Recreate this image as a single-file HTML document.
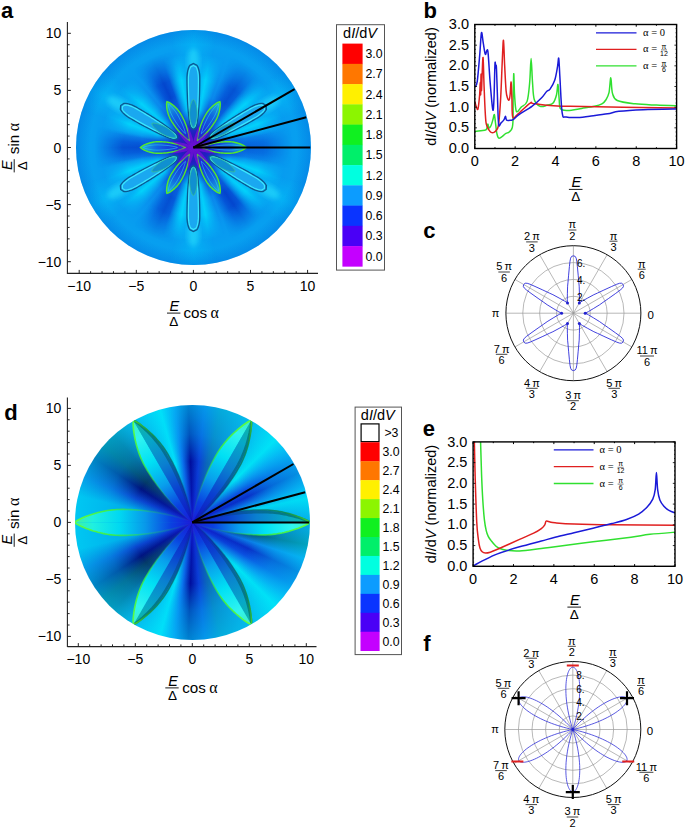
<!DOCTYPE html><html><head><meta charset="utf-8"><style>
html,body{margin:0;padding:0;background:#fff;width:685px;height:828px;overflow:hidden}
.dk{position:absolute;border-radius:50%;overflow:hidden}
svg{position:absolute;left:0;top:0}
</style></head><body>
<div class="dk" style="left:76.10px;top:30.20px;width:234.60px;height:234.60px;background:radial-gradient(circle closest-side, #3a10b0 0%, #2020c0 12%, #0c50d8 28%, #0a88ec 45%, #0898f0 70%, #06a4f0 100%);"></div>
<div class="dk" style="left:76.10px;top:30.20px;width:234.60px;height:234.60px;background:conic-gradient(rgba(0,32,200,0.000) 0deg,rgba(0,32,200,0.000) 22.00deg,rgba(0,24,192,0.400) 30.00deg,rgba(0,20,184,0.500) 35.00deg,rgba(0,24,192,0.400) 40.00deg,rgba(0,32,200,0.000) 48.00deg,rgba(0,32,200,0.000) 77.00deg,rgba(0,24,192,0.280) 85.00deg,rgba(0,20,184,0.350) 90.00deg,rgba(0,24,192,0.280) 95.00deg,rgba(0,32,200,0.000) 103.00deg,rgba(0,32,200,0.000) 132.00deg,rgba(0,24,192,0.480) 140.00deg,rgba(0,20,184,0.600) 145.00deg,rgba(0,24,192,0.480) 150.00deg,rgba(0,32,200,0.000) 158.00deg,rgba(0,32,200,0.000) 192.00deg,rgba(0,24,192,0.400) 200.00deg,rgba(0,20,184,0.500) 205.00deg,rgba(0,24,192,0.400) 210.00deg,rgba(0,32,200,0.000) 218.00deg,rgba(0,32,200,0.000) 257.00deg,rgba(0,24,192,0.400) 265.00deg,rgba(0,20,184,0.500) 270.00deg,rgba(0,24,192,0.400) 275.00deg,rgba(0,32,200,0.000) 283.00deg,rgba(0,32,200,0.000) 322.00deg,rgba(0,24,192,0.480) 330.00deg,rgba(0,20,184,0.600) 335.00deg,rgba(0,24,192,0.480) 340.00deg,rgba(0,32,200,0.000) 348.00deg,rgba(0,32,200,0.000) 360deg);-webkit-mask-image:radial-gradient(circle closest-side, transparent 30%, #000 46%, #000 60%, transparent 84%);mask-image:radial-gradient(circle closest-side, transparent 30%, #000 46%, #000 60%, transparent 84%)"></div>
<div class="dk" style="left:76.10px;top:30.20px;width:234.60px;height:234.60px;background:conic-gradient(rgba(0,224,255,0.350) 0deg,rgba(0,224,255,0.350) 4.00deg,rgba(0,232,255,0.750) 10.00deg,rgba(0,224,255,0.000) 20.00deg,rgba(0,224,255,0.000) 40.00deg,rgba(0,232,255,0.750) 50.00deg,rgba(0,224,255,0.350) 56.00deg,rgba(0,224,255,0.350) 64.00deg,rgba(0,232,255,0.750) 70.00deg,rgba(0,224,255,0.000) 80.00deg,rgba(0,224,255,0.000) 100.00deg,rgba(0,232,255,0.750) 110.00deg,rgba(0,224,255,0.350) 116.00deg,rgba(0,224,255,0.350) 124.00deg,rgba(0,232,255,0.750) 130.00deg,rgba(0,224,255,0.000) 140.00deg,rgba(0,224,255,0.000) 160.00deg,rgba(0,232,255,0.750) 170.00deg,rgba(0,224,255,0.350) 176.00deg,rgba(0,224,255,0.350) 184.00deg,rgba(0,232,255,0.750) 190.00deg,rgba(0,224,255,0.000) 200.00deg,rgba(0,224,255,0.000) 220.00deg,rgba(0,232,255,0.750) 230.00deg,rgba(0,224,255,0.350) 236.00deg,rgba(0,224,255,0.350) 244.00deg,rgba(0,232,255,0.750) 250.00deg,rgba(0,224,255,0.000) 260.00deg,rgba(0,224,255,0.000) 280.00deg,rgba(0,232,255,0.750) 290.00deg,rgba(0,224,255,0.350) 296.00deg,rgba(0,224,255,0.350) 304.00deg,rgba(0,232,255,0.750) 310.00deg,rgba(0,224,255,0.000) 320.00deg,rgba(0,224,255,0.000) 340.00deg,rgba(0,232,255,0.750) 350.00deg,rgba(0,224,255,0.350) 356.00deg,rgba(0,224,255,0.350) 360deg);-webkit-mask-image:radial-gradient(circle closest-side, transparent 18%, #000 32%, #000 58%, transparent 80%);mask-image:radial-gradient(circle closest-side, transparent 18%, #000 32%, #000 58%, transparent 80%)"></div>
<div class="dk" style="left:76.10px;top:30.20px;width:234.60px;height:234.60px;background:conic-gradient(rgba(0,216,255,0.300) 0deg,rgba(0,216,255,0.300) 0.00deg,rgba(0,216,255,0.000) 12.00deg,rgba(0,216,255,0.000) 48.00deg,rgba(0,216,255,0.300) 60.00deg,rgba(0,216,255,0.000) 72.00deg,rgba(0,216,255,0.000) 108.00deg,rgba(0,216,255,0.300) 120.00deg,rgba(0,216,255,0.000) 132.00deg,rgba(0,216,255,0.000) 168.00deg,rgba(0,216,255,0.300) 180.00deg,rgba(0,216,255,0.000) 192.00deg,rgba(0,216,255,0.000) 228.00deg,rgba(0,216,255,0.300) 240.00deg,rgba(0,216,255,0.000) 252.00deg,rgba(0,216,255,0.000) 288.00deg,rgba(0,216,255,0.300) 300.00deg,rgba(0,216,255,0.000) 312.00deg,rgba(0,216,255,0.000) 348.00deg,rgba(0,216,255,0.300) 360deg);-webkit-mask-image:radial-gradient(circle closest-side, transparent 60%, #000 80%, #000 100%);mask-image:radial-gradient(circle closest-side, transparent 60%, #000 80%, #000 100%)"></div>
<div class="dk" style="left:76.10px;top:30.20px;width:234.60px;height:234.60px;background:radial-gradient(circle closest-side, rgba(0,60,200,0) 88%, rgba(0,70,210,.28) 100%);"></div>
<div class="dk" style="left:75.00px;top:405.10px;width:234.60px;height:234.60px;background:radial-gradient(circle closest-side, rgba(48,16,216,.95) 0%, rgba(20,24,210,.7) 10%, rgba(10,30,200,.35) 28%, rgba(10,40,200,.1) 45%, rgba(0,200,250,0) 52%, rgba(0,215,250,.35) 75%, rgba(0,225,250,.55) 100%), conic-gradient(rgba(2,26,171,1.000) 0deg,rgba(10,64,216,1.000) 6.00deg,rgba(10,106,184,1.000) 14.00deg,rgba(10,144,224,1.000) 30.00deg,rgba(0,228,244,1.000) 45.00deg,rgba(10,144,238,1.000) 52.00deg,rgba(10,80,224,1.000) 58.00deg,rgba(8,48,200,1.000) 65.00deg,rgba(10,128,232,1.000) 72.00deg,rgba(0,216,240,1.000) 78.00deg,rgba(10,112,216,1.000) 90.00deg,rgba(4,88,120,1.000) 101.00deg,rgba(10,128,232,1.000) 108.00deg,rgba(8,48,200,1.000) 115.00deg,rgba(10,80,224,1.000) 122.00deg,rgba(10,144,238,1.000) 128.00deg,rgba(0,228,244,1.000) 135.00deg,rgba(10,144,224,1.000) 150.00deg,rgba(10,106,184,1.000) 166.00deg,rgba(10,64,216,1.000) 174.00deg,rgba(0,14,156,1.000) 182.00deg,rgba(10,112,236,1.000) 189.00deg,rgba(0,224,248,1.000) 196.00deg,rgba(10,144,224,1.000) 210.00deg,rgba(6,74,128,1.000) 222.00deg,rgba(4,60,104,1.000) 229.00deg,rgba(0,20,128,1.000) 237.00deg,rgba(10,72,208,1.000) 247.00deg,rgba(0,168,232,1.000) 257.00deg,rgba(0,168,232,1.000) 270.00deg,rgba(0,168,232,1.000) 283.00deg,rgba(10,72,208,1.000) 293.00deg,rgba(0,20,128,1.000) 303.00deg,rgba(4,60,104,1.000) 311.00deg,rgba(6,74,128,1.000) 318.00deg,rgba(10,144,224,1.000) 330.00deg,rgba(0,224,248,1.000) 344.00deg,rgba(10,112,236,1.000) 351.00deg,rgba(0,14,156,1.000) 358.00deg,rgba(2,26,171,1.000) 360deg);"></div>
<svg width="685" height="828" viewBox="0 0 685 828" font-family="Liberation Sans, sans-serif">
<defs>
<clipPath id="clipA"><circle cx="193.40" cy="147.50" r="117.30"/></clipPath>
<clipPath id="clipD"><circle cx="192.30" cy="522.40" r="117.30"/></clipPath>
<filter id="bl1" x="-20%" y="-20%" width="140%" height="140%"><feGaussianBlur stdDeviation="1.2"/></filter>
<filter id="bl2" x="-20%" y="-20%" width="140%" height="140%"><feGaussianBlur stdDeviation="2.5"/></filter>
<filter id="bl05"><feGaussianBlur stdDeviation="0.5"/></filter>
</defs>
<g clip-path="url(#clipD)">
<defs>
<linearGradient id="gd0c" gradientUnits="userSpaceOnUse" x1="192.30" y1="522.40" x2="309.60" y2="522.40">
<stop offset="0.000" stop-color="#1010c0" stop-opacity="1.000"/>
<stop offset="0.300" stop-color="#0a40d0" stop-opacity="1.000"/>
<stop offset="0.550" stop-color="#0a80d0" stop-opacity="1.000"/>
<stop offset="0.800" stop-color="#06a8c8" stop-opacity="1.000"/>
<stop offset="1.000" stop-color="#10b8a0" stop-opacity="1.000"/>
</linearGradient>
<linearGradient id="gd0w" gradientUnits="userSpaceOnUse" x1="192.30" y1="522.40" x2="309.60" y2="522.40">
<stop offset="0.000" stop-color="#1a18d8" stop-opacity="1.000"/>
<stop offset="0.180" stop-color="#0a40e0" stop-opacity="1.000"/>
<stop offset="0.400" stop-color="#08a0ec" stop-opacity="1.000"/>
<stop offset="0.620" stop-color="#00e0f4" stop-opacity="1.000"/>
<stop offset="0.850" stop-color="#30f4f0" stop-opacity="1.000"/>
<stop offset="1.000" stop-color="#40f0c0" stop-opacity="1.000"/>
</linearGradient>
<linearGradient id="gd0g" gradientUnits="userSpaceOnUse" x1="192.30" y1="522.40" x2="309.60" y2="522.40">
<stop offset="0.000" stop-color="#30e030" stop-opacity="0.000"/>
<stop offset="0.350" stop-color="#30e030" stop-opacity="0.250"/>
<stop offset="0.700" stop-color="#40f040" stop-opacity="0.900"/>
<stop offset="1.000" stop-color="#60ff40" stop-opacity="1.000"/>
</linearGradient>
<linearGradient id="gd0t" gradientUnits="userSpaceOnUse" x1="192.30" y1="522.40" x2="309.60" y2="522.40">
<stop offset="0.000" stop-color="#003050" stop-opacity="0.000"/>
<stop offset="0.350" stop-color="#003a50" stop-opacity="0.300"/>
<stop offset="0.750" stop-color="#005048" stop-opacity="0.500"/>
<stop offset="1.000" stop-color="#006040" stop-opacity="0.500"/>
</linearGradient>
<linearGradient id="gd0e" gradientUnits="userSpaceOnUse" x1="192.30" y1="522.40" x2="309.60" y2="522.40">
<stop offset="0.000" stop-color="#003050" stop-opacity="0.000"/>
<stop offset="0.400" stop-color="#004050" stop-opacity="0.500"/>
<stop offset="0.800" stop-color="#108840" stop-opacity="0.800"/>
<stop offset="1.000" stop-color="#40d030" stop-opacity="1.000"/>
</linearGradient>
</defs>
<path d="M192.30,522.40 L194.66,521.22 L197.01,520.35 L199.37,519.57 L201.72,518.84 L204.08,518.16 L206.44,517.51 L208.79,516.90 L211.15,516.31 L213.50,515.75 L215.86,515.22 L218.22,514.71 L220.57,514.23 L222.93,513.77 L225.28,513.34 L227.64,512.93 L230.00,512.54 L232.35,512.18 L234.71,511.85 L237.06,511.54 L239.42,511.26 L241.78,511.00 L244.13,510.77 L246.49,510.57 L248.84,510.39 L251.20,510.24 L253.56,510.12 L255.91,510.02 L258.27,509.95 L260.62,509.91 L262.98,509.90 L265.34,509.93 L267.69,510.02 L270.05,510.18 L272.40,510.39 L274.76,510.67 L277.12,511.00 L279.47,511.40 L281.83,511.85 L284.18,512.36 L286.54,512.93 L288.90,513.55 L291.25,514.23 L293.61,514.96 L295.96,515.75 L298.32,516.60 L300.68,517.51 L303.03,518.50 L305.39,519.57 L307.74,520.77 L310.10,522.40 Z" fill="url(#gd0c)"/>
<path d="M192.30,522.40 L194.66,523.58 L197.01,524.45 L199.37,525.23 L201.72,525.96 L204.08,526.64 L206.44,527.29 L208.79,527.90 L211.15,528.49 L213.50,529.05 L215.86,529.58 L218.22,530.09 L220.57,530.57 L222.93,531.03 L225.28,531.46 L227.64,531.87 L230.00,532.26 L232.35,532.62 L234.71,532.95 L237.06,533.26 L239.42,533.54 L241.78,533.80 L244.13,534.03 L246.49,534.23 L248.84,534.41 L251.20,534.56 L253.56,534.68 L255.91,534.78 L258.27,534.85 L260.62,534.89 L262.98,534.90 L265.34,534.87 L267.69,534.78 L270.05,534.62 L272.40,534.41 L274.76,534.13 L277.12,533.80 L279.47,533.40 L281.83,532.95 L284.18,532.44 L286.54,531.87 L288.90,531.25 L291.25,530.57 L293.61,529.84 L295.96,529.05 L298.32,528.20 L300.68,527.29 L303.03,526.30 L305.39,525.23 L307.74,524.03 L310.10,522.40 Z" fill="url(#gd0w)"/>
<path d="M192.30,522.40 L194.66,521.43 L197.01,520.71 L199.37,520.06 L201.72,519.47 L204.08,518.91 L206.44,518.37 L208.79,517.87 L211.15,517.38 L213.50,516.92 L215.86,516.48 L218.22,516.07 L220.57,515.67 L222.93,515.29 L225.28,514.93 L227.64,514.59 L230.00,514.28 L232.35,513.98 L234.71,513.71 L237.06,513.45 L239.42,513.22 L241.78,513.01 L244.13,512.82 L246.49,512.65 L248.84,512.51 L251.20,512.38 L253.56,512.28 L255.91,512.20 L258.27,512.15 L260.62,512.11 L262.98,512.10 L265.34,512.13 L267.69,512.20 L270.05,512.33 L272.40,512.51 L274.76,512.73 L277.12,513.01 L279.47,513.33 L281.83,513.71 L284.18,514.13 L286.54,514.59 L288.90,515.11 L291.25,515.67 L293.61,516.27 L295.96,516.92 L298.32,517.62 L300.68,518.37 L303.03,519.18 L305.39,520.06 L307.74,521.06 L310.10,522.40" fill="none" stroke="url(#gd0t)" stroke-width="2.6"/>
<path d="M192.30,522.40 L194.66,521.22 L197.01,520.35 L199.37,519.57 L201.72,518.84 L204.08,518.16 L206.44,517.51 L208.79,516.90 L211.15,516.31 L213.50,515.75 L215.86,515.22 L218.22,514.71 L220.57,514.23 L222.93,513.77 L225.28,513.34 L227.64,512.93 L230.00,512.54 L232.35,512.18 L234.71,511.85 L237.06,511.54 L239.42,511.26 L241.78,511.00 L244.13,510.77 L246.49,510.57 L248.84,510.39 L251.20,510.24 L253.56,510.12 L255.91,510.02 L258.27,509.95 L260.62,509.91 L262.98,509.90 L265.34,509.93 L267.69,510.02 L270.05,510.18 L272.40,510.39 L274.76,510.67 L277.12,511.00 L279.47,511.40 L281.83,511.85 L284.18,512.36 L286.54,512.93 L288.90,513.55 L291.25,514.23 L293.61,514.96 L295.96,515.75 L298.32,516.60 L300.68,517.51 L303.03,518.50 L305.39,519.57 L307.74,520.77 L310.10,522.40" fill="none" stroke="url(#gd0e)" stroke-width="1.5"/>
<path d="M192.30,522.40 L194.66,523.58 L197.01,524.45 L199.37,525.23 L201.72,525.96 L204.08,526.64 L206.44,527.29 L208.79,527.90 L211.15,528.49 L213.50,529.05 L215.86,529.58 L218.22,530.09 L220.57,530.57 L222.93,531.03 L225.28,531.46 L227.64,531.87 L230.00,532.26 L232.35,532.62 L234.71,532.95 L237.06,533.26 L239.42,533.54 L241.78,533.80 L244.13,534.03 L246.49,534.23 L248.84,534.41 L251.20,534.56 L253.56,534.68 L255.91,534.78 L258.27,534.85 L260.62,534.89 L262.98,534.90 L265.34,534.87 L267.69,534.78 L270.05,534.62 L272.40,534.41 L274.76,534.13 L277.12,533.80 L279.47,533.40 L281.83,532.95 L284.18,532.44 L286.54,531.87 L288.90,531.25 L291.25,530.57 L293.61,529.84 L295.96,529.05 L298.32,528.20 L300.68,527.29 L303.03,526.30 L305.39,525.23 L307.74,524.03 L310.10,522.40" fill="none" stroke="url(#gd0g)" stroke-width="1.6"/>
<defs>
<linearGradient id="gd1c" gradientUnits="userSpaceOnUse" x1="192.30" y1="522.40" x2="250.95" y2="420.82">
<stop offset="0.000" stop-color="#1a18d8" stop-opacity="1.000"/>
<stop offset="0.180" stop-color="#0a40e0" stop-opacity="1.000"/>
<stop offset="0.400" stop-color="#08a0ec" stop-opacity="1.000"/>
<stop offset="0.620" stop-color="#00e0f4" stop-opacity="1.000"/>
<stop offset="0.850" stop-color="#30f4f0" stop-opacity="1.000"/>
<stop offset="1.000" stop-color="#40f0c0" stop-opacity="1.000"/>
</linearGradient>
<linearGradient id="gd1w" gradientUnits="userSpaceOnUse" x1="192.30" y1="522.40" x2="250.95" y2="420.82">
<stop offset="0.000" stop-color="#1010c0" stop-opacity="1.000"/>
<stop offset="0.300" stop-color="#0a40d0" stop-opacity="1.000"/>
<stop offset="0.550" stop-color="#0a80d0" stop-opacity="1.000"/>
<stop offset="0.800" stop-color="#06a8c8" stop-opacity="1.000"/>
<stop offset="1.000" stop-color="#10b8a0" stop-opacity="1.000"/>
</linearGradient>
<linearGradient id="gd1g" gradientUnits="userSpaceOnUse" x1="192.30" y1="522.40" x2="250.95" y2="420.82">
<stop offset="0.000" stop-color="#30e030" stop-opacity="0.000"/>
<stop offset="0.350" stop-color="#30e030" stop-opacity="0.250"/>
<stop offset="0.700" stop-color="#40f040" stop-opacity="0.900"/>
<stop offset="1.000" stop-color="#60ff40" stop-opacity="1.000"/>
</linearGradient>
<linearGradient id="gd1t" gradientUnits="userSpaceOnUse" x1="192.30" y1="522.40" x2="250.95" y2="420.82">
<stop offset="0.000" stop-color="#003050" stop-opacity="0.000"/>
<stop offset="0.350" stop-color="#003a50" stop-opacity="0.300"/>
<stop offset="0.750" stop-color="#005048" stop-opacity="0.500"/>
<stop offset="1.000" stop-color="#006040" stop-opacity="0.500"/>
</linearGradient>
<linearGradient id="gd1e" gradientUnits="userSpaceOnUse" x1="192.30" y1="522.40" x2="250.95" y2="420.82">
<stop offset="0.000" stop-color="#003050" stop-opacity="0.000"/>
<stop offset="0.400" stop-color="#004050" stop-opacity="0.500"/>
<stop offset="0.800" stop-color="#108840" stop-opacity="0.800"/>
<stop offset="1.000" stop-color="#40d030" stop-opacity="1.000"/>
</linearGradient>
</defs>
<path d="M192.30,522.40 L192.42,519.75 L192.81,517.25 L193.28,514.81 L193.81,512.39 L194.37,509.99 L194.97,507.62 L195.59,505.26 L196.24,502.91 L196.92,500.58 L197.61,498.26 L198.33,495.96 L199.08,493.67 L199.84,491.39 L200.63,489.12 L201.44,486.87 L202.27,484.63 L203.12,482.40 L204.00,480.19 L204.90,477.99 L205.83,475.80 L206.77,473.63 L207.74,471.47 L208.74,469.32 L209.76,467.19 L210.80,465.07 L211.87,462.96 L212.96,460.87 L214.08,458.80 L215.22,456.74 L216.38,454.69 L217.59,452.67 L218.85,450.67 L220.17,448.71 L221.54,446.78 L222.96,444.89 L224.44,443.02 L225.98,441.19 L227.56,439.38 L229.20,437.61 L230.89,435.86 L232.63,434.14 L234.42,432.46 L236.26,430.80 L238.15,429.17 L240.09,427.57 L242.09,426.00 L244.15,424.47 L246.29,422.99 L248.55,421.57 L251.20,420.38 Z" fill="url(#gd1c)"/>
<path d="M192.30,522.40 L194.54,520.97 L196.50,519.39 L198.39,517.75 L200.22,516.09 L202.01,514.40 L203.77,512.70 L205.50,510.98 L207.21,509.24 L208.89,507.49 L210.55,505.73 L212.18,503.95 L213.80,502.16 L215.39,500.36 L216.96,498.55 L218.50,496.72 L220.03,494.88 L221.53,493.03 L223.01,491.16 L224.46,489.28 L225.89,487.39 L227.30,485.48 L228.69,483.56 L230.05,481.62 L231.39,479.68 L232.70,477.71 L233.99,475.74 L235.25,473.75 L236.49,471.74 L237.71,469.72 L238.90,467.69 L240.05,465.63 L241.14,463.54 L242.18,461.42 L243.17,459.27 L244.10,457.09 L244.97,454.87 L245.80,452.63 L246.57,450.35 L247.28,448.05 L247.95,445.71 L248.57,443.35 L249.14,440.95 L249.65,438.53 L250.12,436.08 L250.53,433.60 L250.89,431.08 L251.18,428.53 L251.40,425.94 L251.49,423.27 L251.20,420.38 Z" fill="url(#gd1w)"/>
<path d="M192.30,522.40 L194.36,520.87 L196.19,519.21 L197.95,517.50 L199.67,515.78 L201.36,514.03 L203.02,512.27 L204.66,510.49 L206.28,508.71 L207.87,506.91 L209.45,505.10 L211.01,503.28 L212.55,501.45 L214.07,499.60 L215.57,497.75 L217.06,495.89 L218.52,494.01 L219.97,492.13 L221.40,490.23 L222.81,488.32 L224.20,486.41 L225.57,484.48 L226.92,482.54 L228.25,480.58 L229.56,478.62 L230.85,476.64 L232.12,474.66 L233.37,472.66 L234.60,470.65 L235.80,468.62 L236.99,466.59 L238.15,464.54 L239.26,462.46 L240.32,460.35 L241.34,458.22 L242.31,456.06 L243.24,453.87 L244.12,451.66 L244.96,449.42 L245.75,447.16 L246.51,444.88 L247.22,442.57 L247.89,440.24 L248.52,437.88 L249.10,435.50 L249.65,433.09 L250.14,430.65 L250.59,428.19 L250.96,425.69 L251.24,423.13 L251.20,420.38" fill="none" stroke="url(#gd1t)" stroke-width="2.6"/>
<path d="M192.30,522.40 L192.42,519.75 L192.81,517.25 L193.28,514.81 L193.81,512.39 L194.37,509.99 L194.97,507.62 L195.59,505.26 L196.24,502.91 L196.92,500.58 L197.61,498.26 L198.33,495.96 L199.08,493.67 L199.84,491.39 L200.63,489.12 L201.44,486.87 L202.27,484.63 L203.12,482.40 L204.00,480.19 L204.90,477.99 L205.83,475.80 L206.77,473.63 L207.74,471.47 L208.74,469.32 L209.76,467.19 L210.80,465.07 L211.87,462.96 L212.96,460.87 L214.08,458.80 L215.22,456.74 L216.38,454.69 L217.59,452.67 L218.85,450.67 L220.17,448.71 L221.54,446.78 L222.96,444.89 L224.44,443.02 L225.98,441.19 L227.56,439.38 L229.20,437.61 L230.89,435.86 L232.63,434.14 L234.42,432.46 L236.26,430.80 L238.15,429.17 L240.09,427.57 L242.09,426.00 L244.15,424.47 L246.29,422.99 L248.55,421.57 L251.20,420.38" fill="none" stroke="url(#gd1g)" stroke-width="1.6"/>
<path d="M192.30,522.40 L194.54,520.97 L196.50,519.39 L198.39,517.75 L200.22,516.09 L202.01,514.40 L203.77,512.70 L205.50,510.98 L207.21,509.24 L208.89,507.49 L210.55,505.73 L212.18,503.95 L213.80,502.16 L215.39,500.36 L216.96,498.55 L218.50,496.72 L220.03,494.88 L221.53,493.03 L223.01,491.16 L224.46,489.28 L225.89,487.39 L227.30,485.48 L228.69,483.56 L230.05,481.62 L231.39,479.68 L232.70,477.71 L233.99,475.74 L235.25,473.75 L236.49,471.74 L237.71,469.72 L238.90,467.69 L240.05,465.63 L241.14,463.54 L242.18,461.42 L243.17,459.27 L244.10,457.09 L244.97,454.87 L245.80,452.63 L246.57,450.35 L247.28,448.05 L247.95,445.71 L248.57,443.35 L249.14,440.95 L249.65,438.53 L250.12,436.08 L250.53,433.60 L250.89,431.08 L251.18,428.53 L251.40,425.94 L251.49,423.27 L251.20,420.38" fill="none" stroke="url(#gd1e)" stroke-width="1.5"/>
<defs>
<linearGradient id="gd2c" gradientUnits="userSpaceOnUse" x1="192.30" y1="522.40" x2="133.65" y2="420.82">
<stop offset="0.000" stop-color="#1a18d8" stop-opacity="1.000"/>
<stop offset="0.180" stop-color="#0a40e0" stop-opacity="1.000"/>
<stop offset="0.400" stop-color="#08a0ec" stop-opacity="1.000"/>
<stop offset="0.620" stop-color="#00e0f4" stop-opacity="1.000"/>
<stop offset="0.850" stop-color="#30f4f0" stop-opacity="1.000"/>
<stop offset="1.000" stop-color="#40f0c0" stop-opacity="1.000"/>
</linearGradient>
<linearGradient id="gd2w" gradientUnits="userSpaceOnUse" x1="192.30" y1="522.40" x2="133.65" y2="420.82">
<stop offset="0.000" stop-color="#1010c0" stop-opacity="1.000"/>
<stop offset="0.300" stop-color="#0a40d0" stop-opacity="1.000"/>
<stop offset="0.550" stop-color="#0a80d0" stop-opacity="1.000"/>
<stop offset="0.800" stop-color="#06a8c8" stop-opacity="1.000"/>
<stop offset="1.000" stop-color="#10b8a0" stop-opacity="1.000"/>
</linearGradient>
<linearGradient id="gd2g" gradientUnits="userSpaceOnUse" x1="192.30" y1="522.40" x2="133.65" y2="420.82">
<stop offset="0.000" stop-color="#30e030" stop-opacity="0.000"/>
<stop offset="0.350" stop-color="#30e030" stop-opacity="0.250"/>
<stop offset="0.700" stop-color="#40f040" stop-opacity="0.900"/>
<stop offset="1.000" stop-color="#60ff40" stop-opacity="1.000"/>
</linearGradient>
<linearGradient id="gd2t" gradientUnits="userSpaceOnUse" x1="192.30" y1="522.40" x2="133.65" y2="420.82">
<stop offset="0.000" stop-color="#003050" stop-opacity="0.000"/>
<stop offset="0.350" stop-color="#003a50" stop-opacity="0.300"/>
<stop offset="0.750" stop-color="#005048" stop-opacity="0.500"/>
<stop offset="1.000" stop-color="#006040" stop-opacity="0.500"/>
</linearGradient>
<linearGradient id="gd2e" gradientUnits="userSpaceOnUse" x1="192.30" y1="522.40" x2="133.65" y2="420.82">
<stop offset="0.000" stop-color="#003050" stop-opacity="0.000"/>
<stop offset="0.400" stop-color="#004050" stop-opacity="0.500"/>
<stop offset="0.800" stop-color="#108840" stop-opacity="0.800"/>
<stop offset="1.000" stop-color="#40d030" stop-opacity="1.000"/>
</linearGradient>
</defs>
<path d="M192.30,522.40 L190.06,520.97 L188.10,519.39 L186.21,517.75 L184.38,516.09 L182.59,514.40 L180.83,512.70 L179.10,510.98 L177.39,509.24 L175.71,507.49 L174.05,505.73 L172.42,503.95 L170.80,502.16 L169.21,500.36 L167.64,498.55 L166.10,496.72 L164.57,494.88 L163.07,493.03 L161.59,491.16 L160.14,489.28 L158.71,487.39 L157.30,485.48 L155.91,483.56 L154.55,481.62 L153.21,479.68 L151.90,477.71 L150.61,475.74 L149.35,473.75 L148.11,471.74 L146.89,469.72 L145.70,467.69 L144.55,465.63 L143.46,463.54 L142.42,461.42 L141.43,459.27 L140.50,457.09 L139.63,454.87 L138.80,452.63 L138.03,450.35 L137.32,448.05 L136.65,445.71 L136.03,443.35 L135.46,440.95 L134.95,438.53 L134.48,436.08 L134.07,433.60 L133.71,431.08 L133.42,428.53 L133.20,425.94 L133.11,423.27 L133.40,420.38 Z" fill="url(#gd2c)"/>
<path d="M192.30,522.40 L192.18,519.75 L191.79,517.25 L191.32,514.81 L190.79,512.39 L190.23,509.99 L189.63,507.62 L189.01,505.26 L188.36,502.91 L187.68,500.58 L186.99,498.26 L186.27,495.96 L185.52,493.67 L184.76,491.39 L183.97,489.12 L183.16,486.87 L182.33,484.63 L181.48,482.40 L180.60,480.19 L179.70,477.99 L178.77,475.80 L177.83,473.63 L176.86,471.47 L175.86,469.32 L174.84,467.19 L173.80,465.07 L172.73,462.96 L171.64,460.87 L170.52,458.80 L169.38,456.74 L168.22,454.69 L167.01,452.67 L165.75,450.67 L164.43,448.71 L163.06,446.78 L161.64,444.89 L160.16,443.02 L158.62,441.19 L157.04,439.38 L155.40,437.61 L153.71,435.86 L151.97,434.14 L150.18,432.46 L148.34,430.80 L146.45,429.17 L144.51,427.57 L142.51,426.00 L140.45,424.47 L138.31,422.99 L136.05,421.57 L133.40,420.38 Z" fill="url(#gd2w)"/>
<path d="M192.30,522.40 L192.01,519.85 L191.48,517.43 L190.89,515.05 L190.25,512.70 L189.58,510.37 L188.89,508.05 L188.17,505.74 L187.43,503.45 L186.67,501.17 L185.89,498.89 L185.09,496.63 L184.28,494.39 L183.44,492.15 L182.59,489.92 L181.72,487.70 L180.83,485.50 L179.92,483.30 L178.99,481.12 L178.04,478.94 L177.08,476.78 L176.09,474.63 L175.08,472.49 L174.06,470.36 L173.01,468.24 L171.95,466.14 L170.86,464.05 L169.75,461.96 L168.63,459.89 L167.48,457.84 L166.31,455.79 L165.11,453.76 L163.86,451.76 L162.57,449.79 L161.23,447.84 L159.85,445.92 L158.42,444.02 L156.95,442.15 L155.43,440.31 L153.87,438.49 L152.27,436.69 L150.62,434.92 L148.94,433.18 L147.21,431.45 L145.44,429.75 L143.63,428.08 L141.77,426.43 L139.85,424.82 L137.88,423.24 L135.80,421.72 L133.40,420.38" fill="none" stroke="url(#gd2t)" stroke-width="2.6"/>
<path d="M192.30,522.40 L190.06,520.97 L188.10,519.39 L186.21,517.75 L184.38,516.09 L182.59,514.40 L180.83,512.70 L179.10,510.98 L177.39,509.24 L175.71,507.49 L174.05,505.73 L172.42,503.95 L170.80,502.16 L169.21,500.36 L167.64,498.55 L166.10,496.72 L164.57,494.88 L163.07,493.03 L161.59,491.16 L160.14,489.28 L158.71,487.39 L157.30,485.48 L155.91,483.56 L154.55,481.62 L153.21,479.68 L151.90,477.71 L150.61,475.74 L149.35,473.75 L148.11,471.74 L146.89,469.72 L145.70,467.69 L144.55,465.63 L143.46,463.54 L142.42,461.42 L141.43,459.27 L140.50,457.09 L139.63,454.87 L138.80,452.63 L138.03,450.35 L137.32,448.05 L136.65,445.71 L136.03,443.35 L135.46,440.95 L134.95,438.53 L134.48,436.08 L134.07,433.60 L133.71,431.08 L133.42,428.53 L133.20,425.94 L133.11,423.27 L133.40,420.38" fill="none" stroke="url(#gd2g)" stroke-width="1.6"/>
<path d="M192.30,522.40 L192.18,519.75 L191.79,517.25 L191.32,514.81 L190.79,512.39 L190.23,509.99 L189.63,507.62 L189.01,505.26 L188.36,502.91 L187.68,500.58 L186.99,498.26 L186.27,495.96 L185.52,493.67 L184.76,491.39 L183.97,489.12 L183.16,486.87 L182.33,484.63 L181.48,482.40 L180.60,480.19 L179.70,477.99 L178.77,475.80 L177.83,473.63 L176.86,471.47 L175.86,469.32 L174.84,467.19 L173.80,465.07 L172.73,462.96 L171.64,460.87 L170.52,458.80 L169.38,456.74 L168.22,454.69 L167.01,452.67 L165.75,450.67 L164.43,448.71 L163.06,446.78 L161.64,444.89 L160.16,443.02 L158.62,441.19 L157.04,439.38 L155.40,437.61 L153.71,435.86 L151.97,434.14 L150.18,432.46 L148.34,430.80 L146.45,429.17 L144.51,427.57 L142.51,426.00 L140.45,424.47 L138.31,422.99 L136.05,421.57 L133.40,420.38" fill="none" stroke="url(#gd2e)" stroke-width="1.5"/>
<defs>
<linearGradient id="gd3c" gradientUnits="userSpaceOnUse" x1="192.30" y1="522.40" x2="75.00" y2="522.40">
<stop offset="0.000" stop-color="#1a18d8" stop-opacity="1.000"/>
<stop offset="0.180" stop-color="#0a40e0" stop-opacity="1.000"/>
<stop offset="0.400" stop-color="#0898ea" stop-opacity="1.000"/>
<stop offset="0.620" stop-color="#00d8f2" stop-opacity="1.000"/>
<stop offset="0.850" stop-color="#20f0e0" stop-opacity="1.000"/>
<stop offset="1.000" stop-color="#40f0a0" stop-opacity="1.000"/>
</linearGradient>
<linearGradient id="gd3w" gradientUnits="userSpaceOnUse" x1="192.30" y1="522.40" x2="75.00" y2="522.40">
<stop offset="0.000" stop-color="#1a18d8" stop-opacity="1.000"/>
<stop offset="0.180" stop-color="#0a40e0" stop-opacity="1.000"/>
<stop offset="0.400" stop-color="#0898ea" stop-opacity="1.000"/>
<stop offset="0.620" stop-color="#00d8f2" stop-opacity="1.000"/>
<stop offset="0.850" stop-color="#20f0e0" stop-opacity="1.000"/>
<stop offset="1.000" stop-color="#40f0a0" stop-opacity="1.000"/>
</linearGradient>
<linearGradient id="gd3g" gradientUnits="userSpaceOnUse" x1="192.30" y1="522.40" x2="75.00" y2="522.40">
<stop offset="0.000" stop-color="#30e030" stop-opacity="0.000"/>
<stop offset="0.350" stop-color="#30e030" stop-opacity="0.250"/>
<stop offset="0.700" stop-color="#40f040" stop-opacity="0.900"/>
<stop offset="1.000" stop-color="#60ff40" stop-opacity="1.000"/>
</linearGradient>
<linearGradient id="gd3t" gradientUnits="userSpaceOnUse" x1="192.30" y1="522.40" x2="75.00" y2="522.40">
<stop offset="0.000" stop-color="#003050" stop-opacity="0.000"/>
<stop offset="0.350" stop-color="#003a50" stop-opacity="0.300"/>
<stop offset="0.750" stop-color="#005048" stop-opacity="0.500"/>
<stop offset="1.000" stop-color="#006040" stop-opacity="0.500"/>
</linearGradient>
<linearGradient id="gd3e" gradientUnits="userSpaceOnUse" x1="192.30" y1="522.40" x2="75.00" y2="522.40">
<stop offset="0.000" stop-color="#003050" stop-opacity="0.000"/>
<stop offset="0.400" stop-color="#004050" stop-opacity="0.500"/>
<stop offset="0.800" stop-color="#108840" stop-opacity="0.800"/>
<stop offset="1.000" stop-color="#40d030" stop-opacity="1.000"/>
</linearGradient>
</defs>
<path d="M192.30,522.40 L189.94,523.63 L187.59,524.53 L185.23,525.35 L182.88,526.10 L180.52,526.81 L178.16,527.48 L175.81,528.12 L173.45,528.73 L171.10,529.31 L168.74,529.87 L166.38,530.40 L164.03,530.90 L161.67,531.38 L159.32,531.83 L156.96,532.25 L154.60,532.65 L152.25,533.03 L149.89,533.37 L147.54,533.69 L145.18,533.99 L142.82,534.25 L140.47,534.49 L138.11,534.70 L135.76,534.89 L133.40,535.04 L131.04,535.17 L128.69,535.27 L126.33,535.34 L123.98,535.39 L121.62,535.40 L119.26,535.37 L116.91,535.27 L114.55,535.11 L112.20,534.89 L109.84,534.60 L107.48,534.25 L105.13,533.84 L102.77,533.37 L100.42,532.84 L98.06,532.25 L95.70,531.60 L93.35,530.90 L90.99,530.13 L88.64,529.31 L86.28,528.43 L83.92,527.48 L81.57,526.46 L79.21,525.35 L76.86,524.10 L74.50,522.40 Z" fill="url(#gd3c)"/>
<path d="M192.30,522.40 L189.94,521.17 L187.59,520.27 L185.23,519.45 L182.88,518.70 L180.52,517.99 L178.16,517.32 L175.81,516.68 L173.45,516.07 L171.10,515.49 L168.74,514.93 L166.38,514.40 L164.03,513.90 L161.67,513.42 L159.32,512.97 L156.96,512.55 L154.60,512.15 L152.25,511.77 L149.89,511.43 L147.54,511.11 L145.18,510.81 L142.82,510.55 L140.47,510.31 L138.11,510.10 L135.76,509.91 L133.40,509.76 L131.04,509.63 L128.69,509.53 L126.33,509.46 L123.98,509.41 L121.62,509.40 L119.26,509.43 L116.91,509.53 L114.55,509.69 L112.20,509.91 L109.84,510.20 L107.48,510.55 L105.13,510.96 L102.77,511.43 L100.42,511.96 L98.06,512.55 L95.70,513.20 L93.35,513.90 L90.99,514.67 L88.64,515.49 L86.28,516.37 L83.92,517.32 L81.57,518.34 L79.21,519.45 L76.86,520.70 L74.50,522.40 Z" fill="url(#gd3w)"/>
<path d="M192.30,522.40 L189.94,523.63 L187.59,524.53 L185.23,525.35 L182.88,526.10 L180.52,526.81 L178.16,527.48 L175.81,528.12 L173.45,528.73 L171.10,529.31 L168.74,529.87 L166.38,530.40 L164.03,530.90 L161.67,531.38 L159.32,531.83 L156.96,532.25 L154.60,532.65 L152.25,533.03 L149.89,533.37 L147.54,533.69 L145.18,533.99 L142.82,534.25 L140.47,534.49 L138.11,534.70 L135.76,534.89 L133.40,535.04 L131.04,535.17 L128.69,535.27 L126.33,535.34 L123.98,535.39 L121.62,535.40 L119.26,535.37 L116.91,535.27 L114.55,535.11 L112.20,534.89 L109.84,534.60 L107.48,534.25 L105.13,533.84 L102.77,533.37 L100.42,532.84 L98.06,532.25 L95.70,531.60 L93.35,530.90 L90.99,530.13 L88.64,529.31 L86.28,528.43 L83.92,527.48 L81.57,526.46 L79.21,525.35 L76.86,524.10 L74.50,522.40" fill="none" stroke="url(#gd3g)" stroke-width="1.6"/>
<path d="M192.30,522.40 L189.94,521.17 L187.59,520.27 L185.23,519.45 L182.88,518.70 L180.52,517.99 L178.16,517.32 L175.81,516.68 L173.45,516.07 L171.10,515.49 L168.74,514.93 L166.38,514.40 L164.03,513.90 L161.67,513.42 L159.32,512.97 L156.96,512.55 L154.60,512.15 L152.25,511.77 L149.89,511.43 L147.54,511.11 L145.18,510.81 L142.82,510.55 L140.47,510.31 L138.11,510.10 L135.76,509.91 L133.40,509.76 L131.04,509.63 L128.69,509.53 L126.33,509.46 L123.98,509.41 L121.62,509.40 L119.26,509.43 L116.91,509.53 L114.55,509.69 L112.20,509.91 L109.84,510.20 L107.48,510.55 L105.13,510.96 L102.77,511.43 L100.42,511.96 L98.06,512.55 L95.70,513.20 L93.35,513.90 L90.99,514.67 L88.64,515.49 L86.28,516.37 L83.92,517.32 L81.57,518.34 L79.21,519.45 L76.86,520.70 L74.50,522.40" fill="none" stroke="url(#gd3g)" stroke-width="1.6"/>
<defs>
<linearGradient id="gd4c" gradientUnits="userSpaceOnUse" x1="192.30" y1="522.40" x2="133.65" y2="623.98">
<stop offset="0.000" stop-color="#1010c0" stop-opacity="1.000"/>
<stop offset="0.300" stop-color="#0a40d0" stop-opacity="1.000"/>
<stop offset="0.550" stop-color="#0a80d0" stop-opacity="1.000"/>
<stop offset="0.800" stop-color="#06a8c8" stop-opacity="1.000"/>
<stop offset="1.000" stop-color="#10b8a0" stop-opacity="1.000"/>
</linearGradient>
<linearGradient id="gd4w" gradientUnits="userSpaceOnUse" x1="192.30" y1="522.40" x2="133.65" y2="623.98">
<stop offset="0.000" stop-color="#1a18d8" stop-opacity="1.000"/>
<stop offset="0.180" stop-color="#0a40e0" stop-opacity="1.000"/>
<stop offset="0.400" stop-color="#08a0ec" stop-opacity="1.000"/>
<stop offset="0.620" stop-color="#00e0f4" stop-opacity="1.000"/>
<stop offset="0.850" stop-color="#30f4f0" stop-opacity="1.000"/>
<stop offset="1.000" stop-color="#40f0c0" stop-opacity="1.000"/>
</linearGradient>
<linearGradient id="gd4g" gradientUnits="userSpaceOnUse" x1="192.30" y1="522.40" x2="133.65" y2="623.98">
<stop offset="0.000" stop-color="#30e030" stop-opacity="0.000"/>
<stop offset="0.350" stop-color="#30e030" stop-opacity="0.250"/>
<stop offset="0.700" stop-color="#40f040" stop-opacity="0.900"/>
<stop offset="1.000" stop-color="#60ff40" stop-opacity="1.000"/>
</linearGradient>
<linearGradient id="gd4t" gradientUnits="userSpaceOnUse" x1="192.30" y1="522.40" x2="133.65" y2="623.98">
<stop offset="0.000" stop-color="#003050" stop-opacity="0.000"/>
<stop offset="0.350" stop-color="#003a50" stop-opacity="0.300"/>
<stop offset="0.750" stop-color="#005048" stop-opacity="0.500"/>
<stop offset="1.000" stop-color="#006040" stop-opacity="0.500"/>
</linearGradient>
<linearGradient id="gd4e" gradientUnits="userSpaceOnUse" x1="192.30" y1="522.40" x2="133.65" y2="623.98">
<stop offset="0.000" stop-color="#003050" stop-opacity="0.000"/>
<stop offset="0.400" stop-color="#004050" stop-opacity="0.500"/>
<stop offset="0.800" stop-color="#108840" stop-opacity="0.800"/>
<stop offset="1.000" stop-color="#40d030" stop-opacity="1.000"/>
</linearGradient>
</defs>
<path d="M192.30,522.40 L192.18,525.05 L191.79,527.55 L191.32,529.99 L190.79,532.41 L190.23,534.81 L189.63,537.18 L189.01,539.54 L188.36,541.89 L187.68,544.22 L186.99,546.54 L186.27,548.84 L185.52,551.13 L184.76,553.41 L183.97,555.68 L183.16,557.93 L182.33,560.17 L181.48,562.40 L180.60,564.61 L179.70,566.81 L178.77,569.00 L177.83,571.17 L176.86,573.33 L175.86,575.48 L174.84,577.61 L173.80,579.73 L172.73,581.84 L171.64,583.93 L170.52,586.00 L169.38,588.06 L168.22,590.11 L167.01,592.13 L165.75,594.13 L164.43,596.09 L163.06,598.02 L161.64,599.91 L160.16,601.78 L158.62,603.61 L157.04,605.42 L155.40,607.19 L153.71,608.94 L151.97,610.66 L150.18,612.34 L148.34,614.00 L146.45,615.63 L144.51,617.23 L142.51,618.80 L140.45,620.33 L138.31,621.81 L136.05,623.23 L133.40,624.42 Z" fill="url(#gd4c)"/>
<path d="M192.30,522.40 L190.06,523.83 L188.10,525.41 L186.21,527.05 L184.38,528.71 L182.59,530.40 L180.83,532.10 L179.10,533.82 L177.39,535.56 L175.71,537.31 L174.05,539.07 L172.42,540.85 L170.80,542.64 L169.21,544.44 L167.64,546.25 L166.10,548.08 L164.57,549.92 L163.07,551.77 L161.59,553.64 L160.14,555.52 L158.71,557.41 L157.30,559.32 L155.91,561.24 L154.55,563.18 L153.21,565.12 L151.90,567.09 L150.61,569.06 L149.35,571.05 L148.11,573.06 L146.89,575.08 L145.70,577.11 L144.55,579.17 L143.46,581.26 L142.42,583.38 L141.43,585.53 L140.50,587.71 L139.63,589.93 L138.80,592.17 L138.03,594.45 L137.32,596.75 L136.65,599.09 L136.03,601.45 L135.46,603.85 L134.95,606.27 L134.48,608.72 L134.07,611.20 L133.71,613.72 L133.42,616.27 L133.20,618.86 L133.11,621.53 L133.40,624.42 Z" fill="url(#gd4w)"/>
<path d="M192.30,522.40 L192.01,524.95 L191.48,527.37 L190.89,529.75 L190.25,532.10 L189.58,534.43 L188.89,536.75 L188.17,539.06 L187.43,541.35 L186.67,543.63 L185.89,545.91 L185.09,548.17 L184.28,550.41 L183.44,552.65 L182.59,554.88 L181.72,557.10 L180.83,559.30 L179.92,561.50 L178.99,563.68 L178.04,565.86 L177.08,568.02 L176.09,570.17 L175.08,572.31 L174.06,574.44 L173.01,576.56 L171.95,578.66 L170.86,580.75 L169.75,582.84 L168.63,584.91 L167.48,586.96 L166.31,589.01 L165.11,591.04 L163.86,593.04 L162.57,595.01 L161.23,596.96 L159.85,598.88 L158.42,600.78 L156.95,602.65 L155.43,604.49 L153.87,606.31 L152.27,608.11 L150.62,609.88 L148.94,611.62 L147.21,613.35 L145.44,615.05 L143.63,616.72 L141.77,618.37 L139.85,619.98 L137.88,621.56 L135.80,623.08 L133.40,624.42" fill="none" stroke="url(#gd4t)" stroke-width="2.6"/>
<path d="M192.30,522.40 L192.18,525.05 L191.79,527.55 L191.32,529.99 L190.79,532.41 L190.23,534.81 L189.63,537.18 L189.01,539.54 L188.36,541.89 L187.68,544.22 L186.99,546.54 L186.27,548.84 L185.52,551.13 L184.76,553.41 L183.97,555.68 L183.16,557.93 L182.33,560.17 L181.48,562.40 L180.60,564.61 L179.70,566.81 L178.77,569.00 L177.83,571.17 L176.86,573.33 L175.86,575.48 L174.84,577.61 L173.80,579.73 L172.73,581.84 L171.64,583.93 L170.52,586.00 L169.38,588.06 L168.22,590.11 L167.01,592.13 L165.75,594.13 L164.43,596.09 L163.06,598.02 L161.64,599.91 L160.16,601.78 L158.62,603.61 L157.04,605.42 L155.40,607.19 L153.71,608.94 L151.97,610.66 L150.18,612.34 L148.34,614.00 L146.45,615.63 L144.51,617.23 L142.51,618.80 L140.45,620.33 L138.31,621.81 L136.05,623.23 L133.40,624.42" fill="none" stroke="url(#gd4e)" stroke-width="1.5"/>
<path d="M192.30,522.40 L190.06,523.83 L188.10,525.41 L186.21,527.05 L184.38,528.71 L182.59,530.40 L180.83,532.10 L179.10,533.82 L177.39,535.56 L175.71,537.31 L174.05,539.07 L172.42,540.85 L170.80,542.64 L169.21,544.44 L167.64,546.25 L166.10,548.08 L164.57,549.92 L163.07,551.77 L161.59,553.64 L160.14,555.52 L158.71,557.41 L157.30,559.32 L155.91,561.24 L154.55,563.18 L153.21,565.12 L151.90,567.09 L150.61,569.06 L149.35,571.05 L148.11,573.06 L146.89,575.08 L145.70,577.11 L144.55,579.17 L143.46,581.26 L142.42,583.38 L141.43,585.53 L140.50,587.71 L139.63,589.93 L138.80,592.17 L138.03,594.45 L137.32,596.75 L136.65,599.09 L136.03,601.45 L135.46,603.85 L134.95,606.27 L134.48,608.72 L134.07,611.20 L133.71,613.72 L133.42,616.27 L133.20,618.86 L133.11,621.53 L133.40,624.42" fill="none" stroke="url(#gd4g)" stroke-width="1.6"/>
<defs>
<linearGradient id="gd5c" gradientUnits="userSpaceOnUse" x1="192.30" y1="522.40" x2="250.95" y2="623.98">
<stop offset="0.000" stop-color="#1010c0" stop-opacity="1.000"/>
<stop offset="0.300" stop-color="#0a40d0" stop-opacity="1.000"/>
<stop offset="0.550" stop-color="#0a80d0" stop-opacity="1.000"/>
<stop offset="0.800" stop-color="#06a8c8" stop-opacity="1.000"/>
<stop offset="1.000" stop-color="#10b8a0" stop-opacity="1.000"/>
</linearGradient>
<linearGradient id="gd5w" gradientUnits="userSpaceOnUse" x1="192.30" y1="522.40" x2="250.95" y2="623.98">
<stop offset="0.000" stop-color="#1a18d8" stop-opacity="1.000"/>
<stop offset="0.180" stop-color="#0a40e0" stop-opacity="1.000"/>
<stop offset="0.400" stop-color="#08a0ec" stop-opacity="1.000"/>
<stop offset="0.620" stop-color="#00e0f4" stop-opacity="1.000"/>
<stop offset="0.850" stop-color="#30f4f0" stop-opacity="1.000"/>
<stop offset="1.000" stop-color="#40f0c0" stop-opacity="1.000"/>
</linearGradient>
<linearGradient id="gd5g" gradientUnits="userSpaceOnUse" x1="192.30" y1="522.40" x2="250.95" y2="623.98">
<stop offset="0.000" stop-color="#30e030" stop-opacity="0.000"/>
<stop offset="0.350" stop-color="#30e030" stop-opacity="0.250"/>
<stop offset="0.700" stop-color="#40f040" stop-opacity="0.900"/>
<stop offset="1.000" stop-color="#60ff40" stop-opacity="1.000"/>
</linearGradient>
<linearGradient id="gd5t" gradientUnits="userSpaceOnUse" x1="192.30" y1="522.40" x2="250.95" y2="623.98">
<stop offset="0.000" stop-color="#003050" stop-opacity="0.000"/>
<stop offset="0.350" stop-color="#003a50" stop-opacity="0.300"/>
<stop offset="0.750" stop-color="#005048" stop-opacity="0.500"/>
<stop offset="1.000" stop-color="#006040" stop-opacity="0.500"/>
</linearGradient>
<linearGradient id="gd5e" gradientUnits="userSpaceOnUse" x1="192.30" y1="522.40" x2="250.95" y2="623.98">
<stop offset="0.000" stop-color="#003050" stop-opacity="0.000"/>
<stop offset="0.400" stop-color="#004050" stop-opacity="0.500"/>
<stop offset="0.800" stop-color="#108840" stop-opacity="0.800"/>
<stop offset="1.000" stop-color="#40d030" stop-opacity="1.000"/>
</linearGradient>
</defs>
<path d="M192.30,522.40 L194.54,523.83 L196.50,525.41 L198.39,527.05 L200.22,528.71 L202.01,530.40 L203.77,532.10 L205.50,533.82 L207.21,535.56 L208.89,537.31 L210.55,539.07 L212.18,540.85 L213.80,542.64 L215.39,544.44 L216.96,546.25 L218.50,548.08 L220.03,549.92 L221.53,551.77 L223.01,553.64 L224.46,555.52 L225.89,557.41 L227.30,559.32 L228.69,561.24 L230.05,563.18 L231.39,565.12 L232.70,567.09 L233.99,569.06 L235.25,571.05 L236.49,573.06 L237.71,575.08 L238.90,577.11 L240.05,579.17 L241.14,581.26 L242.18,583.38 L243.17,585.53 L244.10,587.71 L244.97,589.93 L245.80,592.17 L246.57,594.45 L247.28,596.75 L247.95,599.09 L248.57,601.45 L249.14,603.85 L249.65,606.27 L250.12,608.72 L250.53,611.20 L250.89,613.72 L251.18,616.27 L251.40,618.86 L251.49,621.53 L251.20,624.42 Z" fill="url(#gd5c)"/>
<path d="M192.30,522.40 L192.42,525.05 L192.81,527.55 L193.28,529.99 L193.81,532.41 L194.37,534.81 L194.97,537.18 L195.59,539.54 L196.24,541.89 L196.92,544.22 L197.61,546.54 L198.33,548.84 L199.08,551.13 L199.84,553.41 L200.63,555.68 L201.44,557.93 L202.27,560.17 L203.12,562.40 L204.00,564.61 L204.90,566.81 L205.83,569.00 L206.77,571.17 L207.74,573.33 L208.74,575.48 L209.76,577.61 L210.80,579.73 L211.87,581.84 L212.96,583.93 L214.08,586.00 L215.22,588.06 L216.38,590.11 L217.59,592.13 L218.85,594.13 L220.17,596.09 L221.54,598.02 L222.96,599.91 L224.44,601.78 L225.98,603.61 L227.56,605.42 L229.20,607.19 L230.89,608.94 L232.63,610.66 L234.42,612.34 L236.26,614.00 L238.15,615.63 L240.09,617.23 L242.09,618.80 L244.15,620.33 L246.29,621.81 L248.55,623.23 L251.20,624.42 Z" fill="url(#gd5w)"/>
<path d="M192.30,522.40 L194.36,523.93 L196.19,525.59 L197.95,527.30 L199.67,529.02 L201.36,530.77 L203.02,532.53 L204.66,534.31 L206.28,536.09 L207.87,537.89 L209.45,539.70 L211.01,541.52 L212.55,543.35 L214.07,545.20 L215.57,547.05 L217.06,548.91 L218.52,550.79 L219.97,552.67 L221.40,554.57 L222.81,556.48 L224.20,558.39 L225.57,560.32 L226.92,562.26 L228.25,564.22 L229.56,566.18 L230.85,568.16 L232.12,570.14 L233.37,572.14 L234.60,574.15 L235.80,576.18 L236.99,578.21 L238.15,580.26 L239.26,582.34 L240.32,584.45 L241.34,586.58 L242.31,588.74 L243.24,590.93 L244.12,593.14 L244.96,595.38 L245.75,597.64 L246.51,599.92 L247.22,602.23 L247.89,604.56 L248.52,606.92 L249.10,609.30 L249.65,611.71 L250.14,614.15 L250.59,616.61 L250.96,619.11 L251.24,621.67 L251.20,624.42" fill="none" stroke="url(#gd5t)" stroke-width="2.6"/>
<path d="M192.30,522.40 L194.54,523.83 L196.50,525.41 L198.39,527.05 L200.22,528.71 L202.01,530.40 L203.77,532.10 L205.50,533.82 L207.21,535.56 L208.89,537.31 L210.55,539.07 L212.18,540.85 L213.80,542.64 L215.39,544.44 L216.96,546.25 L218.50,548.08 L220.03,549.92 L221.53,551.77 L223.01,553.64 L224.46,555.52 L225.89,557.41 L227.30,559.32 L228.69,561.24 L230.05,563.18 L231.39,565.12 L232.70,567.09 L233.99,569.06 L235.25,571.05 L236.49,573.06 L237.71,575.08 L238.90,577.11 L240.05,579.17 L241.14,581.26 L242.18,583.38 L243.17,585.53 L244.10,587.71 L244.97,589.93 L245.80,592.17 L246.57,594.45 L247.28,596.75 L247.95,599.09 L248.57,601.45 L249.14,603.85 L249.65,606.27 L250.12,608.72 L250.53,611.20 L250.89,613.72 L251.18,616.27 L251.40,618.86 L251.49,621.53 L251.20,624.42" fill="none" stroke="url(#gd5e)" stroke-width="1.5"/>
<path d="M192.30,522.40 L192.42,525.05 L192.81,527.55 L193.28,529.99 L193.81,532.41 L194.37,534.81 L194.97,537.18 L195.59,539.54 L196.24,541.89 L196.92,544.22 L197.61,546.54 L198.33,548.84 L199.08,551.13 L199.84,553.41 L200.63,555.68 L201.44,557.93 L202.27,560.17 L203.12,562.40 L204.00,564.61 L204.90,566.81 L205.83,569.00 L206.77,571.17 L207.74,573.33 L208.74,575.48 L209.76,577.61 L210.80,579.73 L211.87,581.84 L212.96,583.93 L214.08,586.00 L215.22,588.06 L216.38,590.11 L217.59,592.13 L218.85,594.13 L220.17,596.09 L221.54,598.02 L222.96,599.91 L224.44,601.78 L225.98,603.61 L227.56,605.42 L229.20,607.19 L230.89,608.94 L232.63,610.66 L234.42,612.34 L236.26,614.00 L238.15,615.63 L240.09,617.23 L242.09,618.80 L244.15,620.33 L246.29,621.81 L248.55,623.23 L251.20,624.42" fill="none" stroke="url(#gd5g)" stroke-width="1.6"/>
</g>
<g clip-path="url(#clipA)">
<ellipse cx="267.88" cy="104.50" rx="13" ry="6" transform="rotate(-30.00 267.88 104.50)" fill="#30f0ff" fill-opacity="0.45" filter="url(#bl2)"/>
<path d="M208.99,138.50 L209.29,135.73 L210.41,134.37 L211.63,133.17 L212.88,132.04 L214.17,130.97 L215.47,129.92 L216.79,128.91 L218.11,127.91 L219.45,126.92 L220.80,125.96 L222.15,125.00 L223.51,124.05 L224.87,123.12 L226.24,122.19 L227.62,121.27 L229.00,120.36 L230.38,119.45 L231.77,118.55 L233.16,117.66 L234.55,116.77 L235.95,115.89 L237.35,115.02 L238.75,114.15 L240.16,113.29 L241.57,112.43 L242.98,111.57 L244.40,110.73 L245.81,109.88 L247.23,109.04 L248.66,108.21 L250.09,107.38 L251.53,106.58 L253.00,105.83 L254.52,105.15 L256.07,104.55 L257.67,104.02 L259.33,103.60 L261.07,103.31 L262.97,103.30 L266.15,105.50 L266.15,105.50 L266.46,109.35 L265.50,110.99 L264.39,112.35 L263.19,113.58 L261.93,114.70 L260.63,115.75 L259.29,116.72 L257.90,117.62 L256.49,118.47 L255.05,119.29 L253.62,120.11 L252.18,120.92 L250.74,121.72 L249.30,122.53 L247.86,123.32 L246.41,124.11 L244.96,124.90 L243.50,125.68 L242.05,126.46 L240.58,127.23 L239.12,127.99 L237.65,128.75 L236.18,129.50 L234.71,130.24 L233.23,130.98 L231.74,131.71 L230.25,132.43 L228.76,133.15 L227.26,133.85 L225.76,134.54 L224.25,135.23 L222.73,135.89 L221.20,136.54 L219.66,137.18 L218.10,137.78 L216.53,138.36 L214.92,138.88 L213.28,139.33 L211.54,139.62 L208.99,138.50 Z" fill="#1498e0" stroke="#0a5a90" stroke-width="1.3"/>
<path d="M210.72,137.50 L211.18,135.20 L212.29,134.01 L213.46,132.94 L214.67,131.93 L215.90,130.96 L217.14,130.02 L218.39,129.09 L219.66,128.18 L220.93,127.28 L222.21,126.39 L223.49,125.52 L224.78,124.65 L226.07,123.79 L227.37,122.93 L228.67,122.08 L229.97,121.24 L231.27,120.40 L232.58,119.57 L233.90,118.74 L235.21,117.92 L236.53,117.10 L237.85,116.29 L239.17,115.48 L240.49,114.67 L241.82,113.87 L243.15,113.07 L244.48,112.28 L245.82,111.49 L247.15,110.70 L248.49,109.92 L249.83,109.14 L251.18,108.39 L252.56,107.67 L253.97,107.01 L255.41,106.41 L256.89,105.87 L258.41,105.40 L260.00,105.05 L261.71,104.91 L264.41,106.50 L264.41,106.50 L264.44,109.64 L263.46,111.05 L262.36,112.25 L261.20,113.33 L259.99,114.34 L258.75,115.29 L257.47,116.18 L256.17,117.01 L254.83,117.81 L253.49,118.58 L252.14,119.35 L250.79,120.11 L249.44,120.87 L248.09,121.63 L246.74,122.38 L245.38,123.13 L244.02,123.87 L242.66,124.61 L241.29,125.35 L239.92,126.08 L238.55,126.81 L237.18,127.53 L235.81,128.25 L234.43,128.96 L233.05,129.67 L231.66,130.37 L230.27,131.06 L228.88,131.75 L227.48,132.43 L226.08,133.11 L224.67,133.77 L223.26,134.42 L221.84,135.06 L220.41,135.68 L218.97,136.29 L217.51,136.87 L216.04,137.41 L214.52,137.89 L212.94,138.25 L210.72,137.50 Z" fill="#1aa8f0" stroke="#40f0ff" stroke-width="1.2" stroke-opacity="0.9"/>
<path d="M210.72,137.50 L210.91,136.44 L211.31,135.72 L211.75,135.08 L212.21,134.47 L212.68,133.90 L213.17,133.35 L213.68,132.82 L214.19,132.31 L214.71,131.81 L215.24,131.33 L215.78,130.86 L216.32,130.40 L216.87,129.96 L217.43,129.53 L218.00,129.11 L218.58,128.71 L219.16,128.31 L219.75,127.93 L220.34,127.57 L220.94,127.21 L221.55,126.87 L222.17,126.53 L222.80,126.21 L223.43,125.91 L224.06,125.61 L224.71,125.33 L225.36,125.06 L226.02,124.80 L226.69,124.56 L227.36,124.33 L228.05,124.11 L228.74,123.91 L229.44,123.72 L230.15,123.55 L230.87,123.40 L231.61,123.27 L232.36,123.18 L233.13,123.12 L233.95,123.14 L234.97,123.50 L234.97,123.50 L234.78,124.56 L234.38,125.28 L233.94,125.92 L233.48,126.53 L233.01,127.10 L232.51,127.65 L232.01,128.18 L231.50,128.69 L230.98,129.19 L230.45,129.67 L229.91,130.14 L229.37,130.60 L228.82,131.04 L228.26,131.47 L227.69,131.89 L227.11,132.29 L226.53,132.69 L225.94,133.07 L225.35,133.43 L224.74,133.79 L224.14,134.13 L223.52,134.47 L222.89,134.79 L222.26,135.09 L221.63,135.39 L220.98,135.67 L220.33,135.94 L219.67,136.20 L219.00,136.44 L218.33,136.67 L217.64,136.89 L216.95,137.09 L216.25,137.28 L215.54,137.45 L214.82,137.60 L214.08,137.73 L213.33,137.82 L212.56,137.88 L211.74,137.86 L210.72,137.50 Z" fill="#1090d0" stroke="#38c098" stroke-width="0.9"/>
<ellipse cx="193.40" cy="61.50" rx="13" ry="6" transform="rotate(-90.00 193.40 61.50)" fill="#30f0ff" fill-opacity="0.45" filter="url(#bl2)"/>
<path d="M193.40,129.50 L191.15,127.85 L190.54,126.20 L190.10,124.55 L189.76,122.90 L189.47,121.25 L189.21,119.60 L188.99,117.95 L188.79,116.30 L188.61,114.65 L188.44,113.00 L188.29,111.35 L188.15,109.70 L188.02,108.05 L187.90,106.40 L187.79,104.75 L187.69,103.10 L187.60,101.45 L187.51,99.80 L187.44,98.15 L187.37,96.50 L187.30,94.85 L187.24,93.20 L187.19,91.55 L187.15,89.90 L187.11,88.25 L187.08,86.60 L187.05,84.95 L187.03,83.30 L187.01,81.65 L187.00,80.00 L187.00,78.35 L187.02,76.70 L187.12,75.05 L187.29,73.40 L187.54,71.75 L187.88,70.10 L188.34,68.45 L188.97,66.80 L189.91,65.15 L193.40,63.50 L193.40,63.50 L196.89,65.15 L197.83,66.80 L198.46,68.45 L198.92,70.10 L199.26,71.75 L199.51,73.40 L199.68,75.05 L199.78,76.70 L199.80,78.35 L199.80,80.00 L199.79,81.65 L199.77,83.30 L199.75,84.95 L199.72,86.60 L199.69,88.25 L199.65,89.90 L199.61,91.55 L199.56,93.20 L199.50,94.85 L199.43,96.50 L199.36,98.15 L199.29,99.80 L199.20,101.45 L199.11,103.10 L199.01,104.75 L198.90,106.40 L198.78,108.05 L198.65,109.70 L198.51,111.35 L198.36,113.00 L198.19,114.65 L198.01,116.30 L197.81,117.95 L197.59,119.60 L197.33,121.25 L197.04,122.90 L196.70,124.55 L196.26,126.20 L195.65,127.85 L193.40,129.50 Z" fill="#1498e0" stroke="#0a5a90" stroke-width="1.3"/>
<path d="M193.40,127.50 L191.64,125.95 L191.16,124.40 L190.82,122.85 L190.55,121.30 L190.33,119.75 L190.13,118.20 L189.95,116.65 L189.80,115.10 L189.66,113.55 L189.53,112.00 L189.41,110.45 L189.30,108.90 L189.20,107.35 L189.10,105.80 L189.02,104.25 L188.94,102.70 L188.87,101.15 L188.80,99.60 L188.74,98.05 L188.69,96.50 L188.64,94.95 L188.59,93.40 L188.55,91.85 L188.52,90.30 L188.49,88.75 L188.46,87.20 L188.44,85.65 L188.42,84.10 L188.41,82.55 L188.40,81.00 L188.40,79.45 L188.42,77.90 L188.49,76.35 L188.62,74.80 L188.82,73.25 L189.09,71.70 L189.45,70.15 L189.94,68.60 L190.67,67.05 L193.40,65.50 L193.40,65.50 L196.13,67.05 L196.86,68.60 L197.35,70.15 L197.71,71.70 L197.98,73.25 L198.18,74.80 L198.31,76.35 L198.38,77.90 L198.40,79.45 L198.40,81.00 L198.39,82.55 L198.38,84.10 L198.36,85.65 L198.34,87.20 L198.31,88.75 L198.28,90.30 L198.25,91.85 L198.21,93.40 L198.16,94.95 L198.11,96.50 L198.06,98.05 L198.00,99.60 L197.93,101.15 L197.86,102.70 L197.78,104.25 L197.70,105.80 L197.60,107.35 L197.50,108.90 L197.39,110.45 L197.27,112.00 L197.14,113.55 L197.00,115.10 L196.85,116.65 L196.67,118.20 L196.47,119.75 L196.25,121.30 L195.98,122.85 L195.64,124.40 L195.16,125.95 L193.40,127.50 Z" fill="#1aa8f0" stroke="#40f0ff" stroke-width="1.2" stroke-opacity="0.9"/>
<path d="M193.40,127.50 L192.57,126.80 L192.15,126.10 L191.81,125.40 L191.52,124.70 L191.26,124.00 L191.03,123.30 L190.83,122.60 L190.64,121.90 L190.47,121.20 L190.31,120.50 L190.18,119.80 L190.05,119.10 L189.95,118.40 L189.85,117.70 L189.78,117.00 L189.71,116.30 L189.66,115.60 L189.63,114.90 L189.61,114.20 L189.60,113.50 L189.61,112.80 L189.63,112.10 L189.66,111.40 L189.71,110.70 L189.78,110.00 L189.85,109.30 L189.95,108.60 L190.05,107.90 L190.18,107.20 L190.31,106.50 L190.47,105.80 L190.64,105.10 L190.83,104.40 L191.03,103.70 L191.26,103.00 L191.52,102.30 L191.81,101.60 L192.15,100.90 L192.57,100.20 L193.40,99.50 L193.40,99.50 L194.23,100.20 L194.65,100.90 L194.99,101.60 L195.28,102.30 L195.54,103.00 L195.77,103.70 L195.97,104.40 L196.16,105.10 L196.33,105.80 L196.49,106.50 L196.62,107.20 L196.75,107.90 L196.85,108.60 L196.95,109.30 L197.02,110.00 L197.09,110.70 L197.14,111.40 L197.17,112.10 L197.19,112.80 L197.20,113.50 L197.19,114.20 L197.17,114.90 L197.14,115.60 L197.09,116.30 L197.02,117.00 L196.95,117.70 L196.85,118.40 L196.75,119.10 L196.62,119.80 L196.49,120.50 L196.33,121.20 L196.16,121.90 L195.97,122.60 L195.77,123.30 L195.54,124.00 L195.28,124.70 L194.99,125.40 L194.65,126.10 L194.23,126.80 L193.40,127.50 Z" fill="#1090d0" stroke="#38c098" stroke-width="0.9"/>
<ellipse cx="118.92" cy="104.50" rx="13" ry="6" transform="rotate(-150.00 118.92 104.50)" fill="#30f0ff" fill-opacity="0.45" filter="url(#bl2)"/>
<path d="M177.81,138.50 L175.26,139.62 L173.52,139.33 L171.88,138.88 L170.27,138.36 L168.70,137.78 L167.14,137.18 L165.60,136.54 L164.07,135.89 L162.55,135.23 L161.04,134.54 L159.54,133.85 L158.04,133.15 L156.55,132.43 L155.06,131.71 L153.57,130.98 L152.09,130.24 L150.62,129.50 L149.15,128.75 L147.68,127.99 L146.22,127.23 L144.75,126.46 L143.30,125.68 L141.84,124.90 L140.39,124.11 L138.94,123.32 L137.50,122.53 L136.06,121.72 L134.62,120.92 L133.18,120.11 L131.75,119.29 L130.31,118.47 L128.90,117.62 L127.51,116.72 L126.17,115.75 L124.87,114.70 L123.61,113.58 L122.41,112.35 L121.30,110.99 L120.34,109.35 L120.65,105.50 L120.65,105.50 L123.83,103.30 L125.73,103.31 L127.47,103.60 L129.13,104.02 L130.73,104.55 L132.28,105.15 L133.80,105.83 L135.27,106.58 L136.71,107.38 L138.14,108.21 L139.57,109.04 L140.99,109.88 L142.40,110.73 L143.82,111.57 L145.23,112.43 L146.64,113.29 L148.05,114.15 L149.45,115.02 L150.85,115.89 L152.25,116.77 L153.64,117.66 L155.03,118.55 L156.42,119.45 L157.80,120.36 L159.18,121.27 L160.56,122.19 L161.93,123.12 L163.29,124.05 L164.65,125.00 L166.00,125.96 L167.35,126.92 L168.69,127.91 L170.01,128.91 L171.33,129.92 L172.63,130.97 L173.92,132.04 L175.17,133.17 L176.39,134.37 L177.51,135.73 L177.81,138.50 Z" fill="#1498e0" stroke="#0a5a90" stroke-width="1.3"/>
<path d="M176.08,137.50 L173.86,138.25 L172.28,137.89 L170.76,137.41 L169.29,136.87 L167.83,136.29 L166.39,135.68 L164.96,135.06 L163.54,134.42 L162.13,133.77 L160.72,133.11 L159.32,132.43 L157.92,131.75 L156.53,131.06 L155.14,130.37 L153.75,129.67 L152.37,128.96 L150.99,128.25 L149.62,127.53 L148.25,126.81 L146.88,126.08 L145.51,125.35 L144.14,124.61 L142.78,123.87 L141.42,123.13 L140.06,122.38 L138.71,121.63 L137.36,120.87 L136.01,120.11 L134.66,119.35 L133.31,118.58 L131.97,117.81 L130.63,117.01 L129.33,116.18 L128.05,115.29 L126.81,114.34 L125.60,113.33 L124.44,112.25 L123.34,111.05 L122.36,109.64 L122.39,106.50 L122.39,106.50 L125.09,104.91 L126.80,105.05 L128.39,105.40 L129.91,105.87 L131.39,106.41 L132.83,107.01 L134.24,107.67 L135.62,108.39 L136.97,109.14 L138.31,109.92 L139.65,110.70 L140.98,111.49 L142.32,112.28 L143.65,113.07 L144.98,113.87 L146.31,114.67 L147.63,115.48 L148.95,116.29 L150.27,117.10 L151.59,117.92 L152.90,118.74 L154.22,119.57 L155.53,120.40 L156.83,121.24 L158.13,122.08 L159.43,122.93 L160.73,123.79 L162.02,124.65 L163.31,125.52 L164.59,126.39 L165.87,127.28 L167.14,128.18 L168.41,129.09 L169.66,130.02 L170.90,130.96 L172.13,131.93 L173.34,132.94 L174.51,134.01 L175.62,135.20 L176.08,137.50 Z" fill="#1aa8f0" stroke="#40f0ff" stroke-width="1.2" stroke-opacity="0.9"/>
<path d="M176.08,137.50 L175.06,137.86 L174.24,137.88 L173.47,137.82 L172.72,137.73 L171.98,137.60 L171.26,137.45 L170.55,137.28 L169.85,137.09 L169.16,136.89 L168.47,136.67 L167.80,136.44 L167.13,136.20 L166.47,135.94 L165.82,135.67 L165.17,135.39 L164.54,135.09 L163.91,134.79 L163.28,134.47 L162.66,134.13 L162.06,133.79 L161.45,133.43 L160.86,133.07 L160.27,132.69 L159.69,132.29 L159.11,131.89 L158.54,131.47 L157.98,131.04 L157.43,130.60 L156.89,130.14 L156.35,129.67 L155.82,129.19 L155.30,128.69 L154.79,128.18 L154.29,127.65 L153.79,127.10 L153.32,126.53 L152.86,125.92 L152.42,125.28 L152.02,124.56 L151.83,123.50 L151.83,123.50 L152.85,123.14 L153.67,123.12 L154.44,123.18 L155.19,123.27 L155.93,123.40 L156.65,123.55 L157.36,123.72 L158.06,123.91 L158.75,124.11 L159.44,124.33 L160.11,124.56 L160.78,124.80 L161.44,125.06 L162.09,125.33 L162.74,125.61 L163.37,125.91 L164.00,126.21 L164.63,126.53 L165.25,126.87 L165.86,127.21 L166.46,127.57 L167.05,127.93 L167.64,128.31 L168.22,128.71 L168.80,129.11 L169.37,129.53 L169.93,129.96 L170.48,130.40 L171.02,130.86 L171.56,131.33 L172.09,131.81 L172.61,132.31 L173.12,132.82 L173.63,133.35 L174.12,133.90 L174.59,134.47 L175.05,135.08 L175.49,135.72 L175.89,136.44 L176.08,137.50 Z" fill="#1090d0" stroke="#38c098" stroke-width="0.9"/>
<ellipse cx="118.92" cy="190.50" rx="13" ry="6" transform="rotate(-210.00 118.92 190.50)" fill="#30f0ff" fill-opacity="0.45" filter="url(#bl2)"/>
<path d="M177.81,156.50 L177.51,159.27 L176.39,160.63 L175.17,161.83 L173.92,162.96 L172.63,164.03 L171.33,165.08 L170.01,166.09 L168.69,167.09 L167.35,168.08 L166.00,169.04 L164.65,170.00 L163.29,170.95 L161.93,171.88 L160.56,172.81 L159.18,173.73 L157.80,174.64 L156.42,175.55 L155.03,176.45 L153.64,177.34 L152.25,178.23 L150.85,179.11 L149.45,179.98 L148.05,180.85 L146.64,181.71 L145.23,182.57 L143.82,183.43 L142.40,184.27 L140.99,185.12 L139.57,185.96 L138.14,186.79 L136.71,187.62 L135.27,188.42 L133.80,189.17 L132.28,189.85 L130.73,190.45 L129.13,190.98 L127.47,191.40 L125.73,191.69 L123.83,191.70 L120.65,189.50 L120.65,189.50 L120.34,185.65 L121.30,184.01 L122.41,182.65 L123.61,181.42 L124.87,180.30 L126.17,179.25 L127.51,178.28 L128.90,177.38 L130.31,176.53 L131.75,175.71 L133.18,174.89 L134.62,174.08 L136.06,173.28 L137.50,172.47 L138.94,171.68 L140.39,170.89 L141.84,170.10 L143.30,169.32 L144.75,168.54 L146.22,167.77 L147.68,167.01 L149.15,166.25 L150.62,165.50 L152.09,164.76 L153.57,164.02 L155.06,163.29 L156.55,162.57 L158.04,161.85 L159.54,161.15 L161.04,160.46 L162.55,159.77 L164.07,159.11 L165.60,158.46 L167.14,157.82 L168.70,157.22 L170.27,156.64 L171.88,156.12 L173.52,155.67 L175.26,155.38 L177.81,156.50 Z" fill="#1498e0" stroke="#0a5a90" stroke-width="1.3"/>
<path d="M176.08,157.50 L175.62,159.80 L174.51,160.99 L173.34,162.06 L172.13,163.07 L170.90,164.04 L169.66,164.98 L168.41,165.91 L167.14,166.82 L165.87,167.72 L164.59,168.61 L163.31,169.48 L162.02,170.35 L160.73,171.21 L159.43,172.07 L158.13,172.92 L156.83,173.76 L155.53,174.60 L154.22,175.43 L152.90,176.26 L151.59,177.08 L150.27,177.90 L148.95,178.71 L147.63,179.52 L146.31,180.33 L144.98,181.13 L143.65,181.93 L142.32,182.72 L140.98,183.51 L139.65,184.30 L138.31,185.08 L136.97,185.86 L135.62,186.61 L134.24,187.33 L132.83,187.99 L131.39,188.59 L129.91,189.13 L128.39,189.60 L126.80,189.95 L125.09,190.09 L122.39,188.50 L122.39,188.50 L122.36,185.36 L123.34,183.95 L124.44,182.75 L125.60,181.67 L126.81,180.66 L128.05,179.71 L129.33,178.82 L130.63,177.99 L131.97,177.19 L133.31,176.42 L134.66,175.65 L136.01,174.89 L137.36,174.13 L138.71,173.37 L140.06,172.62 L141.42,171.87 L142.78,171.13 L144.14,170.39 L145.51,169.65 L146.88,168.92 L148.25,168.19 L149.62,167.47 L150.99,166.75 L152.37,166.04 L153.75,165.33 L155.14,164.63 L156.53,163.94 L157.92,163.25 L159.32,162.57 L160.72,161.89 L162.13,161.23 L163.54,160.58 L164.96,159.94 L166.39,159.32 L167.83,158.71 L169.29,158.13 L170.76,157.59 L172.28,157.11 L173.86,156.75 L176.08,157.50 Z" fill="#1aa8f0" stroke="#40f0ff" stroke-width="1.2" stroke-opacity="0.9"/>
<path d="M176.08,157.50 L175.89,158.56 L175.49,159.28 L175.05,159.92 L174.59,160.53 L174.12,161.10 L173.63,161.65 L173.12,162.18 L172.61,162.69 L172.09,163.19 L171.56,163.67 L171.02,164.14 L170.48,164.60 L169.93,165.04 L169.37,165.47 L168.80,165.89 L168.22,166.29 L167.64,166.69 L167.05,167.07 L166.46,167.43 L165.86,167.79 L165.25,168.13 L164.63,168.47 L164.00,168.79 L163.37,169.09 L162.74,169.39 L162.09,169.67 L161.44,169.94 L160.78,170.20 L160.11,170.44 L159.44,170.67 L158.75,170.89 L158.06,171.09 L157.36,171.28 L156.65,171.45 L155.93,171.60 L155.19,171.73 L154.44,171.82 L153.67,171.88 L152.85,171.86 L151.83,171.50 L151.83,171.50 L152.02,170.44 L152.42,169.72 L152.86,169.08 L153.32,168.47 L153.79,167.90 L154.29,167.35 L154.79,166.82 L155.30,166.31 L155.82,165.81 L156.35,165.33 L156.89,164.86 L157.43,164.40 L157.98,163.96 L158.54,163.53 L159.11,163.11 L159.69,162.71 L160.27,162.31 L160.86,161.93 L161.45,161.57 L162.06,161.21 L162.66,160.87 L163.28,160.53 L163.91,160.21 L164.54,159.91 L165.17,159.61 L165.82,159.33 L166.47,159.06 L167.13,158.80 L167.80,158.56 L168.47,158.33 L169.16,158.11 L169.85,157.91 L170.55,157.72 L171.26,157.55 L171.98,157.40 L172.72,157.27 L173.47,157.18 L174.24,157.12 L175.06,157.14 L176.08,157.50 Z" fill="#1090d0" stroke="#38c098" stroke-width="0.9"/>
<ellipse cx="193.40" cy="233.50" rx="13" ry="6" transform="rotate(-270.00 193.40 233.50)" fill="#30f0ff" fill-opacity="0.45" filter="url(#bl2)"/>
<path d="M193.40,165.50 L195.65,167.15 L196.26,168.80 L196.70,170.45 L197.04,172.10 L197.33,173.75 L197.59,175.40 L197.81,177.05 L198.01,178.70 L198.19,180.35 L198.36,182.00 L198.51,183.65 L198.65,185.30 L198.78,186.95 L198.90,188.60 L199.01,190.25 L199.11,191.90 L199.20,193.55 L199.29,195.20 L199.36,196.85 L199.43,198.50 L199.50,200.15 L199.56,201.80 L199.61,203.45 L199.65,205.10 L199.69,206.75 L199.72,208.40 L199.75,210.05 L199.77,211.70 L199.79,213.35 L199.80,215.00 L199.80,216.65 L199.78,218.30 L199.68,219.95 L199.51,221.60 L199.26,223.25 L198.92,224.90 L198.46,226.55 L197.83,228.20 L196.89,229.85 L193.40,231.50 L193.40,231.50 L189.91,229.85 L188.97,228.20 L188.34,226.55 L187.88,224.90 L187.54,223.25 L187.29,221.60 L187.12,219.95 L187.02,218.30 L187.00,216.65 L187.00,215.00 L187.01,213.35 L187.03,211.70 L187.05,210.05 L187.08,208.40 L187.11,206.75 L187.15,205.10 L187.19,203.45 L187.24,201.80 L187.30,200.15 L187.37,198.50 L187.44,196.85 L187.51,195.20 L187.60,193.55 L187.69,191.90 L187.79,190.25 L187.90,188.60 L188.02,186.95 L188.15,185.30 L188.29,183.65 L188.44,182.00 L188.61,180.35 L188.79,178.70 L188.99,177.05 L189.21,175.40 L189.47,173.75 L189.76,172.10 L190.10,170.45 L190.54,168.80 L191.15,167.15 L193.40,165.50 Z" fill="#1498e0" stroke="#0a5a90" stroke-width="1.3"/>
<path d="M193.40,167.50 L195.16,169.05 L195.64,170.60 L195.98,172.15 L196.25,173.70 L196.47,175.25 L196.67,176.80 L196.85,178.35 L197.00,179.90 L197.14,181.45 L197.27,183.00 L197.39,184.55 L197.50,186.10 L197.60,187.65 L197.70,189.20 L197.78,190.75 L197.86,192.30 L197.93,193.85 L198.00,195.40 L198.06,196.95 L198.11,198.50 L198.16,200.05 L198.21,201.60 L198.25,203.15 L198.28,204.70 L198.31,206.25 L198.34,207.80 L198.36,209.35 L198.38,210.90 L198.39,212.45 L198.40,214.00 L198.40,215.55 L198.38,217.10 L198.31,218.65 L198.18,220.20 L197.98,221.75 L197.71,223.30 L197.35,224.85 L196.86,226.40 L196.13,227.95 L193.40,229.50 L193.40,229.50 L190.67,227.95 L189.94,226.40 L189.45,224.85 L189.09,223.30 L188.82,221.75 L188.62,220.20 L188.49,218.65 L188.42,217.10 L188.40,215.55 L188.40,214.00 L188.41,212.45 L188.42,210.90 L188.44,209.35 L188.46,207.80 L188.49,206.25 L188.52,204.70 L188.55,203.15 L188.59,201.60 L188.64,200.05 L188.69,198.50 L188.74,196.95 L188.80,195.40 L188.87,193.85 L188.94,192.30 L189.02,190.75 L189.10,189.20 L189.20,187.65 L189.30,186.10 L189.41,184.55 L189.53,183.00 L189.66,181.45 L189.80,179.90 L189.95,178.35 L190.13,176.80 L190.33,175.25 L190.55,173.70 L190.82,172.15 L191.16,170.60 L191.64,169.05 L193.40,167.50 Z" fill="#1aa8f0" stroke="#40f0ff" stroke-width="1.2" stroke-opacity="0.9"/>
<path d="M193.40,167.50 L194.23,168.20 L194.65,168.90 L194.99,169.60 L195.28,170.30 L195.54,171.00 L195.77,171.70 L195.97,172.40 L196.16,173.10 L196.33,173.80 L196.49,174.50 L196.62,175.20 L196.75,175.90 L196.85,176.60 L196.95,177.30 L197.02,178.00 L197.09,178.70 L197.14,179.40 L197.17,180.10 L197.19,180.80 L197.20,181.50 L197.19,182.20 L197.17,182.90 L197.14,183.60 L197.09,184.30 L197.02,185.00 L196.95,185.70 L196.85,186.40 L196.75,187.10 L196.62,187.80 L196.49,188.50 L196.33,189.20 L196.16,189.90 L195.97,190.60 L195.77,191.30 L195.54,192.00 L195.28,192.70 L194.99,193.40 L194.65,194.10 L194.23,194.80 L193.40,195.50 L193.40,195.50 L192.57,194.80 L192.15,194.10 L191.81,193.40 L191.52,192.70 L191.26,192.00 L191.03,191.30 L190.83,190.60 L190.64,189.90 L190.47,189.20 L190.31,188.50 L190.18,187.80 L190.05,187.10 L189.95,186.40 L189.85,185.70 L189.78,185.00 L189.71,184.30 L189.66,183.60 L189.63,182.90 L189.61,182.20 L189.60,181.50 L189.61,180.80 L189.63,180.10 L189.66,179.40 L189.71,178.70 L189.78,178.00 L189.85,177.30 L189.95,176.60 L190.05,175.90 L190.18,175.20 L190.31,174.50 L190.47,173.80 L190.64,173.10 L190.83,172.40 L191.03,171.70 L191.26,171.00 L191.52,170.30 L191.81,169.60 L192.15,168.90 L192.57,168.20 L193.40,167.50 Z" fill="#1090d0" stroke="#38c098" stroke-width="0.9"/>
<ellipse cx="267.88" cy="190.50" rx="13" ry="6" transform="rotate(-330.00 267.88 190.50)" fill="#30f0ff" fill-opacity="0.45" filter="url(#bl2)"/>
<path d="M208.99,156.50 L211.54,155.38 L213.28,155.67 L214.92,156.12 L216.53,156.64 L218.10,157.22 L219.66,157.82 L221.20,158.46 L222.73,159.11 L224.25,159.77 L225.76,160.46 L227.26,161.15 L228.76,161.85 L230.25,162.57 L231.74,163.29 L233.23,164.02 L234.71,164.76 L236.18,165.50 L237.65,166.25 L239.12,167.01 L240.58,167.77 L242.05,168.54 L243.50,169.32 L244.96,170.10 L246.41,170.89 L247.86,171.68 L249.30,172.47 L250.74,173.28 L252.18,174.08 L253.62,174.89 L255.05,175.71 L256.49,176.53 L257.90,177.38 L259.29,178.28 L260.63,179.25 L261.93,180.30 L263.19,181.42 L264.39,182.65 L265.50,184.01 L266.46,185.65 L266.15,189.50 L266.15,189.50 L262.97,191.70 L261.07,191.69 L259.33,191.40 L257.67,190.98 L256.07,190.45 L254.52,189.85 L253.00,189.17 L251.53,188.42 L250.09,187.62 L248.66,186.79 L247.23,185.96 L245.81,185.12 L244.40,184.27 L242.98,183.43 L241.57,182.57 L240.16,181.71 L238.75,180.85 L237.35,179.98 L235.95,179.11 L234.55,178.23 L233.16,177.34 L231.77,176.45 L230.38,175.55 L229.00,174.64 L227.62,173.73 L226.24,172.81 L224.87,171.88 L223.51,170.95 L222.15,170.00 L220.80,169.04 L219.45,168.08 L218.11,167.09 L216.79,166.09 L215.47,165.08 L214.17,164.03 L212.88,162.96 L211.63,161.83 L210.41,160.63 L209.29,159.27 L208.99,156.50 Z" fill="#1498e0" stroke="#0a5a90" stroke-width="1.3"/>
<path d="M210.72,157.50 L212.94,156.75 L214.52,157.11 L216.04,157.59 L217.51,158.13 L218.97,158.71 L220.41,159.32 L221.84,159.94 L223.26,160.58 L224.67,161.23 L226.08,161.89 L227.48,162.57 L228.88,163.25 L230.27,163.94 L231.66,164.63 L233.05,165.33 L234.43,166.04 L235.81,166.75 L237.18,167.47 L238.55,168.19 L239.92,168.92 L241.29,169.65 L242.66,170.39 L244.02,171.13 L245.38,171.87 L246.74,172.62 L248.09,173.37 L249.44,174.13 L250.79,174.89 L252.14,175.65 L253.49,176.42 L254.83,177.19 L256.17,177.99 L257.47,178.82 L258.75,179.71 L259.99,180.66 L261.20,181.67 L262.36,182.75 L263.46,183.95 L264.44,185.36 L264.41,188.50 L264.41,188.50 L261.71,190.09 L260.00,189.95 L258.41,189.60 L256.89,189.13 L255.41,188.59 L253.97,187.99 L252.56,187.33 L251.18,186.61 L249.83,185.86 L248.49,185.08 L247.15,184.30 L245.82,183.51 L244.48,182.72 L243.15,181.93 L241.82,181.13 L240.49,180.33 L239.17,179.52 L237.85,178.71 L236.53,177.90 L235.21,177.08 L233.90,176.26 L232.58,175.43 L231.27,174.60 L229.97,173.76 L228.67,172.92 L227.37,172.07 L226.07,171.21 L224.78,170.35 L223.49,169.48 L222.21,168.61 L220.93,167.72 L219.66,166.82 L218.39,165.91 L217.14,164.98 L215.90,164.04 L214.67,163.07 L213.46,162.06 L212.29,160.99 L211.18,159.80 L210.72,157.50 Z" fill="#1aa8f0" stroke="#40f0ff" stroke-width="1.2" stroke-opacity="0.9"/>
<path d="M210.72,157.50 L211.74,157.14 L212.56,157.12 L213.33,157.18 L214.08,157.27 L214.82,157.40 L215.54,157.55 L216.25,157.72 L216.95,157.91 L217.64,158.11 L218.33,158.33 L219.00,158.56 L219.67,158.80 L220.33,159.06 L220.98,159.33 L221.63,159.61 L222.26,159.91 L222.89,160.21 L223.52,160.53 L224.14,160.87 L224.74,161.21 L225.35,161.57 L225.94,161.93 L226.53,162.31 L227.11,162.71 L227.69,163.11 L228.26,163.53 L228.82,163.96 L229.37,164.40 L229.91,164.86 L230.45,165.33 L230.98,165.81 L231.50,166.31 L232.01,166.82 L232.51,167.35 L233.01,167.90 L233.48,168.47 L233.94,169.08 L234.38,169.72 L234.78,170.44 L234.97,171.50 L234.97,171.50 L233.95,171.86 L233.13,171.88 L232.36,171.82 L231.61,171.73 L230.87,171.60 L230.15,171.45 L229.44,171.28 L228.74,171.09 L228.05,170.89 L227.36,170.67 L226.69,170.44 L226.02,170.20 L225.36,169.94 L224.71,169.67 L224.06,169.39 L223.43,169.09 L222.80,168.79 L222.17,168.47 L221.55,168.13 L220.94,167.79 L220.34,167.43 L219.75,167.07 L219.16,166.69 L218.58,166.29 L218.00,165.89 L217.43,165.47 L216.87,165.04 L216.32,164.60 L215.78,164.14 L215.24,163.67 L214.71,163.19 L214.19,162.69 L213.68,162.18 L213.17,161.65 L212.68,161.10 L212.21,160.53 L211.75,159.92 L211.31,159.28 L210.91,158.56 L210.72,157.50 Z" fill="#1090d0" stroke="#38c098" stroke-width="0.9"/>
<defs>
<linearGradient id="ga0" gradientUnits="userSpaceOnUse" x1="193.40" y1="147.50" x2="246.40" y2="147.50">
<stop offset="0.000" stop-color="#4a10c8" stop-opacity="1.000"/>
<stop offset="0.350" stop-color="#1a30d8" stop-opacity="1.000"/>
<stop offset="0.700" stop-color="#1068e0" stop-opacity="1.000"/>
<stop offset="1.000" stop-color="#20b8d8" stop-opacity="1.000"/>
</linearGradient>
</defs>
<path d="M201.40,147.50 L202.53,146.75 L203.65,146.24 L204.78,145.80 L205.90,145.40 L207.03,145.02 L208.15,144.68 L209.28,144.35 L210.40,144.05 L211.53,143.77 L212.65,143.50 L213.78,143.26 L214.90,143.03 L216.03,142.82 L217.15,142.62 L218.28,142.45 L219.40,142.29 L220.53,142.15 L221.65,142.03 L222.78,141.93 L223.90,141.85 L225.03,141.78 L226.15,141.74 L227.28,141.71 L228.40,141.70 L229.53,141.72 L230.65,141.78 L231.78,141.89 L232.90,142.03 L234.03,142.22 L235.15,142.45 L236.28,142.72 L237.40,143.03 L238.53,143.38 L239.65,143.77 L240.78,144.20 L241.90,144.68 L243.03,145.21 L244.15,145.80 L245.28,146.48 L246.40,147.50 L246.40,147.50 L245.28,148.52 L244.15,149.20 L243.03,149.79 L241.90,150.32 L240.78,150.80 L239.65,151.23 L238.53,151.62 L237.40,151.97 L236.28,152.28 L235.15,152.55 L234.03,152.78 L232.90,152.97 L231.78,153.11 L230.65,153.22 L229.53,153.28 L228.40,153.30 L227.28,153.29 L226.15,153.26 L225.03,153.22 L223.90,153.15 L222.78,153.07 L221.65,152.97 L220.53,152.85 L219.40,152.71 L218.28,152.55 L217.15,152.38 L216.03,152.18 L214.90,151.97 L213.78,151.74 L212.65,151.50 L211.53,151.23 L210.40,150.95 L209.28,150.65 L208.15,150.32 L207.03,149.98 L205.90,149.60 L204.78,149.20 L203.65,148.76 L202.53,148.25 L201.40,147.50 Z" fill="url(#ga0)" stroke="#58f020" stroke-width="1.4" stroke-opacity="0.95"/>
<path d="M209.40,147.50 L210.25,147.11 L211.10,146.87 L211.95,146.67 L212.80,146.49 L213.65,146.33 L214.50,146.17 L215.35,146.03 L216.20,145.90 L217.05,145.78 L217.90,145.66 L218.75,145.56 L219.60,145.46 L220.45,145.37 L221.30,145.29 L222.15,145.22 L223.00,145.15 L223.85,145.09 L224.70,145.04 L225.55,145.00 L226.40,144.96 L227.25,144.94 L228.10,144.92 L228.95,144.90 L229.80,144.90 L230.65,144.91 L231.50,144.94 L232.35,144.98 L233.20,145.04 L234.05,145.12 L234.90,145.22 L235.75,145.33 L236.60,145.46 L237.45,145.61 L238.30,145.78 L239.15,145.96 L240.00,146.17 L240.85,146.41 L241.70,146.67 L242.55,146.99 L243.40,147.50 L243.40,147.50 L242.55,148.01 L241.70,148.33 L240.85,148.59 L240.00,148.83 L239.15,149.04 L238.30,149.22 L237.45,149.39 L236.60,149.54 L235.75,149.67 L234.90,149.78 L234.05,149.88 L233.20,149.96 L232.35,150.02 L231.50,150.06 L230.65,150.09 L229.80,150.10 L228.95,150.10 L228.10,150.08 L227.25,150.06 L226.40,150.04 L225.55,150.00 L224.70,149.96 L223.85,149.91 L223.00,149.85 L222.15,149.78 L221.30,149.71 L220.45,149.63 L219.60,149.54 L218.75,149.44 L217.90,149.34 L217.05,149.22 L216.20,149.10 L215.35,148.97 L214.50,148.83 L213.65,148.67 L212.80,148.51 L211.95,148.33 L211.10,148.13 L210.25,147.89 L209.40,147.50 Z" fill="none" stroke="#30d0f0" stroke-width="0.9" stroke-opacity="0.7"/>
<defs>
<linearGradient id="ga1" gradientUnits="userSpaceOnUse" x1="193.40" y1="147.50" x2="219.90" y2="101.60">
<stop offset="0.000" stop-color="#4a10c8" stop-opacity="1.000"/>
<stop offset="0.350" stop-color="#1a30d8" stop-opacity="1.000"/>
<stop offset="0.700" stop-color="#1068e0" stop-opacity="1.000"/>
<stop offset="1.000" stop-color="#20b8d8" stop-opacity="1.000"/>
</linearGradient>
</defs>
<path d="M197.40,140.57 L197.31,139.22 L197.43,137.99 L197.61,136.80 L197.83,135.62 L198.07,134.46 L198.33,133.32 L198.61,132.18 L198.91,131.05 L199.23,129.94 L199.56,128.83 L199.91,127.73 L200.28,126.64 L200.66,125.56 L201.05,124.49 L201.46,123.43 L201.89,122.38 L202.33,121.34 L202.79,120.30 L203.27,119.28 L203.76,118.26 L204.26,117.25 L204.78,116.26 L205.32,115.27 L205.88,114.29 L206.46,113.33 L207.07,112.38 L207.73,111.46 L208.42,110.56 L209.14,109.68 L209.90,108.82 L210.70,107.98 L211.53,107.16 L212.39,106.36 L213.29,105.58 L214.23,104.82 L215.21,104.09 L216.23,103.38 L217.30,102.70 L218.46,102.07 L219.90,101.60 L219.90,101.60 L220.22,103.08 L220.25,104.40 L220.20,105.67 L220.09,106.91 L219.95,108.12 L219.76,109.31 L219.53,110.48 L219.27,111.63 L218.98,112.76 L218.65,113.87 L218.28,114.96 L217.88,116.02 L217.45,117.07 L216.98,118.10 L216.47,119.10 L215.92,120.09 L215.35,121.06 L214.77,122.02 L214.16,122.97 L213.54,123.91 L212.91,124.84 L212.26,125.77 L211.59,126.68 L210.91,127.59 L210.21,128.48 L209.50,129.37 L208.77,130.25 L208.02,131.12 L207.26,131.98 L206.49,132.83 L205.69,133.67 L204.89,134.50 L204.06,135.32 L203.22,136.14 L202.36,136.94 L201.47,137.73 L200.56,138.50 L199.62,139.25 L198.61,139.97 L197.40,140.57 Z" fill="url(#ga1)" stroke="#58f020" stroke-width="1.4" stroke-opacity="0.95"/>
<path d="M201.40,133.64 L201.49,132.71 L201.71,131.86 L201.96,131.02 L202.23,130.19 L202.51,129.38 L202.80,128.56 L203.10,127.76 L203.41,126.95 L203.73,126.16 L204.06,125.36 L204.39,124.58 L204.73,123.79 L205.08,123.01 L205.44,122.23 L205.80,121.46 L206.16,120.69 L206.54,119.92 L206.92,119.16 L207.31,118.41 L207.70,117.65 L208.10,116.90 L208.51,116.16 L208.93,115.41 L209.35,114.68 L209.78,113.94 L210.23,113.22 L210.69,112.51 L211.17,111.80 L211.66,111.11 L212.17,110.42 L212.69,109.74 L213.23,109.07 L213.79,108.41 L214.36,107.75 L214.94,107.11 L215.55,106.48 L216.18,105.86 L216.83,105.26 L217.53,104.68 L218.40,104.20 L218.40,104.20 L218.42,105.19 L218.27,106.09 L218.07,106.95 L217.85,107.81 L217.61,108.65 L217.34,109.48 L217.06,110.30 L216.77,111.11 L216.46,111.91 L216.13,112.70 L215.79,113.49 L215.43,114.26 L215.06,115.03 L214.67,115.79 L214.27,116.54 L213.85,117.28 L213.42,118.01 L212.99,118.74 L212.55,119.47 L212.10,120.19 L211.64,120.91 L211.18,121.62 L210.71,122.33 L210.24,123.04 L209.75,123.74 L209.26,124.44 L208.77,125.14 L208.27,125.83 L207.76,126.52 L207.24,127.20 L206.72,127.88 L206.19,128.55 L205.65,129.23 L205.10,129.89 L204.54,130.55 L203.97,131.20 L203.39,131.85 L202.79,132.48 L202.16,133.10 L201.40,133.64 Z" fill="none" stroke="#30d0f0" stroke-width="0.9" stroke-opacity="0.7"/>
<defs>
<linearGradient id="ga2" gradientUnits="userSpaceOnUse" x1="193.40" y1="147.50" x2="166.90" y2="101.60">
<stop offset="0.000" stop-color="#4a10c8" stop-opacity="1.000"/>
<stop offset="0.350" stop-color="#1a30d8" stop-opacity="1.000"/>
<stop offset="0.700" stop-color="#1068e0" stop-opacity="1.000"/>
<stop offset="1.000" stop-color="#20b8d8" stop-opacity="1.000"/>
</linearGradient>
</defs>
<path d="M189.40,140.57 L188.19,139.97 L187.18,139.25 L186.24,138.50 L185.33,137.73 L184.44,136.94 L183.58,136.14 L182.74,135.32 L181.91,134.50 L181.11,133.67 L180.31,132.83 L179.54,131.98 L178.78,131.12 L178.03,130.25 L177.30,129.37 L176.59,128.48 L175.89,127.59 L175.21,126.68 L174.54,125.77 L173.89,124.84 L173.26,123.91 L172.64,122.97 L172.03,122.02 L171.45,121.06 L170.88,120.09 L170.33,119.10 L169.82,118.10 L169.35,117.07 L168.92,116.02 L168.52,114.96 L168.15,113.87 L167.82,112.76 L167.53,111.63 L167.27,110.48 L167.04,109.31 L166.85,108.12 L166.71,106.91 L166.60,105.67 L166.55,104.40 L166.58,103.08 L166.90,101.60 L166.90,101.60 L168.34,102.07 L169.50,102.70 L170.57,103.38 L171.59,104.09 L172.57,104.82 L173.51,105.58 L174.41,106.36 L175.27,107.16 L176.10,107.98 L176.90,108.82 L177.66,109.68 L178.38,110.56 L179.07,111.46 L179.73,112.38 L180.34,113.33 L180.92,114.29 L181.48,115.27 L182.02,116.26 L182.54,117.25 L183.04,118.26 L183.53,119.28 L184.01,120.30 L184.47,121.34 L184.91,122.38 L185.34,123.43 L185.75,124.49 L186.14,125.56 L186.52,126.64 L186.89,127.73 L187.24,128.83 L187.57,129.94 L187.89,131.05 L188.19,132.18 L188.47,133.32 L188.73,134.46 L188.97,135.62 L189.19,136.80 L189.37,137.99 L189.49,139.22 L189.40,140.57 Z" fill="url(#ga2)" stroke="#58f020" stroke-width="1.4" stroke-opacity="0.95"/>
<path d="M185.40,133.64 L184.64,133.10 L184.01,132.48 L183.41,131.85 L182.83,131.20 L182.26,130.55 L181.70,129.89 L181.15,129.23 L180.61,128.55 L180.08,127.88 L179.56,127.20 L179.04,126.52 L178.53,125.83 L178.03,125.14 L177.54,124.44 L177.05,123.74 L176.56,123.04 L176.09,122.33 L175.62,121.62 L175.16,120.91 L174.70,120.19 L174.25,119.47 L173.81,118.74 L173.38,118.01 L172.95,117.28 L172.53,116.54 L172.13,115.79 L171.74,115.03 L171.37,114.26 L171.01,113.49 L170.67,112.70 L170.34,111.91 L170.03,111.11 L169.74,110.30 L169.46,109.48 L169.19,108.65 L168.95,107.81 L168.73,106.95 L168.53,106.09 L168.38,105.19 L168.40,104.20 L168.40,104.20 L169.27,104.68 L169.97,105.26 L170.62,105.86 L171.25,106.48 L171.86,107.11 L172.44,107.75 L173.01,108.41 L173.57,109.07 L174.11,109.74 L174.63,110.42 L175.14,111.11 L175.63,111.80 L176.11,112.51 L176.57,113.22 L177.02,113.94 L177.45,114.68 L177.87,115.41 L178.29,116.16 L178.70,116.90 L179.10,117.65 L179.49,118.41 L179.88,119.16 L180.26,119.92 L180.64,120.69 L181.00,121.46 L181.36,122.23 L181.72,123.01 L182.07,123.79 L182.41,124.58 L182.74,125.36 L183.07,126.16 L183.39,126.95 L183.70,127.76 L184.00,128.56 L184.29,129.38 L184.57,130.19 L184.84,131.02 L185.09,131.86 L185.31,132.71 L185.40,133.64 Z" fill="none" stroke="#30d0f0" stroke-width="0.9" stroke-opacity="0.7"/>
<defs>
<linearGradient id="ga3" gradientUnits="userSpaceOnUse" x1="193.40" y1="147.50" x2="140.40" y2="147.50">
<stop offset="0.000" stop-color="#4a10c8" stop-opacity="1.000"/>
<stop offset="0.350" stop-color="#1a30d8" stop-opacity="1.000"/>
<stop offset="0.700" stop-color="#1068e0" stop-opacity="1.000"/>
<stop offset="1.000" stop-color="#20b8d8" stop-opacity="1.000"/>
</linearGradient>
</defs>
<path d="M185.40,147.50 L184.28,148.25 L183.15,148.76 L182.03,149.20 L180.90,149.60 L179.78,149.98 L178.65,150.32 L177.53,150.65 L176.40,150.95 L175.28,151.23 L174.15,151.50 L173.03,151.74 L171.90,151.97 L170.78,152.18 L169.65,152.38 L168.53,152.55 L167.40,152.71 L166.28,152.85 L165.15,152.97 L164.03,153.07 L162.90,153.15 L161.78,153.22 L160.65,153.26 L159.53,153.29 L158.40,153.30 L157.28,153.28 L156.15,153.22 L155.03,153.11 L153.90,152.97 L152.78,152.78 L151.65,152.55 L150.53,152.28 L149.40,151.97 L148.28,151.62 L147.15,151.23 L146.03,150.80 L144.90,150.32 L143.78,149.79 L142.65,149.20 L141.53,148.52 L140.40,147.50 L140.40,147.50 L141.53,146.48 L142.65,145.80 L143.78,145.21 L144.90,144.68 L146.03,144.20 L147.15,143.77 L148.28,143.38 L149.40,143.03 L150.53,142.72 L151.65,142.45 L152.78,142.22 L153.90,142.03 L155.03,141.89 L156.15,141.78 L157.28,141.72 L158.40,141.70 L159.53,141.71 L160.65,141.74 L161.78,141.78 L162.90,141.85 L164.03,141.93 L165.15,142.03 L166.28,142.15 L167.40,142.29 L168.53,142.45 L169.65,142.62 L170.78,142.82 L171.90,143.03 L173.03,143.26 L174.15,143.50 L175.28,143.77 L176.40,144.05 L177.53,144.35 L178.65,144.68 L179.78,145.02 L180.90,145.40 L182.03,145.80 L183.15,146.24 L184.28,146.75 L185.40,147.50 Z" fill="url(#ga3)" stroke="#58f020" stroke-width="1.4" stroke-opacity="0.95"/>
<path d="M177.40,147.50 L176.55,147.89 L175.70,148.13 L174.85,148.33 L174.00,148.51 L173.15,148.67 L172.30,148.83 L171.45,148.97 L170.60,149.10 L169.75,149.22 L168.90,149.34 L168.05,149.44 L167.20,149.54 L166.35,149.63 L165.50,149.71 L164.65,149.78 L163.80,149.85 L162.95,149.91 L162.10,149.96 L161.25,150.00 L160.40,150.04 L159.55,150.06 L158.70,150.08 L157.85,150.10 L157.00,150.10 L156.15,150.09 L155.30,150.06 L154.45,150.02 L153.60,149.96 L152.75,149.88 L151.90,149.78 L151.05,149.67 L150.20,149.54 L149.35,149.39 L148.50,149.22 L147.65,149.04 L146.80,148.83 L145.95,148.59 L145.10,148.33 L144.25,148.01 L143.40,147.50 L143.40,147.50 L144.25,146.99 L145.10,146.67 L145.95,146.41 L146.80,146.17 L147.65,145.96 L148.50,145.78 L149.35,145.61 L150.20,145.46 L151.05,145.33 L151.90,145.22 L152.75,145.12 L153.60,145.04 L154.45,144.98 L155.30,144.94 L156.15,144.91 L157.00,144.90 L157.85,144.90 L158.70,144.92 L159.55,144.94 L160.40,144.96 L161.25,145.00 L162.10,145.04 L162.95,145.09 L163.80,145.15 L164.65,145.22 L165.50,145.29 L166.35,145.37 L167.20,145.46 L168.05,145.56 L168.90,145.66 L169.75,145.78 L170.60,145.90 L171.45,146.03 L172.30,146.17 L173.15,146.33 L174.00,146.49 L174.85,146.67 L175.70,146.87 L176.55,147.11 L177.40,147.50 Z" fill="none" stroke="#30d0f0" stroke-width="0.9" stroke-opacity="0.7"/>
<defs>
<linearGradient id="ga4" gradientUnits="userSpaceOnUse" x1="193.40" y1="147.50" x2="166.90" y2="193.40">
<stop offset="0.000" stop-color="#4a10c8" stop-opacity="1.000"/>
<stop offset="0.350" stop-color="#1a30d8" stop-opacity="1.000"/>
<stop offset="0.700" stop-color="#1068e0" stop-opacity="1.000"/>
<stop offset="1.000" stop-color="#20b8d8" stop-opacity="1.000"/>
</linearGradient>
</defs>
<path d="M189.40,154.43 L189.49,155.78 L189.37,157.01 L189.19,158.20 L188.97,159.38 L188.73,160.54 L188.47,161.68 L188.19,162.82 L187.89,163.95 L187.57,165.06 L187.24,166.17 L186.89,167.27 L186.52,168.36 L186.14,169.44 L185.75,170.51 L185.34,171.57 L184.91,172.62 L184.47,173.66 L184.01,174.70 L183.53,175.72 L183.04,176.74 L182.54,177.75 L182.02,178.74 L181.48,179.73 L180.92,180.71 L180.34,181.67 L179.73,182.62 L179.07,183.54 L178.38,184.44 L177.66,185.32 L176.90,186.18 L176.10,187.02 L175.27,187.84 L174.41,188.64 L173.51,189.42 L172.57,190.18 L171.59,190.91 L170.57,191.62 L169.50,192.30 L168.34,192.93 L166.90,193.40 L166.90,193.40 L166.58,191.92 L166.55,190.60 L166.60,189.33 L166.71,188.09 L166.85,186.88 L167.04,185.69 L167.27,184.52 L167.53,183.37 L167.82,182.24 L168.15,181.13 L168.52,180.04 L168.92,178.98 L169.35,177.93 L169.82,176.90 L170.33,175.90 L170.88,174.91 L171.45,173.94 L172.03,172.98 L172.64,172.03 L173.26,171.09 L173.89,170.16 L174.54,169.23 L175.21,168.32 L175.89,167.41 L176.59,166.52 L177.30,165.63 L178.03,164.75 L178.78,163.88 L179.54,163.02 L180.31,162.17 L181.11,161.33 L181.91,160.50 L182.74,159.68 L183.58,158.86 L184.44,158.06 L185.33,157.27 L186.24,156.50 L187.18,155.75 L188.19,155.03 L189.40,154.43 Z" fill="url(#ga4)" stroke="#58f020" stroke-width="1.4" stroke-opacity="0.95"/>
<path d="M185.40,161.36 L185.31,162.29 L185.09,163.14 L184.84,163.98 L184.57,164.81 L184.29,165.62 L184.00,166.44 L183.70,167.24 L183.39,168.05 L183.07,168.84 L182.74,169.64 L182.41,170.42 L182.07,171.21 L181.72,171.99 L181.36,172.77 L181.00,173.54 L180.64,174.31 L180.26,175.08 L179.88,175.84 L179.49,176.59 L179.10,177.35 L178.70,178.10 L178.29,178.84 L177.87,179.59 L177.45,180.32 L177.02,181.06 L176.57,181.78 L176.11,182.49 L175.63,183.20 L175.14,183.89 L174.63,184.58 L174.11,185.26 L173.57,185.93 L173.01,186.59 L172.44,187.25 L171.86,187.89 L171.25,188.52 L170.62,189.14 L169.97,189.74 L169.27,190.32 L168.40,190.80 L168.40,190.80 L168.38,189.81 L168.53,188.91 L168.73,188.05 L168.95,187.19 L169.19,186.35 L169.46,185.52 L169.74,184.70 L170.03,183.89 L170.34,183.09 L170.67,182.30 L171.01,181.51 L171.37,180.74 L171.74,179.97 L172.13,179.21 L172.53,178.46 L172.95,177.72 L173.38,176.99 L173.81,176.26 L174.25,175.53 L174.70,174.81 L175.16,174.09 L175.62,173.38 L176.09,172.67 L176.56,171.96 L177.05,171.26 L177.54,170.56 L178.03,169.86 L178.53,169.17 L179.04,168.48 L179.56,167.80 L180.08,167.12 L180.61,166.45 L181.15,165.77 L181.70,165.11 L182.26,164.45 L182.83,163.80 L183.41,163.15 L184.01,162.52 L184.64,161.90 L185.40,161.36 Z" fill="none" stroke="#30d0f0" stroke-width="0.9" stroke-opacity="0.7"/>
<defs>
<linearGradient id="ga5" gradientUnits="userSpaceOnUse" x1="193.40" y1="147.50" x2="219.90" y2="193.40">
<stop offset="0.000" stop-color="#4a10c8" stop-opacity="1.000"/>
<stop offset="0.350" stop-color="#1a30d8" stop-opacity="1.000"/>
<stop offset="0.700" stop-color="#1068e0" stop-opacity="1.000"/>
<stop offset="1.000" stop-color="#20b8d8" stop-opacity="1.000"/>
</linearGradient>
</defs>
<path d="M197.40,154.43 L198.61,155.03 L199.62,155.75 L200.56,156.50 L201.47,157.27 L202.36,158.06 L203.22,158.86 L204.06,159.68 L204.89,160.50 L205.69,161.33 L206.49,162.17 L207.26,163.02 L208.02,163.88 L208.77,164.75 L209.50,165.63 L210.21,166.52 L210.91,167.41 L211.59,168.32 L212.26,169.23 L212.91,170.16 L213.54,171.09 L214.16,172.03 L214.77,172.98 L215.35,173.94 L215.92,174.91 L216.47,175.90 L216.98,176.90 L217.45,177.93 L217.88,178.98 L218.28,180.04 L218.65,181.13 L218.98,182.24 L219.27,183.37 L219.53,184.52 L219.76,185.69 L219.95,186.88 L220.09,188.09 L220.20,189.33 L220.25,190.60 L220.22,191.92 L219.90,193.40 L219.90,193.40 L218.46,192.93 L217.30,192.30 L216.23,191.62 L215.21,190.91 L214.23,190.18 L213.29,189.42 L212.39,188.64 L211.53,187.84 L210.70,187.02 L209.90,186.18 L209.14,185.32 L208.42,184.44 L207.73,183.54 L207.07,182.62 L206.46,181.67 L205.88,180.71 L205.32,179.73 L204.78,178.74 L204.26,177.75 L203.76,176.74 L203.27,175.72 L202.79,174.70 L202.33,173.66 L201.89,172.62 L201.46,171.57 L201.05,170.51 L200.66,169.44 L200.28,168.36 L199.91,167.27 L199.56,166.17 L199.23,165.06 L198.91,163.95 L198.61,162.82 L198.33,161.68 L198.07,160.54 L197.83,159.38 L197.61,158.20 L197.43,157.01 L197.31,155.78 L197.40,154.43 Z" fill="url(#ga5)" stroke="#58f020" stroke-width="1.4" stroke-opacity="0.95"/>
<path d="M201.40,161.36 L202.16,161.90 L202.79,162.52 L203.39,163.15 L203.97,163.80 L204.54,164.45 L205.10,165.11 L205.65,165.77 L206.19,166.45 L206.72,167.12 L207.24,167.80 L207.76,168.48 L208.27,169.17 L208.77,169.86 L209.26,170.56 L209.75,171.26 L210.24,171.96 L210.71,172.67 L211.18,173.38 L211.64,174.09 L212.10,174.81 L212.55,175.53 L212.99,176.26 L213.42,176.99 L213.85,177.72 L214.27,178.46 L214.67,179.21 L215.06,179.97 L215.43,180.74 L215.79,181.51 L216.13,182.30 L216.46,183.09 L216.77,183.89 L217.06,184.70 L217.34,185.52 L217.61,186.35 L217.85,187.19 L218.07,188.05 L218.27,188.91 L218.42,189.81 L218.40,190.80 L218.40,190.80 L217.53,190.32 L216.83,189.74 L216.18,189.14 L215.55,188.52 L214.94,187.89 L214.36,187.25 L213.79,186.59 L213.23,185.93 L212.69,185.26 L212.17,184.58 L211.66,183.89 L211.17,183.20 L210.69,182.49 L210.23,181.78 L209.78,181.06 L209.35,180.32 L208.93,179.59 L208.51,178.84 L208.10,178.10 L207.70,177.35 L207.31,176.59 L206.92,175.84 L206.54,175.08 L206.16,174.31 L205.80,173.54 L205.44,172.77 L205.08,171.99 L204.73,171.21 L204.39,170.42 L204.06,169.64 L203.73,168.84 L203.41,168.05 L203.10,167.24 L202.80,166.44 L202.51,165.62 L202.23,164.81 L201.96,163.98 L201.71,163.14 L201.49,162.29 L201.40,161.36 Z" fill="none" stroke="#30d0f0" stroke-width="0.9" stroke-opacity="0.7"/>
<circle cx="193.40" cy="147.50" r="7" fill="#2a10a0" fill-opacity="0.55"/>
<path d="M193.40,147.50 L193.85,147.07 L194.33,146.72 L194.81,146.40 L195.30,146.09 L195.79,145.80 L196.29,145.52 L196.79,145.26 L197.29,145.01 L197.80,144.78 L198.31,144.57 L198.82,144.37 L199.34,144.18 L199.87,144.02 L200.40,143.87 L200.93,143.73 L201.46,143.59 L202.00,143.46 L202.53,143.33 L203.07,143.21 L203.61,143.10 L204.15,142.99 L204.69,142.88 L205.23,142.78 L205.77,142.68 L206.32,142.59 L206.86,142.50 L207.41,142.41 L207.96,142.33 L208.51,142.26 L209.06,142.18 L209.61,142.12 L210.16,142.06 L210.72,142.00 L211.27,141.94 L211.83,141.90 L212.39,141.85 L212.94,141.82 L213.51,141.79 L214.07,141.77 L214.65,141.81 L214.65,141.81 L214.17,142.12 L213.67,142.39 L213.17,142.65 L212.67,142.90 L212.16,143.14 L211.65,143.38 L211.15,143.61 L210.64,143.83 L210.13,144.06 L209.62,144.27 L209.11,144.49 L208.59,144.70 L208.08,144.90 L207.56,145.10 L207.04,145.30 L206.53,145.49 L206.01,145.68 L205.49,145.86 L204.97,146.04 L204.44,146.21 L203.92,146.38 L203.39,146.54 L202.87,146.70 L202.34,146.85 L201.81,147.00 L201.28,147.15 L200.74,147.28 L200.21,147.40 L199.66,147.50 L199.12,147.59 L198.57,147.66 L198.01,147.71 L197.45,147.75 L196.89,147.77 L196.32,147.78 L195.75,147.77 L195.18,147.75 L194.59,147.71 L194.01,147.64 L193.40,147.50 Z" fill="#7010d8" fill-opacity="0.8"/>
<path d="M193.40,147.50 L193.58,146.90 L193.82,146.36 L194.07,145.84 L194.34,145.33 L194.62,144.83 L194.91,144.34 L195.21,143.87 L195.52,143.40 L195.85,142.95 L196.18,142.51 L196.53,142.07 L196.89,141.66 L197.26,141.25 L197.64,140.85 L198.03,140.47 L198.43,140.08 L198.83,139.70 L199.23,139.33 L199.63,138.95 L200.04,138.58 L200.45,138.22 L200.87,137.85 L201.28,137.49 L201.71,137.14 L202.13,136.78 L202.56,136.43 L202.99,136.09 L203.42,135.75 L203.86,135.41 L204.30,135.07 L204.75,134.73 L205.19,134.40 L205.64,134.08 L206.10,133.75 L206.56,133.43 L207.02,133.12 L207.48,132.81 L207.96,132.50 L208.44,132.21 L208.96,131.94 L208.96,131.94 L208.69,132.46 L208.40,132.94 L208.09,133.42 L207.78,133.88 L207.47,134.34 L207.15,134.80 L206.82,135.26 L206.50,135.71 L206.17,136.15 L205.83,136.60 L205.49,137.04 L205.15,137.48 L204.81,137.91 L204.47,138.34 L204.12,138.77 L203.76,139.19 L203.41,139.62 L203.05,140.03 L202.68,140.45 L202.32,140.86 L201.95,141.27 L201.57,141.67 L201.20,142.07 L200.82,142.47 L200.43,142.87 L200.05,143.26 L199.65,143.64 L199.24,144.01 L198.83,144.37 L198.39,144.72 L197.95,145.05 L197.50,145.38 L197.03,145.69 L196.56,145.99 L196.07,146.28 L195.57,146.56 L195.06,146.83 L194.54,147.08 L194.00,147.32 L193.40,147.50 Z" fill="#7010d8" fill-opacity="0.8"/>
<path d="M193.40,147.50 L193.26,146.89 L193.19,146.31 L193.15,145.72 L193.13,145.15 L193.12,144.58 L193.13,144.01 L193.15,143.45 L193.19,142.89 L193.24,142.33 L193.31,141.78 L193.40,141.24 L193.50,140.69 L193.62,140.16 L193.75,139.62 L193.90,139.09 L194.05,138.56 L194.20,138.03 L194.36,137.51 L194.52,136.98 L194.69,136.46 L194.86,135.93 L195.04,135.41 L195.22,134.89 L195.41,134.37 L195.60,133.86 L195.80,133.34 L196.00,132.82 L196.20,132.31 L196.41,131.79 L196.63,131.28 L196.84,130.77 L197.07,130.26 L197.29,129.75 L197.52,129.25 L197.76,128.74 L198.00,128.23 L198.25,127.73 L198.51,127.23 L198.78,126.73 L199.09,126.25 L199.09,126.25 L199.13,126.83 L199.11,127.39 L199.08,127.96 L199.05,128.51 L199.00,129.07 L198.96,129.63 L198.90,130.18 L198.84,130.74 L198.78,131.29 L198.72,131.84 L198.64,132.39 L198.57,132.94 L198.49,133.49 L198.40,134.04 L198.31,134.58 L198.22,135.13 L198.12,135.67 L198.02,136.21 L197.91,136.75 L197.80,137.29 L197.69,137.83 L197.57,138.37 L197.44,138.90 L197.31,139.44 L197.17,139.97 L197.03,140.50 L196.88,141.03 L196.72,141.56 L196.53,142.08 L196.33,142.59 L196.12,143.10 L195.89,143.61 L195.64,144.11 L195.38,144.61 L195.10,145.11 L194.81,145.60 L194.50,146.09 L194.18,146.57 L193.83,147.05 L193.40,147.50 Z" fill="#7010d8" fill-opacity="0.8"/>
<path d="M193.40,147.50 L192.97,147.05 L192.62,146.57 L192.30,146.09 L191.99,145.60 L191.70,145.11 L191.42,144.61 L191.16,144.11 L190.91,143.61 L190.68,143.10 L190.47,142.59 L190.27,142.08 L190.08,141.56 L189.92,141.03 L189.77,140.50 L189.63,139.97 L189.49,139.44 L189.36,138.90 L189.23,138.37 L189.11,137.83 L189.00,137.29 L188.89,136.75 L188.78,136.21 L188.68,135.67 L188.58,135.13 L188.49,134.58 L188.40,134.04 L188.31,133.49 L188.23,132.94 L188.16,132.39 L188.08,131.84 L188.02,131.29 L187.96,130.74 L187.90,130.18 L187.84,129.63 L187.80,129.07 L187.75,128.51 L187.72,127.96 L187.69,127.39 L187.67,126.83 L187.71,126.25 L187.71,126.25 L188.02,126.73 L188.29,127.23 L188.55,127.73 L188.80,128.23 L189.04,128.74 L189.28,129.25 L189.51,129.75 L189.73,130.26 L189.96,130.77 L190.17,131.28 L190.39,131.79 L190.60,132.31 L190.80,132.82 L191.00,133.34 L191.20,133.86 L191.39,134.37 L191.58,134.89 L191.76,135.41 L191.94,135.93 L192.11,136.46 L192.28,136.98 L192.44,137.51 L192.60,138.03 L192.75,138.56 L192.90,139.09 L193.05,139.62 L193.18,140.16 L193.30,140.69 L193.40,141.24 L193.49,141.78 L193.56,142.33 L193.61,142.89 L193.65,143.45 L193.67,144.01 L193.68,144.58 L193.67,145.15 L193.65,145.72 L193.61,146.31 L193.54,146.89 L193.40,147.50 Z" fill="#7010d8" fill-opacity="0.8"/>
<path d="M193.40,147.50 L192.80,147.32 L192.26,147.08 L191.74,146.83 L191.23,146.56 L190.73,146.28 L190.24,145.99 L189.77,145.69 L189.30,145.38 L188.85,145.05 L188.41,144.72 L187.97,144.37 L187.56,144.01 L187.15,143.64 L186.75,143.26 L186.37,142.87 L185.98,142.47 L185.60,142.07 L185.23,141.67 L184.85,141.27 L184.48,140.86 L184.12,140.45 L183.75,140.03 L183.39,139.62 L183.04,139.19 L182.68,138.77 L182.33,138.34 L181.99,137.91 L181.65,137.48 L181.31,137.04 L180.97,136.60 L180.63,136.15 L180.30,135.71 L179.98,135.26 L179.65,134.80 L179.33,134.34 L179.02,133.88 L178.71,133.42 L178.40,132.94 L178.11,132.46 L177.84,131.94 L177.84,131.94 L178.36,132.21 L178.84,132.50 L179.32,132.81 L179.78,133.12 L180.24,133.43 L180.70,133.75 L181.16,134.08 L181.61,134.40 L182.05,134.73 L182.50,135.07 L182.94,135.41 L183.38,135.75 L183.81,136.09 L184.24,136.43 L184.67,136.78 L185.09,137.14 L185.52,137.49 L185.93,137.85 L186.35,138.22 L186.76,138.58 L187.17,138.95 L187.57,139.33 L187.97,139.70 L188.37,140.08 L188.77,140.47 L189.16,140.85 L189.54,141.25 L189.91,141.66 L190.27,142.07 L190.62,142.51 L190.95,142.95 L191.28,143.40 L191.59,143.87 L191.89,144.34 L192.18,144.83 L192.46,145.33 L192.73,145.84 L192.98,146.36 L193.22,146.90 L193.40,147.50 Z" fill="#7010d8" fill-opacity="0.8"/>
<path d="M193.40,147.50 L192.79,147.64 L192.21,147.71 L191.62,147.75 L191.05,147.77 L190.48,147.78 L189.91,147.77 L189.35,147.75 L188.79,147.71 L188.23,147.66 L187.68,147.59 L187.14,147.50 L186.59,147.40 L186.06,147.28 L185.52,147.15 L184.99,147.00 L184.46,146.85 L183.93,146.70 L183.41,146.54 L182.88,146.38 L182.36,146.21 L181.83,146.04 L181.31,145.86 L180.79,145.68 L180.27,145.49 L179.76,145.30 L179.24,145.10 L178.72,144.90 L178.21,144.70 L177.69,144.49 L177.18,144.27 L176.67,144.06 L176.16,143.83 L175.65,143.61 L175.15,143.38 L174.64,143.14 L174.13,142.90 L173.63,142.65 L173.13,142.39 L172.63,142.12 L172.15,141.81 L172.15,141.81 L172.73,141.77 L173.29,141.79 L173.86,141.82 L174.41,141.85 L174.97,141.90 L175.53,141.94 L176.08,142.00 L176.64,142.06 L177.19,142.12 L177.74,142.18 L178.29,142.26 L178.84,142.33 L179.39,142.41 L179.94,142.50 L180.48,142.59 L181.03,142.68 L181.57,142.78 L182.11,142.88 L182.65,142.99 L183.19,143.10 L183.73,143.21 L184.27,143.33 L184.80,143.46 L185.34,143.59 L185.87,143.73 L186.40,143.87 L186.93,144.02 L187.46,144.18 L187.98,144.37 L188.49,144.57 L189.00,144.78 L189.51,145.01 L190.01,145.26 L190.51,145.52 L191.01,145.80 L191.50,146.09 L191.99,146.40 L192.47,146.72 L192.95,147.07 L193.40,147.50 Z" fill="#7010d8" fill-opacity="0.8"/>
<path d="M193.40,147.50 L192.95,147.93 L192.47,148.28 L191.99,148.60 L191.50,148.91 L191.01,149.20 L190.51,149.48 L190.01,149.74 L189.51,149.99 L189.00,150.22 L188.49,150.43 L187.98,150.63 L187.46,150.82 L186.93,150.98 L186.40,151.13 L185.87,151.27 L185.34,151.41 L184.80,151.54 L184.27,151.67 L183.73,151.79 L183.19,151.90 L182.65,152.01 L182.11,152.12 L181.57,152.22 L181.03,152.32 L180.48,152.41 L179.94,152.50 L179.39,152.59 L178.84,152.67 L178.29,152.74 L177.74,152.82 L177.19,152.88 L176.64,152.94 L176.08,153.00 L175.53,153.06 L174.97,153.10 L174.41,153.15 L173.86,153.18 L173.29,153.21 L172.73,153.23 L172.15,153.19 L172.15,153.19 L172.63,152.88 L173.13,152.61 L173.63,152.35 L174.13,152.10 L174.64,151.86 L175.15,151.62 L175.65,151.39 L176.16,151.17 L176.67,150.94 L177.18,150.73 L177.69,150.51 L178.21,150.30 L178.72,150.10 L179.24,149.90 L179.76,149.70 L180.27,149.51 L180.79,149.32 L181.31,149.14 L181.83,148.96 L182.36,148.79 L182.88,148.62 L183.41,148.46 L183.93,148.30 L184.46,148.15 L184.99,148.00 L185.52,147.85 L186.06,147.72 L186.59,147.60 L187.14,147.50 L187.68,147.41 L188.23,147.34 L188.79,147.29 L189.35,147.25 L189.91,147.23 L190.48,147.22 L191.05,147.23 L191.62,147.25 L192.21,147.29 L192.79,147.36 L193.40,147.50 Z" fill="#7010d8" fill-opacity="0.8"/>
<path d="M193.40,147.50 L193.22,148.10 L192.98,148.64 L192.73,149.16 L192.46,149.67 L192.18,150.17 L191.89,150.66 L191.59,151.13 L191.28,151.60 L190.95,152.05 L190.62,152.49 L190.27,152.93 L189.91,153.34 L189.54,153.75 L189.16,154.15 L188.77,154.53 L188.37,154.92 L187.97,155.30 L187.57,155.67 L187.17,156.05 L186.76,156.42 L186.35,156.78 L185.93,157.15 L185.52,157.51 L185.09,157.86 L184.67,158.22 L184.24,158.57 L183.81,158.91 L183.38,159.25 L182.94,159.59 L182.50,159.93 L182.05,160.27 L181.61,160.60 L181.16,160.92 L180.70,161.25 L180.24,161.57 L179.78,161.88 L179.32,162.19 L178.84,162.50 L178.36,162.79 L177.84,163.06 L177.84,163.06 L178.11,162.54 L178.40,162.06 L178.71,161.58 L179.02,161.12 L179.33,160.66 L179.65,160.20 L179.98,159.74 L180.30,159.29 L180.63,158.85 L180.97,158.40 L181.31,157.96 L181.65,157.52 L181.99,157.09 L182.33,156.66 L182.68,156.23 L183.04,155.81 L183.39,155.38 L183.75,154.97 L184.12,154.55 L184.48,154.14 L184.85,153.73 L185.23,153.33 L185.60,152.93 L185.98,152.53 L186.37,152.13 L186.75,151.74 L187.15,151.36 L187.56,150.99 L187.97,150.63 L188.41,150.28 L188.85,149.95 L189.30,149.62 L189.77,149.31 L190.24,149.01 L190.73,148.72 L191.23,148.44 L191.74,148.17 L192.26,147.92 L192.80,147.68 L193.40,147.50 Z" fill="#7010d8" fill-opacity="0.8"/>
<path d="M193.40,147.50 L193.54,148.11 L193.61,148.69 L193.65,149.28 L193.67,149.85 L193.68,150.42 L193.67,150.99 L193.65,151.55 L193.61,152.11 L193.56,152.67 L193.49,153.22 L193.40,153.76 L193.30,154.31 L193.18,154.84 L193.05,155.38 L192.90,155.91 L192.75,156.44 L192.60,156.97 L192.44,157.49 L192.28,158.02 L192.11,158.54 L191.94,159.07 L191.76,159.59 L191.58,160.11 L191.39,160.63 L191.20,161.14 L191.00,161.66 L190.80,162.18 L190.60,162.69 L190.39,163.21 L190.17,163.72 L189.96,164.23 L189.73,164.74 L189.51,165.25 L189.28,165.75 L189.04,166.26 L188.80,166.77 L188.55,167.27 L188.29,167.77 L188.02,168.27 L187.71,168.75 L187.71,168.75 L187.67,168.17 L187.69,167.61 L187.72,167.04 L187.75,166.49 L187.80,165.93 L187.84,165.37 L187.90,164.82 L187.96,164.26 L188.02,163.71 L188.08,163.16 L188.16,162.61 L188.23,162.06 L188.31,161.51 L188.40,160.96 L188.49,160.42 L188.58,159.87 L188.68,159.33 L188.78,158.79 L188.89,158.25 L189.00,157.71 L189.11,157.17 L189.23,156.63 L189.36,156.10 L189.49,155.56 L189.63,155.03 L189.77,154.50 L189.92,153.97 L190.08,153.44 L190.27,152.92 L190.47,152.41 L190.68,151.90 L190.91,151.39 L191.16,150.89 L191.42,150.39 L191.70,149.89 L191.99,149.40 L192.30,148.91 L192.62,148.43 L192.97,147.95 L193.40,147.50 Z" fill="#7010d8" fill-opacity="0.8"/>
<path d="M193.40,147.50 L193.83,147.95 L194.18,148.43 L194.50,148.91 L194.81,149.40 L195.10,149.89 L195.38,150.39 L195.64,150.89 L195.89,151.39 L196.12,151.90 L196.33,152.41 L196.53,152.92 L196.72,153.44 L196.88,153.97 L197.03,154.50 L197.17,155.03 L197.31,155.56 L197.44,156.10 L197.57,156.63 L197.69,157.17 L197.80,157.71 L197.91,158.25 L198.02,158.79 L198.12,159.33 L198.22,159.87 L198.31,160.42 L198.40,160.96 L198.49,161.51 L198.57,162.06 L198.64,162.61 L198.72,163.16 L198.78,163.71 L198.84,164.26 L198.90,164.82 L198.96,165.37 L199.00,165.93 L199.05,166.49 L199.08,167.04 L199.11,167.61 L199.13,168.17 L199.09,168.75 L199.09,168.75 L198.78,168.27 L198.51,167.77 L198.25,167.27 L198.00,166.77 L197.76,166.26 L197.52,165.75 L197.29,165.25 L197.07,164.74 L196.84,164.23 L196.63,163.72 L196.41,163.21 L196.20,162.69 L196.00,162.18 L195.80,161.66 L195.60,161.14 L195.41,160.63 L195.22,160.11 L195.04,159.59 L194.86,159.07 L194.69,158.54 L194.52,158.02 L194.36,157.49 L194.20,156.97 L194.05,156.44 L193.90,155.91 L193.75,155.38 L193.62,154.84 L193.50,154.31 L193.40,153.76 L193.31,153.22 L193.24,152.67 L193.19,152.11 L193.15,151.55 L193.13,150.99 L193.12,150.42 L193.13,149.85 L193.15,149.28 L193.19,148.69 L193.26,148.11 L193.40,147.50 Z" fill="#7010d8" fill-opacity="0.8"/>
<path d="M193.40,147.50 L194.00,147.68 L194.54,147.92 L195.06,148.17 L195.57,148.44 L196.07,148.72 L196.56,149.01 L197.03,149.31 L197.50,149.62 L197.95,149.95 L198.39,150.28 L198.83,150.63 L199.24,150.99 L199.65,151.36 L200.05,151.74 L200.43,152.13 L200.82,152.53 L201.20,152.93 L201.57,153.33 L201.95,153.73 L202.32,154.14 L202.68,154.55 L203.05,154.97 L203.41,155.38 L203.76,155.81 L204.12,156.23 L204.47,156.66 L204.81,157.09 L205.15,157.52 L205.49,157.96 L205.83,158.40 L206.17,158.85 L206.50,159.29 L206.82,159.74 L207.15,160.20 L207.47,160.66 L207.78,161.12 L208.09,161.58 L208.40,162.06 L208.69,162.54 L208.96,163.06 L208.96,163.06 L208.44,162.79 L207.96,162.50 L207.48,162.19 L207.02,161.88 L206.56,161.57 L206.10,161.25 L205.64,160.92 L205.19,160.60 L204.75,160.27 L204.30,159.93 L203.86,159.59 L203.42,159.25 L202.99,158.91 L202.56,158.57 L202.13,158.22 L201.71,157.86 L201.28,157.51 L200.87,157.15 L200.45,156.78 L200.04,156.42 L199.63,156.05 L199.23,155.67 L198.83,155.30 L198.43,154.92 L198.03,154.53 L197.64,154.15 L197.26,153.75 L196.89,153.34 L196.53,152.93 L196.18,152.49 L195.85,152.05 L195.52,151.60 L195.21,151.13 L194.91,150.66 L194.62,150.17 L194.34,149.67 L194.07,149.16 L193.82,148.64 L193.58,148.10 L193.40,147.50 Z" fill="#7010d8" fill-opacity="0.8"/>
<path d="M193.40,147.50 L194.01,147.36 L194.59,147.29 L195.18,147.25 L195.75,147.23 L196.32,147.22 L196.89,147.23 L197.45,147.25 L198.01,147.29 L198.57,147.34 L199.12,147.41 L199.66,147.50 L200.21,147.60 L200.74,147.72 L201.28,147.85 L201.81,148.00 L202.34,148.15 L202.87,148.30 L203.39,148.46 L203.92,148.62 L204.44,148.79 L204.97,148.96 L205.49,149.14 L206.01,149.32 L206.53,149.51 L207.04,149.70 L207.56,149.90 L208.08,150.10 L208.59,150.30 L209.11,150.51 L209.62,150.73 L210.13,150.94 L210.64,151.17 L211.15,151.39 L211.65,151.62 L212.16,151.86 L212.67,152.10 L213.17,152.35 L213.67,152.61 L214.17,152.88 L214.65,153.19 L214.65,153.19 L214.07,153.23 L213.51,153.21 L212.94,153.18 L212.39,153.15 L211.83,153.10 L211.27,153.06 L210.72,153.00 L210.16,152.94 L209.61,152.88 L209.06,152.82 L208.51,152.74 L207.96,152.67 L207.41,152.59 L206.86,152.50 L206.32,152.41 L205.77,152.32 L205.23,152.22 L204.69,152.12 L204.15,152.01 L203.61,151.90 L203.07,151.79 L202.53,151.67 L202.00,151.54 L201.46,151.41 L200.93,151.27 L200.40,151.13 L199.87,150.98 L199.34,150.82 L198.82,150.63 L198.31,150.43 L197.80,150.22 L197.29,149.99 L196.79,149.74 L196.29,149.48 L195.79,149.20 L195.30,148.91 L194.81,148.60 L194.33,148.28 L193.85,147.93 L193.40,147.50 Z" fill="#7010d8" fill-opacity="0.8"/>
</g>
<line x1="193.40" y1="147.50" x2="310.20" y2="147.50" stroke="#000" stroke-width="2"/>
<line x1="193.40" y1="147.50" x2="306.22" y2="117.27" stroke="#000" stroke-width="2"/>
<line x1="193.40" y1="147.50" x2="294.55" y2="89.10" stroke="#000" stroke-width="2"/>
<line x1="192.30" y1="522.40" x2="309.10" y2="522.40" stroke="#000" stroke-width="2"/>
<line x1="192.30" y1="522.40" x2="305.12" y2="492.17" stroke="#000" stroke-width="2"/>
<line x1="192.30" y1="522.40" x2="293.45" y2="464.00" stroke="#000" stroke-width="2"/>
<line x1="67.40" y1="22.00" x2="67.40" y2="273.90" stroke="#222" stroke-width="1.1"/>
<line x1="67.40" y1="273.40" x2="318.00" y2="273.40" stroke="#222" stroke-width="1.1"/>
<line x1="67.40" y1="261.70" x2="70.90" y2="261.70" stroke="#222" stroke-width="1"/>
<line x1="79.20" y1="273.40" x2="79.20" y2="269.90" stroke="#222" stroke-width="1"/>
<line x1="67.40" y1="250.28" x2="69.60" y2="250.28" stroke="#222" stroke-width="1"/>
<line x1="90.62" y1="273.40" x2="90.62" y2="271.20" stroke="#222" stroke-width="1"/>
<line x1="67.40" y1="238.86" x2="69.60" y2="238.86" stroke="#222" stroke-width="1"/>
<line x1="102.04" y1="273.40" x2="102.04" y2="271.20" stroke="#222" stroke-width="1"/>
<line x1="67.40" y1="227.44" x2="69.60" y2="227.44" stroke="#222" stroke-width="1"/>
<line x1="113.46" y1="273.40" x2="113.46" y2="271.20" stroke="#222" stroke-width="1"/>
<line x1="67.40" y1="216.02" x2="69.60" y2="216.02" stroke="#222" stroke-width="1"/>
<line x1="124.88" y1="273.40" x2="124.88" y2="271.20" stroke="#222" stroke-width="1"/>
<line x1="67.40" y1="204.60" x2="70.90" y2="204.60" stroke="#222" stroke-width="1"/>
<line x1="136.30" y1="273.40" x2="136.30" y2="269.90" stroke="#222" stroke-width="1"/>
<line x1="67.40" y1="193.18" x2="69.60" y2="193.18" stroke="#222" stroke-width="1"/>
<line x1="147.72" y1="273.40" x2="147.72" y2="271.20" stroke="#222" stroke-width="1"/>
<line x1="67.40" y1="181.76" x2="69.60" y2="181.76" stroke="#222" stroke-width="1"/>
<line x1="159.14" y1="273.40" x2="159.14" y2="271.20" stroke="#222" stroke-width="1"/>
<line x1="67.40" y1="170.34" x2="69.60" y2="170.34" stroke="#222" stroke-width="1"/>
<line x1="170.56" y1="273.40" x2="170.56" y2="271.20" stroke="#222" stroke-width="1"/>
<line x1="67.40" y1="158.92" x2="69.60" y2="158.92" stroke="#222" stroke-width="1"/>
<line x1="181.98" y1="273.40" x2="181.98" y2="271.20" stroke="#222" stroke-width="1"/>
<line x1="67.40" y1="147.50" x2="70.90" y2="147.50" stroke="#222" stroke-width="1"/>
<line x1="193.40" y1="273.40" x2="193.40" y2="269.90" stroke="#222" stroke-width="1"/>
<line x1="67.40" y1="136.08" x2="69.60" y2="136.08" stroke="#222" stroke-width="1"/>
<line x1="204.82" y1="273.40" x2="204.82" y2="271.20" stroke="#222" stroke-width="1"/>
<line x1="67.40" y1="124.66" x2="69.60" y2="124.66" stroke="#222" stroke-width="1"/>
<line x1="216.24" y1="273.40" x2="216.24" y2="271.20" stroke="#222" stroke-width="1"/>
<line x1="67.40" y1="113.24" x2="69.60" y2="113.24" stroke="#222" stroke-width="1"/>
<line x1="227.66" y1="273.40" x2="227.66" y2="271.20" stroke="#222" stroke-width="1"/>
<line x1="67.40" y1="101.82" x2="69.60" y2="101.82" stroke="#222" stroke-width="1"/>
<line x1="239.08" y1="273.40" x2="239.08" y2="271.20" stroke="#222" stroke-width="1"/>
<line x1="67.40" y1="90.40" x2="70.90" y2="90.40" stroke="#222" stroke-width="1"/>
<line x1="250.50" y1="273.40" x2="250.50" y2="269.90" stroke="#222" stroke-width="1"/>
<line x1="67.40" y1="78.98" x2="69.60" y2="78.98" stroke="#222" stroke-width="1"/>
<line x1="261.92" y1="273.40" x2="261.92" y2="271.20" stroke="#222" stroke-width="1"/>
<line x1="67.40" y1="67.56" x2="69.60" y2="67.56" stroke="#222" stroke-width="1"/>
<line x1="273.34" y1="273.40" x2="273.34" y2="271.20" stroke="#222" stroke-width="1"/>
<line x1="67.40" y1="56.14" x2="69.60" y2="56.14" stroke="#222" stroke-width="1"/>
<line x1="284.76" y1="273.40" x2="284.76" y2="271.20" stroke="#222" stroke-width="1"/>
<line x1="67.40" y1="44.72" x2="69.60" y2="44.72" stroke="#222" stroke-width="1"/>
<line x1="296.18" y1="273.40" x2="296.18" y2="271.20" stroke="#222" stroke-width="1"/>
<line x1="67.40" y1="33.30" x2="70.90" y2="33.30" stroke="#222" stroke-width="1"/>
<line x1="307.60" y1="273.40" x2="307.60" y2="269.90" stroke="#222" stroke-width="1"/>
<text x="61.40" y="38.30" font-size="14" text-anchor="end" >10</text>
<text x="307.60" y="290.60" font-size="14" text-anchor="middle" >10</text>
<text x="61.40" y="95.40" font-size="14" text-anchor="end" >5</text>
<text x="250.50" y="290.60" font-size="14" text-anchor="middle" >5</text>
<text x="61.40" y="152.50" font-size="14" text-anchor="end" >0</text>
<text x="193.40" y="290.60" font-size="14" text-anchor="middle" >0</text>
<text x="61.40" y="209.60" font-size="14" text-anchor="end" >&#8722;5</text>
<text x="136.30" y="290.60" font-size="14" text-anchor="middle" >&#8722;5</text>
<text x="61.40" y="266.70" font-size="14" text-anchor="end" >&#8722;10</text>
<text x="79.20" y="290.60" font-size="14" text-anchor="middle" >&#8722;10</text>
<text x="1.00" y="17.60" font-size="22" text-anchor="start" font-weight="bold">a</text>
<line x1="67.40" y1="397.60" x2="67.40" y2="647.10" stroke="#222" stroke-width="1.1"/>
<line x1="67.40" y1="646.60" x2="316.50" y2="646.60" stroke="#222" stroke-width="1.1"/>
<line x1="67.40" y1="636.40" x2="70.90" y2="636.40" stroke="#222" stroke-width="1"/>
<line x1="78.30" y1="646.60" x2="78.30" y2="643.10" stroke="#222" stroke-width="1"/>
<line x1="67.40" y1="625.00" x2="69.60" y2="625.00" stroke="#222" stroke-width="1"/>
<line x1="89.70" y1="646.60" x2="89.70" y2="644.40" stroke="#222" stroke-width="1"/>
<line x1="67.40" y1="613.60" x2="69.60" y2="613.60" stroke="#222" stroke-width="1"/>
<line x1="101.10" y1="646.60" x2="101.10" y2="644.40" stroke="#222" stroke-width="1"/>
<line x1="67.40" y1="602.20" x2="69.60" y2="602.20" stroke="#222" stroke-width="1"/>
<line x1="112.50" y1="646.60" x2="112.50" y2="644.40" stroke="#222" stroke-width="1"/>
<line x1="67.40" y1="590.80" x2="69.60" y2="590.80" stroke="#222" stroke-width="1"/>
<line x1="123.90" y1="646.60" x2="123.90" y2="644.40" stroke="#222" stroke-width="1"/>
<line x1="67.40" y1="579.40" x2="70.90" y2="579.40" stroke="#222" stroke-width="1"/>
<line x1="135.30" y1="646.60" x2="135.30" y2="643.10" stroke="#222" stroke-width="1"/>
<line x1="67.40" y1="568.00" x2="69.60" y2="568.00" stroke="#222" stroke-width="1"/>
<line x1="146.70" y1="646.60" x2="146.70" y2="644.40" stroke="#222" stroke-width="1"/>
<line x1="67.40" y1="556.60" x2="69.60" y2="556.60" stroke="#222" stroke-width="1"/>
<line x1="158.10" y1="646.60" x2="158.10" y2="644.40" stroke="#222" stroke-width="1"/>
<line x1="67.40" y1="545.20" x2="69.60" y2="545.20" stroke="#222" stroke-width="1"/>
<line x1="169.50" y1="646.60" x2="169.50" y2="644.40" stroke="#222" stroke-width="1"/>
<line x1="67.40" y1="533.80" x2="69.60" y2="533.80" stroke="#222" stroke-width="1"/>
<line x1="180.90" y1="646.60" x2="180.90" y2="644.40" stroke="#222" stroke-width="1"/>
<line x1="67.40" y1="522.40" x2="70.90" y2="522.40" stroke="#222" stroke-width="1"/>
<line x1="192.30" y1="646.60" x2="192.30" y2="643.10" stroke="#222" stroke-width="1"/>
<line x1="67.40" y1="511.00" x2="69.60" y2="511.00" stroke="#222" stroke-width="1"/>
<line x1="203.70" y1="646.60" x2="203.70" y2="644.40" stroke="#222" stroke-width="1"/>
<line x1="67.40" y1="499.60" x2="69.60" y2="499.60" stroke="#222" stroke-width="1"/>
<line x1="215.10" y1="646.60" x2="215.10" y2="644.40" stroke="#222" stroke-width="1"/>
<line x1="67.40" y1="488.20" x2="69.60" y2="488.20" stroke="#222" stroke-width="1"/>
<line x1="226.50" y1="646.60" x2="226.50" y2="644.40" stroke="#222" stroke-width="1"/>
<line x1="67.40" y1="476.80" x2="69.60" y2="476.80" stroke="#222" stroke-width="1"/>
<line x1="237.90" y1="646.60" x2="237.90" y2="644.40" stroke="#222" stroke-width="1"/>
<line x1="67.40" y1="465.40" x2="70.90" y2="465.40" stroke="#222" stroke-width="1"/>
<line x1="249.30" y1="646.60" x2="249.30" y2="643.10" stroke="#222" stroke-width="1"/>
<line x1="67.40" y1="454.00" x2="69.60" y2="454.00" stroke="#222" stroke-width="1"/>
<line x1="260.70" y1="646.60" x2="260.70" y2="644.40" stroke="#222" stroke-width="1"/>
<line x1="67.40" y1="442.60" x2="69.60" y2="442.60" stroke="#222" stroke-width="1"/>
<line x1="272.10" y1="646.60" x2="272.10" y2="644.40" stroke="#222" stroke-width="1"/>
<line x1="67.40" y1="431.20" x2="69.60" y2="431.20" stroke="#222" stroke-width="1"/>
<line x1="283.50" y1="646.60" x2="283.50" y2="644.40" stroke="#222" stroke-width="1"/>
<line x1="67.40" y1="419.80" x2="69.60" y2="419.80" stroke="#222" stroke-width="1"/>
<line x1="294.90" y1="646.60" x2="294.90" y2="644.40" stroke="#222" stroke-width="1"/>
<line x1="67.40" y1="408.40" x2="70.90" y2="408.40" stroke="#222" stroke-width="1"/>
<line x1="306.30" y1="646.60" x2="306.30" y2="643.10" stroke="#222" stroke-width="1"/>
<text x="61.40" y="413.40" font-size="14" text-anchor="end" >10</text>
<text x="306.30" y="663.80" font-size="14" text-anchor="middle" >10</text>
<text x="61.40" y="470.40" font-size="14" text-anchor="end" >5</text>
<text x="249.30" y="663.80" font-size="14" text-anchor="middle" >5</text>
<text x="61.40" y="527.40" font-size="14" text-anchor="end" >0</text>
<text x="192.30" y="663.80" font-size="14" text-anchor="middle" >0</text>
<text x="61.40" y="584.40" font-size="14" text-anchor="end" >&#8722;5</text>
<text x="135.30" y="663.80" font-size="14" text-anchor="middle" >&#8722;5</text>
<text x="61.40" y="641.40" font-size="14" text-anchor="end" >&#8722;10</text>
<text x="78.30" y="663.80" font-size="14" text-anchor="middle" >&#8722;10</text>
<text x="4.20" y="420.10" font-size="22" text-anchor="start" font-weight="bold">d</text>
<text x="174.30" y="311.10" font-size="14.5" font-style="italic" text-anchor="middle">E</text>
<line x1="167.00" y1="313.10" x2="180.40" y2="313.10" stroke="#000" stroke-width="0.9"/>
<text x="173.70" y="325.60" font-size="13.5" text-anchor="middle">&#916;</text>
<text x="183.40" y="317.80" font-size="15.2">cos<tspan font-family="Liberation Serif, serif" font-size="16" dx="3.5">&#945;</tspan></text>
<text x="173.20" y="685.90" font-size="14.5" font-style="italic" text-anchor="middle">E</text>
<line x1="165.30" y1="687.90" x2="178.70" y2="687.90" stroke="#000" stroke-width="0.9"/>
<text x="172.60" y="699.80" font-size="13.5" text-anchor="middle">&#916;</text>
<text x="182.20" y="692.50" font-size="15.2">cos<tspan font-family="Liberation Serif, serif" font-size="16" dx="3.5">&#945;</tspan></text>
<g transform="translate(0,148.00) rotate(-90)">
<text x="-17.20" y="11.60" font-size="14.5" font-style="italic" text-anchor="middle">E</text>
<line x1="-24.40" y1="14.2" x2="-11.20" y2="14.2" stroke="#000" stroke-width="0.9"/>
<text x="-17.80" y="26.6" font-size="13.5" text-anchor="middle">&#916;</text>
<text x="-6.20" y="19.3" font-size="15.2">sin<tspan font-family="Liberation Serif, serif" font-size="16" dx="3.5">&#945;</tspan></text>
</g>
<g transform="translate(0,522.30) rotate(-90)">
<text x="-17.30" y="11.60" font-size="14.5" font-style="italic" text-anchor="middle">E</text>
<line x1="-24.50" y1="14.2" x2="-11.30" y2="14.2" stroke="#000" stroke-width="0.9"/>
<text x="-17.90" y="26.6" font-size="13.5" text-anchor="middle">&#916;</text>
<text x="-6.70" y="19.3" font-size="15.2">sin<tspan font-family="Liberation Serif, serif" font-size="16" dx="3.5">&#945;</tspan></text>
</g>
<rect x="336.50" y="24.70" width="48.00" height="245.40" fill="#fff" stroke="#555" stroke-width="1"/>
<text x="360.00" y="37.60" font-size="14.5" text-anchor="middle">d<tspan font-style="italic">I</tspan>/d<tspan font-style="italic">V</tspan></text>
<rect x="342.40" y="43.60" width="20.20" height="20.55" fill="#ff0000"/>
<text x="365.40" y="58.12" font-size="12.3" text-anchor="start" >3.0</text>
<rect x="342.40" y="63.85" width="20.20" height="20.55" fill="#ff7700"/>
<text x="365.40" y="78.38" font-size="12.3" text-anchor="start" >2.7</text>
<rect x="342.40" y="84.10" width="20.20" height="20.55" fill="#fff000"/>
<text x="365.40" y="98.62" font-size="12.3" text-anchor="start" >2.4</text>
<rect x="342.40" y="104.35" width="20.20" height="20.55" fill="#8cf500"/>
<text x="365.40" y="118.88" font-size="12.3" text-anchor="start" >2.1</text>
<rect x="342.40" y="124.60" width="20.20" height="20.55" fill="#10f020"/>
<text x="365.40" y="139.12" font-size="12.3" text-anchor="start" >1.8</text>
<rect x="342.40" y="144.85" width="20.20" height="20.55" fill="#00ef6a"/>
<text x="365.40" y="159.38" font-size="12.3" text-anchor="start" >1.5</text>
<rect x="342.40" y="165.10" width="20.20" height="20.55" fill="#00ffe0"/>
<text x="365.40" y="179.62" font-size="12.3" text-anchor="start" >1.2</text>
<rect x="342.40" y="185.35" width="20.20" height="20.55" fill="#0c9cff"/>
<text x="365.40" y="199.88" font-size="12.3" text-anchor="start" >0.9</text>
<rect x="342.40" y="205.60" width="20.20" height="20.55" fill="#0a34ff"/>
<text x="365.40" y="220.12" font-size="12.3" text-anchor="start" >0.6</text>
<rect x="342.40" y="225.85" width="20.20" height="20.55" fill="#4a00f6"/>
<text x="365.40" y="240.38" font-size="12.3" text-anchor="start" >0.3</text>
<rect x="342.40" y="246.10" width="20.20" height="20.55" fill="#c400ff"/>
<text x="365.40" y="260.62" font-size="12.3" text-anchor="start" >0.0</text>
<rect x="355.10" y="407.10" width="46.40" height="247.50" fill="#fff" stroke="#555" stroke-width="1"/>
<text x="377.80" y="419.50" font-size="14.5" text-anchor="middle">d<tspan font-style="italic">I</tspan>/d<tspan font-style="italic">V</tspan></text>
<rect x="361.10" y="423.90" width="17.90" height="17.75" fill="#fff" stroke="#000" stroke-width="1.2"/>
<text x="384.40" y="437.18" font-size="12.3" text-anchor="start" >&gt;3</text>
<rect x="360.50" y="442.25" width="19.10" height="19.25" fill="#ff0000"/>
<text x="382.40" y="456.12" font-size="12.3" text-anchor="start" >3.0</text>
<rect x="360.50" y="461.20" width="19.10" height="19.25" fill="#ff7700"/>
<text x="382.40" y="475.07" font-size="12.3" text-anchor="start" >2.7</text>
<rect x="360.50" y="480.15" width="19.10" height="19.25" fill="#fff000"/>
<text x="382.40" y="494.02" font-size="12.3" text-anchor="start" >2.4</text>
<rect x="360.50" y="499.10" width="19.10" height="19.25" fill="#8cf500"/>
<text x="382.40" y="512.98" font-size="12.3" text-anchor="start" >2.1</text>
<rect x="360.50" y="518.05" width="19.10" height="19.25" fill="#10f020"/>
<text x="382.40" y="531.92" font-size="12.3" text-anchor="start" >1.8</text>
<rect x="360.50" y="537.00" width="19.10" height="19.25" fill="#00ef6a"/>
<text x="382.40" y="550.88" font-size="12.3" text-anchor="start" >1.5</text>
<rect x="360.50" y="555.95" width="19.10" height="19.25" fill="#00ffe0"/>
<text x="382.40" y="569.83" font-size="12.3" text-anchor="start" >1.2</text>
<rect x="360.50" y="574.90" width="19.10" height="19.25" fill="#0c9cff"/>
<text x="382.40" y="588.78" font-size="12.3" text-anchor="start" >0.9</text>
<rect x="360.50" y="593.85" width="19.10" height="19.25" fill="#0a34ff"/>
<text x="382.40" y="607.73" font-size="12.3" text-anchor="start" >0.6</text>
<rect x="360.50" y="612.80" width="19.10" height="19.25" fill="#4a00f6"/>
<text x="382.40" y="626.68" font-size="12.3" text-anchor="start" >0.3</text>
<rect x="360.50" y="631.75" width="19.10" height="19.25" fill="#c400ff"/>
<text x="382.40" y="645.63" font-size="12.3" text-anchor="start" >0.0</text>
<defs><clipPath id="clipb"><rect x="474.80" y="24.50" width="201.80" height="124.00"/></clipPath></defs>
<g clip-path="url(#clipb)" fill="none" stroke-width="1.5" stroke-linejoin="round">
<path d="M474.80,131.55 C475.81,131.42 479.00,131.00 480.85,130.73 C482.70,130.45 484.82,130.52 485.90,129.90 C486.98,129.28 486.98,127.97 487.31,127.01 C487.65,126.04 487.65,123.98 487.92,124.11 C488.19,124.25 488.42,127.56 488.93,127.83 C489.43,128.11 490.27,127.14 490.94,125.77 C491.62,124.39 492.39,121.43 492.96,119.57 C493.53,117.71 493.94,113.92 494.37,114.61 C494.81,115.30 495.15,120.46 495.59,123.70 C496.02,126.94 496.39,131.62 497.00,134.03 C497.60,136.44 497.87,138.17 499.22,138.17 C500.56,138.17 502.88,135.82 505.07,134.03 C507.26,132.24 510.99,133.28 512.33,127.42 C513.68,121.56 512.91,107.86 513.14,98.90 C513.38,89.94 513.51,74.38 513.75,73.69 C513.98,73.00 514.12,88.50 514.55,94.77 C514.99,101.04 515.26,109.23 516.37,111.30 C517.48,113.37 519.43,108.82 521.21,107.17 C523.00,105.51 525.65,105.51 527.07,101.38 C528.48,97.25 529.02,89.53 529.69,82.37 C530.36,75.20 530.63,58.39 531.10,58.39 C531.57,58.39 531.98,75.48 532.51,82.37 C533.05,89.26 533.05,95.73 534.33,99.73 C535.61,103.72 538.00,105.44 540.18,106.34 C542.37,107.24 545.30,105.65 547.45,105.10 C549.60,104.55 551.58,104.76 553.10,103.03 C554.61,101.31 555.72,97.87 556.53,94.77 C557.34,91.67 557.50,83.74 557.94,84.43 C558.38,85.12 558.72,94.84 559.15,98.90 C559.59,102.96 559.12,106.89 560.57,108.82 C562.01,110.75 564.30,110.54 567.83,110.47 C571.36,110.40 577.31,109.10 581.75,108.41 C586.19,107.72 591.10,107.10 594.47,106.34 C597.83,105.58 600.02,104.96 601.93,103.86 C603.85,102.76 604.79,101.59 605.97,99.73 C607.15,97.87 608.19,96.35 609.00,92.70 C609.80,89.05 610.24,77.75 610.81,77.82 C611.38,77.89 611.35,89.32 612.43,93.11 C613.50,96.90 613.47,98.76 617.27,100.55 C621.07,102.34 628.71,103.10 635.23,103.86 C641.76,104.62 648.85,104.76 656.42,105.10 C663.99,105.44 676.60,105.79 680.64,105.93" stroke="#30e030"/>
<path d="M474.80,101.38 C475.07,102.34 475.88,105.93 476.41,107.17 C476.95,108.41 477.49,110.89 478.03,108.82 C478.57,106.75 479.27,99.18 479.64,94.77 C480.01,90.36 480.08,82.37 480.25,82.37 C480.42,82.37 480.52,96.14 480.65,94.77 C480.79,93.39 480.92,74.79 481.06,74.10 C481.19,73.41 481.29,90.29 481.46,90.63 C481.63,90.98 481.80,81.68 482.06,76.17 C482.33,70.66 482.74,55.84 483.07,57.57 C483.41,59.29 483.71,77.20 484.08,86.50 C484.45,95.80 484.92,107.10 485.29,113.37 C485.66,119.64 485.70,121.36 486.30,124.11 C486.91,126.87 488.12,128.52 488.93,129.90 C489.73,131.28 490.30,131.97 491.15,132.38 C491.99,132.79 493.06,132.79 493.97,132.38 C494.88,131.97 495.82,131.28 496.59,129.90 C497.37,128.52 497.94,129.28 498.61,124.11 C499.29,118.95 500.02,109.30 500.63,98.90 C501.24,88.50 501.77,71.48 502.24,61.70 C502.72,51.92 503.05,39.52 503.46,40.21 C503.86,40.90 504.23,57.43 504.67,65.83 C505.10,74.24 505.61,85.26 506.08,90.63 C506.55,96.01 506.99,96.49 507.49,98.07 C508.00,99.66 508.67,100.69 509.11,100.14 C509.54,99.59 509.78,97.80 510.12,94.77 C510.45,91.74 510.82,81.26 511.12,81.95 C511.43,82.64 511.66,93.04 511.93,98.90 C512.20,104.76 511.83,114.47 512.74,117.09 C513.65,119.70 514.45,116.95 517.38,114.61 C520.31,112.26 527.30,104.82 530.29,103.03 C533.29,101.24 528.71,103.31 535.34,103.86 C541.97,104.41 545.83,105.65 570.05,106.34 C594.27,107.03 662.20,107.72 680.64,107.99" stroke="#e02020"/>
<path d="M474.80,87.33 C475.20,86.36 476.38,87.19 477.22,81.54 C478.06,75.89 479.14,61.56 479.85,53.43 C480.55,45.30 480.89,34.49 481.46,32.77 C482.03,31.04 482.64,39.52 483.28,43.10 C483.91,46.68 484.69,53.09 485.29,54.26 C485.90,55.43 486.44,50.26 486.91,50.13 C487.38,49.99 487.58,48.06 488.12,53.43 C488.66,58.81 489.36,73.00 490.14,82.37 C490.91,91.74 492.12,106.89 492.76,109.65 C493.40,112.40 493.60,106.55 493.97,98.90 C494.34,91.25 494.68,68.93 494.98,63.77 C495.28,58.60 495.55,67.35 495.79,67.90 C496.02,68.45 496.12,62.60 496.39,67.07 C496.66,71.55 497.03,85.26 497.40,94.77 C497.77,104.27 498.01,119.43 498.61,124.11 C499.22,128.80 500.13,123.63 501.03,122.87 C501.94,122.12 503.32,120.67 504.06,119.57 C504.80,118.46 505.07,116.19 505.47,116.26 C505.88,116.33 505.88,119.29 506.48,119.98 C507.09,120.67 508.00,120.46 509.11,120.39 C510.22,120.32 511.49,120.53 513.14,119.57 C514.79,118.60 515.87,116.81 518.99,114.61 C522.12,112.40 528.18,109.10 531.91,106.34 C535.64,103.58 538.94,100.55 541.39,98.07 C543.85,95.59 545.23,92.91 546.64,91.46 C548.05,90.01 548.52,91.25 549.87,89.39 C551.21,87.53 553.43,84.09 554.71,80.30 C555.99,76.51 556.87,70.31 557.54,66.66 C558.21,63.01 558.35,56.46 558.75,58.39 C559.15,60.32 559.39,69.14 559.96,78.23 C560.53,87.33 561.14,106.48 562.18,112.95 C563.22,119.43 563.29,116.33 566.22,117.09 C569.14,117.84 575.83,117.64 579.74,117.50 C583.64,117.36 584.98,116.88 589.62,116.26 C594.27,115.64 602.71,114.61 607.58,113.78 C612.46,112.95 612.93,111.99 618.89,111.30 C624.84,110.61 633.01,110.06 643.30,109.65 C653.59,109.23 674.41,108.96 680.64,108.82" stroke="#1a1ad8"/>
</g>
<line x1="474.80" y1="148.50" x2="474.80" y2="146.30" stroke="#000" stroke-width="1"/>
<line x1="474.80" y1="24.50" x2="474.80" y2="26.70" stroke="#000" stroke-width="1"/>
<line x1="494.98" y1="148.50" x2="494.98" y2="147.20" stroke="#000" stroke-width="1"/>
<line x1="494.98" y1="24.50" x2="494.98" y2="25.80" stroke="#000" stroke-width="1"/>
<line x1="515.16" y1="148.50" x2="515.16" y2="146.30" stroke="#000" stroke-width="1"/>
<line x1="515.16" y1="24.50" x2="515.16" y2="26.70" stroke="#000" stroke-width="1"/>
<line x1="535.34" y1="148.50" x2="535.34" y2="147.20" stroke="#000" stroke-width="1"/>
<line x1="535.34" y1="24.50" x2="535.34" y2="25.80" stroke="#000" stroke-width="1"/>
<line x1="555.52" y1="148.50" x2="555.52" y2="146.30" stroke="#000" stroke-width="1"/>
<line x1="555.52" y1="24.50" x2="555.52" y2="26.70" stroke="#000" stroke-width="1"/>
<line x1="575.70" y1="148.50" x2="575.70" y2="147.20" stroke="#000" stroke-width="1"/>
<line x1="575.70" y1="24.50" x2="575.70" y2="25.80" stroke="#000" stroke-width="1"/>
<line x1="595.88" y1="148.50" x2="595.88" y2="146.30" stroke="#000" stroke-width="1"/>
<line x1="595.88" y1="24.50" x2="595.88" y2="26.70" stroke="#000" stroke-width="1"/>
<line x1="616.06" y1="148.50" x2="616.06" y2="147.20" stroke="#000" stroke-width="1"/>
<line x1="616.06" y1="24.50" x2="616.06" y2="25.80" stroke="#000" stroke-width="1"/>
<line x1="636.24" y1="148.50" x2="636.24" y2="146.30" stroke="#000" stroke-width="1"/>
<line x1="636.24" y1="24.50" x2="636.24" y2="26.70" stroke="#000" stroke-width="1"/>
<line x1="656.42" y1="148.50" x2="656.42" y2="147.20" stroke="#000" stroke-width="1"/>
<line x1="656.42" y1="24.50" x2="656.42" y2="25.80" stroke="#000" stroke-width="1"/>
<line x1="676.60" y1="148.50" x2="676.60" y2="146.30" stroke="#000" stroke-width="1"/>
<line x1="676.60" y1="24.50" x2="676.60" y2="26.70" stroke="#000" stroke-width="1"/>
<line x1="474.80" y1="148.50" x2="477.00" y2="148.50" stroke="#000" stroke-width="0.8"/>
<line x1="676.60" y1="148.50" x2="674.40" y2="148.50" stroke="#000" stroke-width="0.8"/>
<line x1="474.80" y1="144.37" x2="475.80" y2="144.37" stroke="#000" stroke-width="0.8"/>
<line x1="676.60" y1="144.37" x2="675.60" y2="144.37" stroke="#000" stroke-width="0.8"/>
<line x1="474.80" y1="140.23" x2="475.80" y2="140.23" stroke="#000" stroke-width="0.8"/>
<line x1="676.60" y1="140.23" x2="675.60" y2="140.23" stroke="#000" stroke-width="0.8"/>
<line x1="474.80" y1="136.10" x2="475.80" y2="136.10" stroke="#000" stroke-width="0.8"/>
<line x1="676.60" y1="136.10" x2="675.60" y2="136.10" stroke="#000" stroke-width="0.8"/>
<line x1="474.80" y1="131.97" x2="475.80" y2="131.97" stroke="#000" stroke-width="0.8"/>
<line x1="676.60" y1="131.97" x2="675.60" y2="131.97" stroke="#000" stroke-width="0.8"/>
<line x1="474.80" y1="127.83" x2="477.00" y2="127.83" stroke="#000" stroke-width="0.8"/>
<line x1="676.60" y1="127.83" x2="674.40" y2="127.83" stroke="#000" stroke-width="0.8"/>
<line x1="474.80" y1="123.70" x2="475.80" y2="123.70" stroke="#000" stroke-width="0.8"/>
<line x1="676.60" y1="123.70" x2="675.60" y2="123.70" stroke="#000" stroke-width="0.8"/>
<line x1="474.80" y1="119.57" x2="475.80" y2="119.57" stroke="#000" stroke-width="0.8"/>
<line x1="676.60" y1="119.57" x2="675.60" y2="119.57" stroke="#000" stroke-width="0.8"/>
<line x1="474.80" y1="115.43" x2="475.80" y2="115.43" stroke="#000" stroke-width="0.8"/>
<line x1="676.60" y1="115.43" x2="675.60" y2="115.43" stroke="#000" stroke-width="0.8"/>
<line x1="474.80" y1="111.30" x2="475.80" y2="111.30" stroke="#000" stroke-width="0.8"/>
<line x1="676.60" y1="111.30" x2="675.60" y2="111.30" stroke="#000" stroke-width="0.8"/>
<line x1="474.80" y1="107.17" x2="477.00" y2="107.17" stroke="#000" stroke-width="0.8"/>
<line x1="676.60" y1="107.17" x2="674.40" y2="107.17" stroke="#000" stroke-width="0.8"/>
<line x1="474.80" y1="103.03" x2="475.80" y2="103.03" stroke="#000" stroke-width="0.8"/>
<line x1="676.60" y1="103.03" x2="675.60" y2="103.03" stroke="#000" stroke-width="0.8"/>
<line x1="474.80" y1="98.90" x2="475.80" y2="98.90" stroke="#000" stroke-width="0.8"/>
<line x1="676.60" y1="98.90" x2="675.60" y2="98.90" stroke="#000" stroke-width="0.8"/>
<line x1="474.80" y1="94.77" x2="475.80" y2="94.77" stroke="#000" stroke-width="0.8"/>
<line x1="676.60" y1="94.77" x2="675.60" y2="94.77" stroke="#000" stroke-width="0.8"/>
<line x1="474.80" y1="90.63" x2="475.80" y2="90.63" stroke="#000" stroke-width="0.8"/>
<line x1="676.60" y1="90.63" x2="675.60" y2="90.63" stroke="#000" stroke-width="0.8"/>
<line x1="474.80" y1="86.50" x2="477.00" y2="86.50" stroke="#000" stroke-width="0.8"/>
<line x1="676.60" y1="86.50" x2="674.40" y2="86.50" stroke="#000" stroke-width="0.8"/>
<line x1="474.80" y1="82.37" x2="475.80" y2="82.37" stroke="#000" stroke-width="0.8"/>
<line x1="676.60" y1="82.37" x2="675.60" y2="82.37" stroke="#000" stroke-width="0.8"/>
<line x1="474.80" y1="78.23" x2="475.80" y2="78.23" stroke="#000" stroke-width="0.8"/>
<line x1="676.60" y1="78.23" x2="675.60" y2="78.23" stroke="#000" stroke-width="0.8"/>
<line x1="474.80" y1="74.10" x2="475.80" y2="74.10" stroke="#000" stroke-width="0.8"/>
<line x1="676.60" y1="74.10" x2="675.60" y2="74.10" stroke="#000" stroke-width="0.8"/>
<line x1="474.80" y1="69.97" x2="475.80" y2="69.97" stroke="#000" stroke-width="0.8"/>
<line x1="676.60" y1="69.97" x2="675.60" y2="69.97" stroke="#000" stroke-width="0.8"/>
<line x1="474.80" y1="65.83" x2="477.00" y2="65.83" stroke="#000" stroke-width="0.8"/>
<line x1="676.60" y1="65.83" x2="674.40" y2="65.83" stroke="#000" stroke-width="0.8"/>
<line x1="474.80" y1="61.70" x2="475.80" y2="61.70" stroke="#000" stroke-width="0.8"/>
<line x1="676.60" y1="61.70" x2="675.60" y2="61.70" stroke="#000" stroke-width="0.8"/>
<line x1="474.80" y1="57.57" x2="475.80" y2="57.57" stroke="#000" stroke-width="0.8"/>
<line x1="676.60" y1="57.57" x2="675.60" y2="57.57" stroke="#000" stroke-width="0.8"/>
<line x1="474.80" y1="53.43" x2="475.80" y2="53.43" stroke="#000" stroke-width="0.8"/>
<line x1="676.60" y1="53.43" x2="675.60" y2="53.43" stroke="#000" stroke-width="0.8"/>
<line x1="474.80" y1="49.30" x2="475.80" y2="49.30" stroke="#000" stroke-width="0.8"/>
<line x1="676.60" y1="49.30" x2="675.60" y2="49.30" stroke="#000" stroke-width="0.8"/>
<line x1="474.80" y1="45.17" x2="477.00" y2="45.17" stroke="#000" stroke-width="0.8"/>
<line x1="676.60" y1="45.17" x2="674.40" y2="45.17" stroke="#000" stroke-width="0.8"/>
<line x1="474.80" y1="41.03" x2="475.80" y2="41.03" stroke="#000" stroke-width="0.8"/>
<line x1="676.60" y1="41.03" x2="675.60" y2="41.03" stroke="#000" stroke-width="0.8"/>
<line x1="474.80" y1="36.90" x2="475.80" y2="36.90" stroke="#000" stroke-width="0.8"/>
<line x1="676.60" y1="36.90" x2="675.60" y2="36.90" stroke="#000" stroke-width="0.8"/>
<line x1="474.80" y1="32.77" x2="475.80" y2="32.77" stroke="#000" stroke-width="0.8"/>
<line x1="676.60" y1="32.77" x2="675.60" y2="32.77" stroke="#000" stroke-width="0.8"/>
<line x1="474.80" y1="28.63" x2="475.80" y2="28.63" stroke="#000" stroke-width="0.8"/>
<line x1="676.60" y1="28.63" x2="675.60" y2="28.63" stroke="#000" stroke-width="0.8"/>
<line x1="474.80" y1="24.50" x2="477.00" y2="24.50" stroke="#000" stroke-width="0.8"/>
<line x1="676.60" y1="24.50" x2="674.40" y2="24.50" stroke="#000" stroke-width="0.8"/>
<rect x="474.80" y="24.50" width="201.80" height="124.00" fill="none" stroke="#000" stroke-width="1.4"/>
<text x="469.00" y="153.10" font-size="14.5" text-anchor="end" >0.0</text>
<text x="469.00" y="132.43" font-size="14.5" text-anchor="end" >0.5</text>
<text x="469.00" y="111.77" font-size="14.5" text-anchor="end" >1.0</text>
<text x="469.00" y="91.10" font-size="14.5" text-anchor="end" >1.5</text>
<text x="469.00" y="70.43" font-size="14.5" text-anchor="end" >2.0</text>
<text x="469.00" y="49.77" font-size="14.5" text-anchor="end" >2.5</text>
<text x="469.00" y="29.10" font-size="14.5" text-anchor="end" >3.0</text>
<text x="474.80" y="166.00" font-size="14.5" text-anchor="middle" >0</text>
<text x="515.16" y="166.00" font-size="14.5" text-anchor="middle" >2</text>
<text x="555.52" y="166.00" font-size="14.5" text-anchor="middle" >4</text>
<text x="595.88" y="166.00" font-size="14.5" text-anchor="middle" >6</text>
<text x="636.24" y="166.00" font-size="14.5" text-anchor="middle" >8</text>
<text x="676.60" y="166.00" font-size="14.5" text-anchor="middle" >10</text>
<line x1="596.00" y1="32.80" x2="636.50" y2="32.80" stroke="#1a1ad8" stroke-width="1.3"/>
<text x="643.00" y="35.80" font-size="10.5" font-family="Liberation Serif, serif">&#945; = 0</text>
<line x1="596.00" y1="49.30" x2="636.50" y2="49.30" stroke="#e02020" stroke-width="1.3"/>
<text x="643.00" y="52.30" font-size="10.5" font-family="Liberation Serif, serif">&#945; =</text>
<text x="664.00" y="49.00" font-size="7" font-family="Liberation Sans, sans-serif" text-anchor="middle">&#960;</text>
<line x1="661.00" y1="49.90" x2="667.00" y2="49.90" stroke="#000" stroke-width="0.5"/>
<text x="664.00" y="55.90" font-size="7" font-family="Liberation Sans, sans-serif" text-anchor="middle">12</text>
<line x1="596.00" y1="65.80" x2="636.50" y2="65.80" stroke="#30e030" stroke-width="1.3"/>
<text x="643.00" y="68.80" font-size="10.5" font-family="Liberation Serif, serif">&#945; =</text>
<text x="664.00" y="65.50" font-size="7" font-family="Liberation Sans, sans-serif" text-anchor="middle">&#960;</text>
<line x1="661.00" y1="66.40" x2="667.00" y2="66.40" stroke="#000" stroke-width="0.5"/>
<text x="664.00" y="72.40" font-size="7" font-family="Liberation Sans, sans-serif" text-anchor="middle">6</text>
<text x="423.50" y="17.50" font-size="22" text-anchor="start" font-weight="bold">b</text>
<text transform="translate(436.00,86.50) rotate(-90)" font-size="14.5" text-anchor="middle">d<tspan font-style="italic">I</tspan>/d<tspan font-style="italic">V</tspan> (normalized)</text>
<text x="576.30" y="187.00" font-size="14.5" font-style="italic" text-anchor="middle">E</text>
<line x1="568.90" y1="189.40" x2="582.50" y2="189.40" stroke="#000" stroke-width="0.9"/>
<text x="575.70" y="201.40" font-size="13.5" text-anchor="middle">&#916;</text>
<defs><clipPath id="clipe"><rect x="473.10" y="441.90" width="201.90" height="124.40"/></clipPath></defs>
<g clip-path="url(#clipe)" fill="none" stroke-width="1.5" stroke-linejoin="round">
<path d="M479.76,429.46 C479.90,431.53 480.27,434.30 480.57,441.90 C480.87,449.50 481.21,465.40 481.58,475.07 C481.95,484.75 482.32,492.49 482.79,499.95 C483.26,507.42 483.83,514.74 484.41,519.86 C484.98,524.97 485.58,527.87 486.22,530.64 C486.86,533.40 487.43,534.79 488.24,536.44 C489.05,538.10 489.89,539.07 491.07,540.59 C492.25,542.11 493.86,544.25 495.31,545.57 C496.76,546.88 497.56,547.64 499.75,548.47 C501.94,549.30 505.13,550.13 508.43,550.54 C511.73,550.96 514.05,551.30 519.54,550.96 C525.02,550.61 535.42,549.16 541.34,548.47 C547.26,547.78 546.46,547.92 555.07,546.81 C563.69,545.70 580.38,543.42 593.03,541.83 C605.68,540.25 621.50,538.52 630.99,537.27 C640.48,536.03 641.96,535.27 649.96,534.37 C657.97,533.47 674.19,532.30 679.04,531.88" stroke="#30e030"/>
<path d="M474.11,429.46 C474.28,437.06 474.68,459.66 475.12,475.07 C475.56,490.49 476.20,511.22 476.73,521.93 C477.27,532.64 477.81,534.99 478.35,539.35 C478.89,543.70 479.33,545.98 479.96,548.05 C480.60,550.13 481.28,550.96 482.19,551.79 C483.09,552.62 484.07,552.96 485.42,553.03 C486.76,553.10 488.24,552.82 490.26,552.20 C492.28,551.58 492.65,551.44 497.53,549.30 C502.41,547.16 513.51,542.04 519.54,539.35 C525.56,536.65 530.04,534.92 533.67,533.13 C537.30,531.33 539.49,529.95 541.34,528.57 C543.19,527.18 543.97,526.08 544.77,524.83 C545.58,523.59 545.31,521.59 546.19,521.10 C547.06,520.62 548.54,521.65 550.02,521.93 C551.50,522.21 551.07,522.41 555.07,522.76 C559.08,523.11 564.56,523.66 574.05,524.00 C583.54,524.35 594.51,524.63 612.01,524.83 C629.51,525.04 667.87,525.18 679.04,525.25" stroke="#e02020"/>
<path d="M473.10,566.30 C473.44,566.06 473.57,565.75 475.12,564.85 C476.67,563.95 478.65,562.74 482.39,560.91 C486.12,559.08 491.34,556.21 497.53,553.86 C503.72,551.51 512.23,548.95 519.54,546.81 C526.84,544.67 535.42,542.59 541.34,541.01 C547.26,539.42 549.62,538.66 555.07,537.27 C560.52,535.89 567.72,534.23 574.05,532.71 C580.38,531.19 586.70,529.67 593.03,528.15 C599.35,526.63 606.42,525.04 612.01,523.59 C617.59,522.14 622.10,521.03 626.54,519.44 C630.99,517.85 635.29,516.06 638.66,514.05 C642.02,512.05 644.38,509.91 646.73,507.42 C649.09,504.93 651.38,502.10 652.79,499.12 C654.20,496.15 654.61,494.01 655.21,489.59 C655.82,485.16 656.02,472.59 656.43,472.59 C656.83,472.59 657.06,485.03 657.64,489.59 C658.21,494.15 658.81,497.19 659.86,499.95 C660.90,502.72 662.38,504.45 663.90,506.17 C665.41,507.90 666.42,508.94 668.94,510.32 C671.47,511.70 677.36,513.78 679.04,514.47" stroke="#1a1ad8"/>
</g>
<line x1="473.10" y1="566.30" x2="473.10" y2="564.10" stroke="#000" stroke-width="1"/>
<line x1="473.10" y1="441.90" x2="473.10" y2="444.10" stroke="#000" stroke-width="1"/>
<line x1="493.29" y1="566.30" x2="493.29" y2="565.00" stroke="#000" stroke-width="1"/>
<line x1="493.29" y1="441.90" x2="493.29" y2="443.20" stroke="#000" stroke-width="1"/>
<line x1="513.48" y1="566.30" x2="513.48" y2="564.10" stroke="#000" stroke-width="1"/>
<line x1="513.48" y1="441.90" x2="513.48" y2="444.10" stroke="#000" stroke-width="1"/>
<line x1="533.67" y1="566.30" x2="533.67" y2="565.00" stroke="#000" stroke-width="1"/>
<line x1="533.67" y1="441.90" x2="533.67" y2="443.20" stroke="#000" stroke-width="1"/>
<line x1="553.86" y1="566.30" x2="553.86" y2="564.10" stroke="#000" stroke-width="1"/>
<line x1="553.86" y1="441.90" x2="553.86" y2="444.10" stroke="#000" stroke-width="1"/>
<line x1="574.05" y1="566.30" x2="574.05" y2="565.00" stroke="#000" stroke-width="1"/>
<line x1="574.05" y1="441.90" x2="574.05" y2="443.20" stroke="#000" stroke-width="1"/>
<line x1="594.24" y1="566.30" x2="594.24" y2="564.10" stroke="#000" stroke-width="1"/>
<line x1="594.24" y1="441.90" x2="594.24" y2="444.10" stroke="#000" stroke-width="1"/>
<line x1="614.43" y1="566.30" x2="614.43" y2="565.00" stroke="#000" stroke-width="1"/>
<line x1="614.43" y1="441.90" x2="614.43" y2="443.20" stroke="#000" stroke-width="1"/>
<line x1="634.62" y1="566.30" x2="634.62" y2="564.10" stroke="#000" stroke-width="1"/>
<line x1="634.62" y1="441.90" x2="634.62" y2="444.10" stroke="#000" stroke-width="1"/>
<line x1="654.81" y1="566.30" x2="654.81" y2="565.00" stroke="#000" stroke-width="1"/>
<line x1="654.81" y1="441.90" x2="654.81" y2="443.20" stroke="#000" stroke-width="1"/>
<line x1="675.00" y1="566.30" x2="675.00" y2="564.10" stroke="#000" stroke-width="1"/>
<line x1="675.00" y1="441.90" x2="675.00" y2="444.10" stroke="#000" stroke-width="1"/>
<line x1="473.10" y1="566.30" x2="475.30" y2="566.30" stroke="#000" stroke-width="0.8"/>
<line x1="675.00" y1="566.30" x2="672.80" y2="566.30" stroke="#000" stroke-width="0.8"/>
<line x1="473.10" y1="562.15" x2="474.10" y2="562.15" stroke="#000" stroke-width="0.8"/>
<line x1="675.00" y1="562.15" x2="674.00" y2="562.15" stroke="#000" stroke-width="0.8"/>
<line x1="473.10" y1="558.01" x2="474.10" y2="558.01" stroke="#000" stroke-width="0.8"/>
<line x1="675.00" y1="558.01" x2="674.00" y2="558.01" stroke="#000" stroke-width="0.8"/>
<line x1="473.10" y1="553.86" x2="474.10" y2="553.86" stroke="#000" stroke-width="0.8"/>
<line x1="675.00" y1="553.86" x2="674.00" y2="553.86" stroke="#000" stroke-width="0.8"/>
<line x1="473.10" y1="549.71" x2="474.10" y2="549.71" stroke="#000" stroke-width="0.8"/>
<line x1="675.00" y1="549.71" x2="674.00" y2="549.71" stroke="#000" stroke-width="0.8"/>
<line x1="473.10" y1="545.57" x2="475.30" y2="545.57" stroke="#000" stroke-width="0.8"/>
<line x1="675.00" y1="545.57" x2="672.80" y2="545.57" stroke="#000" stroke-width="0.8"/>
<line x1="473.10" y1="541.42" x2="474.10" y2="541.42" stroke="#000" stroke-width="0.8"/>
<line x1="675.00" y1="541.42" x2="674.00" y2="541.42" stroke="#000" stroke-width="0.8"/>
<line x1="473.10" y1="537.27" x2="474.10" y2="537.27" stroke="#000" stroke-width="0.8"/>
<line x1="675.00" y1="537.27" x2="674.00" y2="537.27" stroke="#000" stroke-width="0.8"/>
<line x1="473.10" y1="533.13" x2="474.10" y2="533.13" stroke="#000" stroke-width="0.8"/>
<line x1="675.00" y1="533.13" x2="674.00" y2="533.13" stroke="#000" stroke-width="0.8"/>
<line x1="473.10" y1="528.98" x2="474.10" y2="528.98" stroke="#000" stroke-width="0.8"/>
<line x1="675.00" y1="528.98" x2="674.00" y2="528.98" stroke="#000" stroke-width="0.8"/>
<line x1="473.10" y1="524.83" x2="475.30" y2="524.83" stroke="#000" stroke-width="0.8"/>
<line x1="675.00" y1="524.83" x2="672.80" y2="524.83" stroke="#000" stroke-width="0.8"/>
<line x1="473.10" y1="520.69" x2="474.10" y2="520.69" stroke="#000" stroke-width="0.8"/>
<line x1="675.00" y1="520.69" x2="674.00" y2="520.69" stroke="#000" stroke-width="0.8"/>
<line x1="473.10" y1="516.54" x2="474.10" y2="516.54" stroke="#000" stroke-width="0.8"/>
<line x1="675.00" y1="516.54" x2="674.00" y2="516.54" stroke="#000" stroke-width="0.8"/>
<line x1="473.10" y1="512.39" x2="474.10" y2="512.39" stroke="#000" stroke-width="0.8"/>
<line x1="675.00" y1="512.39" x2="674.00" y2="512.39" stroke="#000" stroke-width="0.8"/>
<line x1="473.10" y1="508.25" x2="474.10" y2="508.25" stroke="#000" stroke-width="0.8"/>
<line x1="675.00" y1="508.25" x2="674.00" y2="508.25" stroke="#000" stroke-width="0.8"/>
<line x1="473.10" y1="504.10" x2="475.30" y2="504.10" stroke="#000" stroke-width="0.8"/>
<line x1="675.00" y1="504.10" x2="672.80" y2="504.10" stroke="#000" stroke-width="0.8"/>
<line x1="473.10" y1="499.95" x2="474.10" y2="499.95" stroke="#000" stroke-width="0.8"/>
<line x1="675.00" y1="499.95" x2="674.00" y2="499.95" stroke="#000" stroke-width="0.8"/>
<line x1="473.10" y1="495.81" x2="474.10" y2="495.81" stroke="#000" stroke-width="0.8"/>
<line x1="675.00" y1="495.81" x2="674.00" y2="495.81" stroke="#000" stroke-width="0.8"/>
<line x1="473.10" y1="491.66" x2="474.10" y2="491.66" stroke="#000" stroke-width="0.8"/>
<line x1="675.00" y1="491.66" x2="674.00" y2="491.66" stroke="#000" stroke-width="0.8"/>
<line x1="473.10" y1="487.51" x2="474.10" y2="487.51" stroke="#000" stroke-width="0.8"/>
<line x1="675.00" y1="487.51" x2="674.00" y2="487.51" stroke="#000" stroke-width="0.8"/>
<line x1="473.10" y1="483.37" x2="475.30" y2="483.37" stroke="#000" stroke-width="0.8"/>
<line x1="675.00" y1="483.37" x2="672.80" y2="483.37" stroke="#000" stroke-width="0.8"/>
<line x1="473.10" y1="479.22" x2="474.10" y2="479.22" stroke="#000" stroke-width="0.8"/>
<line x1="675.00" y1="479.22" x2="674.00" y2="479.22" stroke="#000" stroke-width="0.8"/>
<line x1="473.10" y1="475.07" x2="474.10" y2="475.07" stroke="#000" stroke-width="0.8"/>
<line x1="675.00" y1="475.07" x2="674.00" y2="475.07" stroke="#000" stroke-width="0.8"/>
<line x1="473.10" y1="470.93" x2="474.10" y2="470.93" stroke="#000" stroke-width="0.8"/>
<line x1="675.00" y1="470.93" x2="674.00" y2="470.93" stroke="#000" stroke-width="0.8"/>
<line x1="473.10" y1="466.78" x2="474.10" y2="466.78" stroke="#000" stroke-width="0.8"/>
<line x1="675.00" y1="466.78" x2="674.00" y2="466.78" stroke="#000" stroke-width="0.8"/>
<line x1="473.10" y1="462.63" x2="475.30" y2="462.63" stroke="#000" stroke-width="0.8"/>
<line x1="675.00" y1="462.63" x2="672.80" y2="462.63" stroke="#000" stroke-width="0.8"/>
<line x1="473.10" y1="458.49" x2="474.10" y2="458.49" stroke="#000" stroke-width="0.8"/>
<line x1="675.00" y1="458.49" x2="674.00" y2="458.49" stroke="#000" stroke-width="0.8"/>
<line x1="473.10" y1="454.34" x2="474.10" y2="454.34" stroke="#000" stroke-width="0.8"/>
<line x1="675.00" y1="454.34" x2="674.00" y2="454.34" stroke="#000" stroke-width="0.8"/>
<line x1="473.10" y1="450.19" x2="474.10" y2="450.19" stroke="#000" stroke-width="0.8"/>
<line x1="675.00" y1="450.19" x2="674.00" y2="450.19" stroke="#000" stroke-width="0.8"/>
<line x1="473.10" y1="446.05" x2="474.10" y2="446.05" stroke="#000" stroke-width="0.8"/>
<line x1="675.00" y1="446.05" x2="674.00" y2="446.05" stroke="#000" stroke-width="0.8"/>
<line x1="473.10" y1="441.90" x2="475.30" y2="441.90" stroke="#000" stroke-width="0.8"/>
<line x1="675.00" y1="441.90" x2="672.80" y2="441.90" stroke="#000" stroke-width="0.8"/>
<rect x="473.10" y="441.90" width="201.90" height="124.40" fill="none" stroke="#000" stroke-width="1.4"/>
<text x="467.30" y="570.90" font-size="14.5" text-anchor="end" >0.0</text>
<text x="467.30" y="550.17" font-size="14.5" text-anchor="end" >0.5</text>
<text x="467.30" y="529.43" font-size="14.5" text-anchor="end" >1.0</text>
<text x="467.30" y="508.70" font-size="14.5" text-anchor="end" >1.5</text>
<text x="467.30" y="487.97" font-size="14.5" text-anchor="end" >2.0</text>
<text x="467.30" y="467.23" font-size="14.5" text-anchor="end" >2.5</text>
<text x="467.30" y="446.50" font-size="14.5" text-anchor="end" >3.0</text>
<text x="473.10" y="583.80" font-size="14.5" text-anchor="middle" >0</text>
<text x="513.48" y="583.80" font-size="14.5" text-anchor="middle" >2</text>
<text x="553.86" y="583.80" font-size="14.5" text-anchor="middle" >4</text>
<text x="594.24" y="583.80" font-size="14.5" text-anchor="middle" >6</text>
<text x="634.62" y="583.80" font-size="14.5" text-anchor="middle" >8</text>
<text x="675.00" y="583.80" font-size="14.5" text-anchor="middle" >10</text>
<line x1="553.80" y1="449.90" x2="593.50" y2="449.90" stroke="#1a1ad8" stroke-width="1.3"/>
<text x="599.60" y="452.90" font-size="10.5" font-family="Liberation Serif, serif">&#945; = 0</text>
<line x1="553.80" y1="466.70" x2="593.50" y2="466.70" stroke="#e02020" stroke-width="1.3"/>
<text x="599.60" y="469.70" font-size="10.5" font-family="Liberation Serif, serif">&#945; =</text>
<text x="620.60" y="466.40" font-size="7" font-family="Liberation Sans, sans-serif" text-anchor="middle">&#960;</text>
<line x1="617.60" y1="467.30" x2="623.60" y2="467.30" stroke="#000" stroke-width="0.5"/>
<text x="620.60" y="473.30" font-size="7" font-family="Liberation Sans, sans-serif" text-anchor="middle">12</text>
<line x1="553.80" y1="483.50" x2="593.50" y2="483.50" stroke="#30e030" stroke-width="1.3"/>
<text x="599.60" y="486.50" font-size="10.5" font-family="Liberation Serif, serif">&#945; =</text>
<text x="620.60" y="483.20" font-size="7" font-family="Liberation Sans, sans-serif" text-anchor="middle">&#960;</text>
<line x1="617.60" y1="484.10" x2="623.60" y2="484.10" stroke="#000" stroke-width="0.5"/>
<text x="620.60" y="490.10" font-size="7" font-family="Liberation Sans, sans-serif" text-anchor="middle">6</text>
<text x="422.80" y="436.40" font-size="22" text-anchor="start" font-weight="bold">e</text>
<text transform="translate(436.00,504.10) rotate(-90)" font-size="14.5" text-anchor="middle">d<tspan font-style="italic">I</tspan>/d<tspan font-style="italic">V</tspan> (normalized)</text>
<text x="574.80" y="604.70" font-size="14.5" font-style="italic" text-anchor="middle">E</text>
<line x1="567.40" y1="607.10" x2="581.00" y2="607.10" stroke="#000" stroke-width="0.9"/>
<text x="574.20" y="619.10" font-size="13.5" text-anchor="middle">&#916;</text>
<line x1="573.40" y1="313.20" x2="640.90" y2="313.20" stroke="#9a9a9a" stroke-width="0.7"/>
<line x1="573.40" y1="313.20" x2="631.86" y2="279.45" stroke="#9a9a9a" stroke-width="0.7"/>
<line x1="573.40" y1="313.20" x2="607.15" y2="254.74" stroke="#9a9a9a" stroke-width="0.7"/>
<line x1="573.40" y1="313.20" x2="573.40" y2="245.70" stroke="#9a9a9a" stroke-width="0.7"/>
<line x1="573.40" y1="313.20" x2="539.65" y2="254.74" stroke="#9a9a9a" stroke-width="0.7"/>
<line x1="573.40" y1="313.20" x2="514.94" y2="279.45" stroke="#9a9a9a" stroke-width="0.7"/>
<line x1="573.40" y1="313.20" x2="505.90" y2="313.20" stroke="#9a9a9a" stroke-width="0.7"/>
<line x1="573.40" y1="313.20" x2="514.94" y2="346.95" stroke="#9a9a9a" stroke-width="0.7"/>
<line x1="573.40" y1="313.20" x2="539.65" y2="371.66" stroke="#9a9a9a" stroke-width="0.7"/>
<line x1="573.40" y1="313.20" x2="573.40" y2="380.70" stroke="#9a9a9a" stroke-width="0.7"/>
<line x1="573.40" y1="313.20" x2="607.15" y2="371.66" stroke="#9a9a9a" stroke-width="0.7"/>
<line x1="573.40" y1="313.20" x2="631.86" y2="346.95" stroke="#9a9a9a" stroke-width="0.7"/>
<circle cx="573.40" cy="313.20" r="16.88" fill="none" stroke="#9a9a9a" stroke-width="0.7"/>
<circle cx="573.40" cy="313.20" r="33.75" fill="none" stroke="#9a9a9a" stroke-width="0.7"/>
<circle cx="573.40" cy="313.20" r="50.62" fill="none" stroke="#9a9a9a" stroke-width="0.7"/>
<circle cx="573.40" cy="313.20" r="67.50" fill="none" stroke="#111" stroke-width="1.0"/>
<path d="M585.41,313.20 L588.57,311.48 L593.72,308.40 L599.68,304.72 L602.95,302.38 L608.71,298.36 L615.76,293.36 L620.13,290.14 L622.43,288.12 L623.49,286.36 L623.11,284.50 L621.69,283.24 L619.63,283.28 L616.73,284.26 L611.76,286.44 L603.91,290.04 L597.55,293.02 L593.88,294.68 L587.72,298.00 L582.47,300.92 L579.41,302.80 L579.40,302.80 L579.50,299.20 L579.40,293.20 L579.20,286.20 L578.80,282.20 L578.20,275.20 L577.40,266.60 L576.80,261.20 L576.20,258.20 L575.20,256.40 L573.40,255.80 L571.60,256.40 L570.60,258.20 L570.00,261.20 L569.40,266.60 L568.60,275.20 L568.00,282.20 L567.60,286.20 L567.40,293.20 L567.30,299.20 L567.40,302.80 L567.39,302.80 L564.33,300.92 L559.08,298.00 L552.92,294.68 L549.25,293.02 L542.89,290.04 L535.04,286.44 L530.07,284.26 L527.17,283.28 L525.11,283.24 L523.69,284.50 L523.31,286.36 L524.37,288.12 L526.67,290.14 L531.04,293.36 L538.09,298.36 L543.85,302.38 L547.12,304.72 L553.08,308.40 L558.23,311.48 L561.39,313.20 L561.39,313.20 L558.23,314.92 L553.08,318.00 L547.12,321.68 L543.85,324.02 L538.09,328.04 L531.04,333.04 L526.67,336.26 L524.37,338.28 L523.31,340.04 L523.69,341.90 L525.11,343.16 L527.17,343.12 L530.07,342.14 L535.04,339.96 L542.89,336.36 L549.25,333.38 L552.92,331.72 L559.08,328.40 L564.33,325.48 L567.39,323.60 L567.40,323.60 L567.30,327.20 L567.40,333.20 L567.60,340.20 L568.00,344.20 L568.60,351.20 L569.40,359.80 L570.00,365.20 L570.60,368.20 L571.60,370.00 L573.40,370.60 L575.20,370.00 L576.20,368.20 L576.80,365.20 L577.40,359.80 L578.20,351.20 L578.80,344.20 L579.20,340.20 L579.40,333.20 L579.50,327.20 L579.40,323.60 L579.41,323.60 L582.47,325.48 L587.72,328.40 L593.88,331.72 L597.55,333.38 L603.91,336.36 L611.76,339.96 L616.73,342.14 L619.63,343.12 L621.69,343.16 L623.11,341.90 L623.49,340.04 L622.43,338.28 L620.13,336.26 L615.76,333.04 L608.71,328.04 L602.95,324.02 L599.68,321.68 L593.72,318.00 L588.57,314.92 L585.41,313.20 Z" fill="none" stroke="#3838dc" stroke-width="0.95" stroke-linejoin="round"/>
<circle cx="585.20" cy="313.20" r="1.5" fill="#2020d0"/>
<circle cx="579.30" cy="302.98" r="1.5" fill="#2020d0"/>
<circle cx="567.50" cy="302.98" r="1.5" fill="#2020d0"/>
<circle cx="561.60" cy="313.20" r="1.5" fill="#2020d0"/>
<circle cx="567.50" cy="323.42" r="1.5" fill="#2020d0"/>
<circle cx="579.30" cy="323.42" r="1.5" fill="#2020d0"/>
<text x="576.90" y="300.82" font-size="10" text-anchor="start" >2.</text>
<text x="576.90" y="283.95" font-size="10" text-anchor="start" >4.</text>
<text x="576.90" y="267.07" font-size="10" text-anchor="start" >6.</text>
<text x="572.40" y="228.40" font-size="11" text-anchor="middle">&#960;</text>
<line x1="568.40" y1="230.00" x2="576.40" y2="230.00" stroke="#111" stroke-width="0.8"/>
<text x="572.40" y="239.68" font-size="11" text-anchor="middle">2</text>
<text x="613.50" y="239.60" font-size="11" text-anchor="middle">&#960;</text>
<line x1="609.50" y1="241.20" x2="617.50" y2="241.20" stroke="#111" stroke-width="0.8"/>
<text x="613.50" y="250.88" font-size="11" text-anchor="middle">3</text>
<text x="641.70" y="267.60" font-size="11" text-anchor="middle">&#960;</text>
<line x1="637.70" y1="269.20" x2="645.70" y2="269.20" stroke="#111" stroke-width="0.8"/>
<text x="641.70" y="278.88" font-size="11" text-anchor="middle">6</text>
<text x="650.60" y="318.70" font-size="11.5" text-anchor="middle" >0</text>
<text x="647.00" y="354.40" font-size="11" text-anchor="middle">11&#8201;&#960;</text>
<line x1="640.00" y1="356.00" x2="654.00" y2="356.00" stroke="#111" stroke-width="0.8"/>
<text x="647.00" y="365.68" font-size="11" text-anchor="middle">6</text>
<text x="614.20" y="386.70" font-size="11" text-anchor="middle">5&#8201;&#960;</text>
<line x1="608.45" y1="388.30" x2="619.95" y2="388.30" stroke="#111" stroke-width="0.8"/>
<text x="614.20" y="397.98" font-size="11" text-anchor="middle">3</text>
<text x="573.10" y="399.10" font-size="11" text-anchor="middle">3&#8201;&#960;</text>
<line x1="567.35" y1="400.70" x2="578.85" y2="400.70" stroke="#111" stroke-width="0.8"/>
<text x="573.10" y="410.38" font-size="11" text-anchor="middle">2</text>
<text x="531.90" y="386.70" font-size="11" text-anchor="middle">4&#8201;&#960;</text>
<line x1="526.15" y1="388.30" x2="537.65" y2="388.30" stroke="#111" stroke-width="0.8"/>
<text x="531.90" y="397.98" font-size="11" text-anchor="middle">3</text>
<text x="501.60" y="352.70" font-size="11" text-anchor="middle">7&#8201;&#960;</text>
<line x1="495.85" y1="354.30" x2="507.35" y2="354.30" stroke="#111" stroke-width="0.8"/>
<text x="501.60" y="363.98" font-size="11" text-anchor="middle">6</text>
<text x="495.60" y="316.70" font-size="11" text-anchor="middle" >&#960;</text>
<text x="504.10" y="270.40" font-size="11" text-anchor="middle">5&#8201;&#960;</text>
<line x1="498.35" y1="272.00" x2="509.85" y2="272.00" stroke="#111" stroke-width="0.8"/>
<text x="504.10" y="281.68" font-size="11" text-anchor="middle">6</text>
<text x="531.90" y="240.30" font-size="11" text-anchor="middle">2&#8201;&#960;</text>
<line x1="526.15" y1="241.90" x2="537.65" y2="241.90" stroke="#111" stroke-width="0.8"/>
<text x="531.90" y="251.58" font-size="11" text-anchor="middle">3</text>
<line x1="572.80" y1="729.50" x2="640.80" y2="729.50" stroke="#9a9a9a" stroke-width="0.7"/>
<line x1="572.80" y1="729.50" x2="631.69" y2="695.50" stroke="#9a9a9a" stroke-width="0.7"/>
<line x1="572.80" y1="729.50" x2="606.80" y2="670.61" stroke="#9a9a9a" stroke-width="0.7"/>
<line x1="572.80" y1="729.50" x2="572.80" y2="661.50" stroke="#9a9a9a" stroke-width="0.7"/>
<line x1="572.80" y1="729.50" x2="538.80" y2="670.61" stroke="#9a9a9a" stroke-width="0.7"/>
<line x1="572.80" y1="729.50" x2="513.91" y2="695.50" stroke="#9a9a9a" stroke-width="0.7"/>
<line x1="572.80" y1="729.50" x2="504.80" y2="729.50" stroke="#9a9a9a" stroke-width="0.7"/>
<line x1="572.80" y1="729.50" x2="513.91" y2="763.50" stroke="#9a9a9a" stroke-width="0.7"/>
<line x1="572.80" y1="729.50" x2="538.80" y2="788.39" stroke="#9a9a9a" stroke-width="0.7"/>
<line x1="572.80" y1="729.50" x2="572.80" y2="797.50" stroke="#9a9a9a" stroke-width="0.7"/>
<line x1="572.80" y1="729.50" x2="606.80" y2="788.39" stroke="#9a9a9a" stroke-width="0.7"/>
<line x1="572.80" y1="729.50" x2="631.69" y2="763.50" stroke="#9a9a9a" stroke-width="0.7"/>
<circle cx="572.80" cy="729.50" r="13.60" fill="none" stroke="#9a9a9a" stroke-width="0.7"/>
<circle cx="572.80" cy="729.50" r="27.20" fill="none" stroke="#9a9a9a" stroke-width="0.7"/>
<circle cx="572.80" cy="729.50" r="40.80" fill="none" stroke="#9a9a9a" stroke-width="0.7"/>
<circle cx="572.80" cy="729.50" r="54.40" fill="none" stroke="#9a9a9a" stroke-width="0.7"/>
<circle cx="572.80" cy="729.50" r="68.00" fill="none" stroke="#111" stroke-width="1.0"/>
<path d="M572.80,729.50 L575.98,728.79 L579.14,728.01 L582.26,727.18 L585.35,726.28 L588.38,725.33 L591.34,724.32 L594.24,723.27 L597.06,722.18 L599.79,721.04 L602.43,719.87 L604.96,718.68 L607.38,717.46 L609.69,716.22 L611.87,714.97 L613.93,713.71 L615.85,712.46 L617.63,711.21 L619.26,709.97 L620.75,708.75 L622.09,707.56 L623.27,706.39 L624.30,705.27 L625.16,704.19 L625.87,703.16 L626.42,702.18 L626.80,701.27 L627.03,700.42 L627.09,699.65 L627.00,698.96 L626.75,698.35 L626.35,697.83 L625.80,697.40 L625.10,697.07 L624.25,696.85 L623.27,696.73 L622.15,696.71 L620.90,696.81 L619.53,697.02 L618.05,697.34 L616.45,697.79 L614.75,698.35 L612.95,699.03 L611.06,699.83 L609.08,700.74 L607.04,701.78 L604.92,702.93 L602.75,704.19 L600.52,705.57 L598.25,707.06 L595.95,708.66 L593.62,710.36 L591.27,712.15 L588.91,714.05 L586.55,716.03 L584.20,718.10 L581.86,720.25 L579.55,722.47 L577.26,724.75 L575.01,727.10 L572.80,729.50 Z" fill="none" stroke="#3030d8" stroke-width="0.8"/>
<path d="M572.80,729.50 L573.78,726.39 L574.68,723.27 L575.52,720.14 L576.28,717.02 L576.97,713.92 L577.59,710.85 L578.13,707.82 L578.59,704.83 L578.97,701.90 L579.28,699.03 L579.51,696.24 L579.66,693.53 L579.74,690.91 L579.75,688.40 L579.69,685.99 L579.56,683.70 L579.37,681.53 L579.12,679.50 L578.81,677.60 L578.44,675.84 L578.02,674.24 L577.56,672.79 L577.06,671.49 L576.52,670.37 L575.95,669.41 L575.35,668.61 L574.73,668.00 L574.10,667.55 L573.45,667.29 L572.80,667.20 L572.15,667.29 L571.50,667.55 L570.87,668.00 L570.25,668.61 L569.65,669.41 L569.08,670.37 L568.54,671.49 L568.04,672.79 L567.58,674.24 L567.16,675.84 L566.79,677.60 L566.48,679.50 L566.23,681.53 L566.04,683.70 L565.91,685.99 L565.85,688.40 L565.86,690.91 L565.94,693.53 L566.09,696.24 L566.32,699.03 L566.63,701.90 L567.01,704.83 L567.47,707.82 L568.01,710.85 L568.63,713.92 L569.32,717.02 L570.08,720.14 L570.92,723.27 L571.82,726.39 L572.80,729.50 Z" fill="none" stroke="#3030d8" stroke-width="0.8"/>
<path d="M572.80,729.50 L570.59,727.10 L568.34,724.75 L566.05,722.47 L563.74,720.25 L561.40,718.10 L559.05,716.03 L556.69,714.05 L554.33,712.15 L551.98,710.36 L549.65,708.66 L547.35,707.06 L545.08,705.57 L542.85,704.19 L540.68,702.93 L538.56,701.78 L536.52,700.74 L534.54,699.83 L532.65,699.03 L530.85,698.35 L529.15,697.79 L527.55,697.34 L526.07,697.02 L524.70,696.81 L523.45,696.71 L522.33,696.73 L521.35,696.85 L520.50,697.07 L519.80,697.40 L519.25,697.83 L518.85,698.35 L518.60,698.96 L518.51,699.65 L518.57,700.42 L518.80,701.27 L519.18,702.18 L519.73,703.16 L520.44,704.19 L521.30,705.27 L522.33,706.39 L523.51,707.56 L524.85,708.75 L526.34,709.97 L527.97,711.21 L529.75,712.46 L531.67,713.71 L533.73,714.97 L535.91,716.22 L538.22,717.46 L540.64,718.68 L543.17,719.87 L545.81,721.04 L548.54,722.18 L551.36,723.27 L554.26,724.32 L557.22,725.33 L560.25,726.28 L563.34,727.18 L566.46,728.01 L569.62,728.79 L572.80,729.50 Z" fill="none" stroke="#3030d8" stroke-width="0.8"/>
<path d="M572.80,729.50 L569.62,730.21 L566.46,730.99 L563.34,731.82 L560.25,732.72 L557.22,733.67 L554.26,734.68 L551.36,735.73 L548.54,736.82 L545.81,737.96 L543.17,739.13 L540.64,740.32 L538.22,741.54 L535.91,742.78 L533.73,744.03 L531.67,745.29 L529.75,746.54 L527.97,747.79 L526.34,749.03 L524.85,750.25 L523.51,751.44 L522.33,752.61 L521.30,753.73 L520.44,754.81 L519.73,755.84 L519.18,756.82 L518.80,757.73 L518.57,758.58 L518.51,759.35 L518.60,760.04 L518.85,760.65 L519.25,761.17 L519.80,761.60 L520.50,761.93 L521.35,762.15 L522.33,762.27 L523.45,762.29 L524.70,762.19 L526.07,761.98 L527.55,761.66 L529.15,761.21 L530.85,760.65 L532.65,759.97 L534.54,759.17 L536.52,758.26 L538.56,757.22 L540.68,756.07 L542.85,754.81 L545.08,753.43 L547.35,751.94 L549.65,750.34 L551.98,748.64 L554.33,746.85 L556.69,744.95 L559.05,742.97 L561.40,740.90 L563.74,738.75 L566.05,736.53 L568.34,734.25 L570.59,731.90 L572.80,729.50 Z" fill="none" stroke="#3030d8" stroke-width="0.8"/>
<path d="M572.80,729.50 L571.82,732.61 L570.92,735.73 L570.08,738.86 L569.32,741.98 L568.63,745.08 L568.01,748.15 L567.47,751.18 L567.01,754.17 L566.63,757.10 L566.32,759.97 L566.09,762.76 L565.94,765.47 L565.86,768.09 L565.85,770.60 L565.91,773.01 L566.04,775.30 L566.23,777.47 L566.48,779.50 L566.79,781.40 L567.16,783.16 L567.58,784.76 L568.04,786.21 L568.54,787.51 L569.08,788.63 L569.65,789.59 L570.25,790.39 L570.87,791.00 L571.50,791.45 L572.15,791.71 L572.80,791.80 L573.45,791.71 L574.10,791.45 L574.73,791.00 L575.35,790.39 L575.95,789.59 L576.52,788.63 L577.06,787.51 L577.56,786.21 L578.02,784.76 L578.44,783.16 L578.81,781.40 L579.12,779.50 L579.37,777.47 L579.56,775.30 L579.69,773.01 L579.75,770.60 L579.74,768.09 L579.66,765.47 L579.51,762.76 L579.28,759.97 L578.97,757.10 L578.59,754.17 L578.13,751.18 L577.59,748.15 L576.97,745.08 L576.28,741.98 L575.52,738.86 L574.68,735.73 L573.78,732.61 L572.80,729.50 Z" fill="none" stroke="#3030d8" stroke-width="0.8"/>
<path d="M572.80,729.50 L575.01,731.90 L577.26,734.25 L579.55,736.53 L581.86,738.75 L584.20,740.90 L586.55,742.97 L588.91,744.95 L591.27,746.85 L593.62,748.64 L595.95,750.34 L598.25,751.94 L600.52,753.43 L602.75,754.81 L604.92,756.07 L607.04,757.22 L609.08,758.26 L611.06,759.17 L612.95,759.97 L614.75,760.65 L616.45,761.21 L618.05,761.66 L619.53,761.98 L620.90,762.19 L622.15,762.29 L623.27,762.27 L624.25,762.15 L625.10,761.93 L625.80,761.60 L626.35,761.17 L626.75,760.65 L627.00,760.04 L627.09,759.35 L627.03,758.58 L626.80,757.73 L626.42,756.82 L625.87,755.84 L625.16,754.81 L624.30,753.73 L623.27,752.61 L622.09,751.44 L620.75,750.25 L619.26,749.03 L617.63,747.79 L615.85,746.54 L613.93,745.29 L611.87,744.03 L609.69,742.78 L607.38,741.54 L604.96,740.32 L602.43,739.13 L599.79,737.96 L597.06,736.82 L594.24,735.73 L591.34,734.68 L588.38,733.67 L585.35,732.72 L582.26,731.82 L579.14,730.99 L575.98,730.21 L572.80,729.50 Z" fill="none" stroke="#3030d8" stroke-width="0.8"/>
<circle cx="572.80" cy="729.50" r="1.4" fill="#2020d0"/>
<text x="576.30" y="719.80" font-size="10" text-anchor="start" >2.</text>
<text x="576.30" y="706.20" font-size="10" text-anchor="start" >4.</text>
<text x="576.30" y="692.60" font-size="10" text-anchor="start" >6.</text>
<text x="576.30" y="679.00" font-size="10" text-anchor="start" >8.</text>
<line x1="566.80" y1="665.50" x2="578.80" y2="665.50" stroke="#e02020" stroke-width="2"/>
<line x1="511.37" y1="761.50" x2="523.37" y2="761.50" stroke="#e02020" stroke-width="2"/>
<line x1="622.23" y1="761.50" x2="634.23" y2="761.50" stroke="#e02020" stroke-width="2"/>
<path d="M620.01,698.20 h14 M627.01,691.20 v14" stroke="#000" stroke-width="2.2"/>
<path d="M511.59,698.20 h14 M518.59,691.20 v14" stroke="#000" stroke-width="2.2"/>
<path d="M565.80,792.10 h14 M572.80,785.10 v14" stroke="#000" stroke-width="2.2"/>
<text x="571.80" y="644.70" font-size="11" text-anchor="middle">&#960;</text>
<line x1="567.80" y1="646.30" x2="575.80" y2="646.30" stroke="#111" stroke-width="0.8"/>
<text x="571.80" y="655.98" font-size="11" text-anchor="middle">2</text>
<text x="612.90" y="655.90" font-size="11" text-anchor="middle">&#960;</text>
<line x1="608.90" y1="657.50" x2="616.90" y2="657.50" stroke="#111" stroke-width="0.8"/>
<text x="612.90" y="667.18" font-size="11" text-anchor="middle">3</text>
<text x="641.10" y="683.90" font-size="11" text-anchor="middle">&#960;</text>
<line x1="637.10" y1="685.50" x2="645.10" y2="685.50" stroke="#111" stroke-width="0.8"/>
<text x="641.10" y="695.18" font-size="11" text-anchor="middle">6</text>
<text x="650.00" y="735.00" font-size="11.5" text-anchor="middle" >0</text>
<text x="646.40" y="770.70" font-size="11" text-anchor="middle">11&#8201;&#960;</text>
<line x1="639.40" y1="772.30" x2="653.40" y2="772.30" stroke="#111" stroke-width="0.8"/>
<text x="646.40" y="781.98" font-size="11" text-anchor="middle">6</text>
<text x="613.60" y="803.00" font-size="11" text-anchor="middle">5&#8201;&#960;</text>
<line x1="607.85" y1="804.60" x2="619.35" y2="804.60" stroke="#111" stroke-width="0.8"/>
<text x="613.60" y="814.28" font-size="11" text-anchor="middle">3</text>
<text x="572.50" y="815.40" font-size="11" text-anchor="middle">3&#8201;&#960;</text>
<line x1="566.75" y1="817.00" x2="578.25" y2="817.00" stroke="#111" stroke-width="0.8"/>
<text x="572.50" y="826.68" font-size="11" text-anchor="middle">2</text>
<text x="531.30" y="803.00" font-size="11" text-anchor="middle">4&#8201;&#960;</text>
<line x1="525.55" y1="804.60" x2="537.05" y2="804.60" stroke="#111" stroke-width="0.8"/>
<text x="531.30" y="814.28" font-size="11" text-anchor="middle">3</text>
<text x="501.00" y="769.00" font-size="11" text-anchor="middle">7&#8201;&#960;</text>
<line x1="495.25" y1="770.60" x2="506.75" y2="770.60" stroke="#111" stroke-width="0.8"/>
<text x="501.00" y="780.28" font-size="11" text-anchor="middle">6</text>
<text x="495.00" y="733.00" font-size="11" text-anchor="middle" >&#960;</text>
<text x="503.50" y="686.70" font-size="11" text-anchor="middle">5&#8201;&#960;</text>
<line x1="497.75" y1="688.30" x2="509.25" y2="688.30" stroke="#111" stroke-width="0.8"/>
<text x="503.50" y="697.98" font-size="11" text-anchor="middle">6</text>
<text x="531.30" y="656.60" font-size="11" text-anchor="middle">2&#8201;&#960;</text>
<line x1="525.55" y1="658.20" x2="537.05" y2="658.20" stroke="#111" stroke-width="0.8"/>
<text x="531.30" y="667.88" font-size="11" text-anchor="middle">3</text>
<text x="423.30" y="237.50" font-size="22" text-anchor="start" font-weight="bold">c</text>
<text x="423.30" y="650.80" font-size="22" text-anchor="start" font-weight="bold">f</text>
</svg></body></html>
